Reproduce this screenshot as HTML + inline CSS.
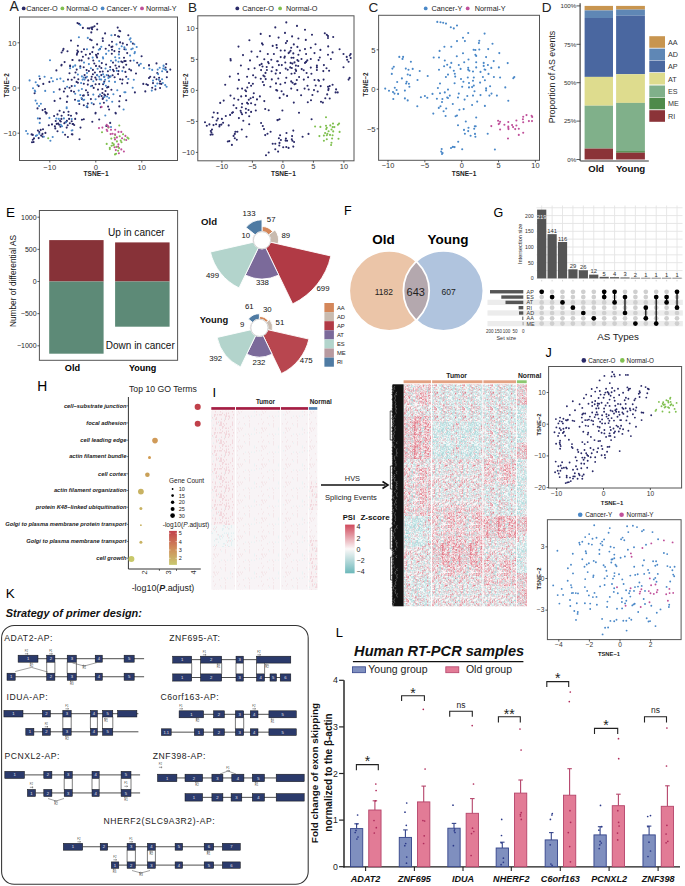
<!DOCTYPE html>
<html><head><meta charset="utf-8"><style>
html,body{margin:0;padding:0;background:#fff;}
svg{display:block;font-family:"Liberation Sans",sans-serif;}
</style></head><body>
<svg width="685" height="886" viewBox="0 0 685 886" font-family="Liberation Sans, sans-serif">
<rect width="685" height="886" fill="#fff"/>
<text x="9.5" y="11.4" font-size="14" fill="#222">A</text>
<circle cx="23.7" cy="8.4" r="1.9" fill="#2a2a68"/>
<text x="26.3" y="11.0" font-size="7.25" fill="#222">Cancer-O</text>
<circle cx="62.4" cy="8.4" r="1.9" fill="#80c050"/>
<text x="66.3" y="11.0" font-size="7.25" fill="#222">Normal-O</text>
<circle cx="102.6" cy="8.4" r="1.9" fill="#4a88c8"/>
<text x="106.6" y="11.0" font-size="7.25" fill="#222">Cancer-Y</text>
<circle cx="142.0" cy="8.4" r="1.9" fill="#c0509a"/>
<text x="146.0" y="11.0" font-size="7.25" fill="#222">Normal-Y</text>
<rect x="19.5" y="17" width="158.00" height="143.50" fill="none" stroke="#555" stroke-width="1.0"/>
<line x1="49.80" y1="160.50" x2="49.80" y2="162.50" stroke="#333" stroke-width="0.8"/>
<text x="49.8" y="170.0" font-size="7.6" text-anchor="middle" fill="#333">−10</text>
<line x1="95.80" y1="160.50" x2="95.80" y2="162.50" stroke="#333" stroke-width="0.8"/>
<text x="95.8" y="170.0" font-size="7.6" text-anchor="middle" fill="#333">0</text>
<line x1="141.80" y1="160.50" x2="141.80" y2="162.50" stroke="#333" stroke-width="0.8"/>
<text x="141.8" y="170.0" font-size="7.6" text-anchor="middle" fill="#333">10</text>
<line x1="17.50" y1="42.80" x2="19.50" y2="42.80" stroke="#333" stroke-width="0.8"/>
<text x="16.5" y="45.5" font-size="7.6" text-anchor="end" fill="#333">10</text>
<line x1="17.50" y1="88.00" x2="19.50" y2="88.00" stroke="#333" stroke-width="0.8"/>
<text x="16.5" y="90.7" font-size="7.6" text-anchor="end" fill="#333">0</text>
<line x1="17.50" y1="133.20" x2="19.50" y2="133.20" stroke="#333" stroke-width="0.8"/>
<text x="16.5" y="135.9" font-size="7.6" text-anchor="end" fill="#333">−10</text>
<text x="96.1" y="175.5" font-size="6.6" text-anchor="middle" font-weight="bold" fill="#222">TSNE−1</text>
<text x="9.1" y="85.2" font-size="6.3" text-anchor="middle" font-weight="bold" fill="#222" transform="rotate(-90 9.1 85.2)">TSNE−2</text>
<path d="M71.0 40.6h0M63.5 48.9h0M62.8 50.5h0M61.6 52.5h0M67.5 51.3h0M72.4 60.0h0M64.6 62.1h0M61.6 64.7h0M70.1 65.5h0M77.5 23.1h0M79.1 23.9h0M82.9 27.9h0M87.8 28.3h0M89.3 28.4h0M91.3 27.6h0M92.7 27.2h0M94.5 26.3h0M92.1 29.2h0M91.3 32.4h0M97.2 23.7h0M97.2 29.5h0M105.1 33.4h0M115.0 35.0h0M117.7 27.6h0M119.3 30.8h0M120.2 31.3h0M118.1 36.3h0M119.1 36.7h0M90.1 39.5h0M91.6 40.3h0M102.7 38.4h0M102.9 41.0h0M112.0 41.8h0M120.1 42.4h0M122.8 43.4h0M97.1 44.4h0M77.9 45.8h0M109.2 45.2h0M111.4 47.0h0M112.4 46.6h0M84.0 49.2h0M93.3 47.4h0M100.0 48.9h0M105.7 48.7h0M77.4 50.5h0M78.1 51.7h0M81.6 51.7h0M77.1 53.3h0M76.9 54.8h0M112.0 49.7h0M114.4 51.1h0M119.1 51.8h0M124.4 49.3h0M85.8 54.7h0M90.0 53.9h0M92.3 52.1h0M98.0 53.7h0M96.0 54.8h0M96.4 55.8h0M111.8 53.7h0M82.9 56.8h0M97.1 57.4h0M88.6 58.4h0M124.0 57.8h0M72.6 60.0h0M79.3 60.4h0M81.6 60.4h0M93.3 60.5h0M101.8 63.1h0M113.0 62.6h0M121.3 61.5h0M122.5 62.3h0M124.4 61.1h0M94.3 63.5h0M106.1 64.5h0M115.5 65.5h0M128.3 35.3h0M127.0 44.7h0M132.9 43.6h0M127.2 53.1h0M141.6 56.3h0M125.6 61.0h0M130.4 60.8h0M126.2 64.7h0M137.2 62.7h0M149.0 65.1h0M156.5 63.4h0M166.2 64.1h0M61.4 65.4h0M70.1 66.2h0M56.4 70.4h0M69.5 73.3h0M39.9 78.8h0M49.4 81.9h0M43.3 83.9h0M38.7 86.1h0M68.0 79.6h0M71.7 79.8h0M59.6 89.4h0M65.1 88.5h0M69.5 87.7h0M71.7 86.1h0M63.9 91.6h0M71.2 90.9h0M34.6 93.2h0M67.5 96.4h0M60.2 98.5h0M54.6 100.9h0M66.9 101.9h0M37.5 108.4h0M42.6 110.1h0M45.0 109.1h0M45.4 111.9h0M46.7 113.1h0M59.6 110.7h0M63.8 112.3h0M68.5 111.7h0M80.3 66.4h0M83.7 67.2h0M86.6 70.1h0M88.9 71.1h0M76.7 69.6h0M75.5 72.5h0M92.9 69.9h0M94.9 72.5h0M96.0 65.9h0M99.4 66.4h0M101.3 68.0h0M100.0 71.7h0M102.7 71.5h0M107.9 71.3h0M110.2 67.0h0M113.0 69.7h0M113.8 71.1h0M116.5 68.2h0M119.1 66.6h0M123.6 67.4h0M118.5 71.1h0M118.1 74.1h0M112.6 75.2h0M114.6 77.2h0M120.1 79.2h0M122.5 79.6h0M122.1 83.5h0M84.6 75.1h0M85.8 77.6h0M92.9 74.3h0M91.7 76.8h0M95.3 77.6h0M97.2 75.2h0M101.3 75.1h0M104.3 76.7h0M108.3 75.6h0M109.8 76.8h0M74.4 77.5h0M78.3 79.2h0M76.6 81.9h0M77.9 82.7h0M83.8 83.8h0M87.8 84.6h0M88.2 80.4h0M91.3 79.2h0M96.4 79.6h0M95.6 84.3h0M99.2 84.1h0M103.1 84.3h0M92.1 85.7h0M93.7 87.9h0M104.3 81.6h0M107.1 87.5h0M108.3 86.9h0M98.0 89.6h0M102.4 89.0h0M111.4 89.8h0M105.5 91.0h0M86.0 90.2h0M87.8 92.6h0M88.2 95.0h0M74.0 91.8h0M83.0 95.6h0M83.8 95.4h0M102.4 93.0h0M104.3 94.6h0M105.1 95.4h0M107.9 94.2h0M98.8 96.4h0M101.6 96.1h0M102.7 98.9h0M103.1 98.1h0M120.1 96.1h0M75.0 99.7h0M90.9 99.1h0M81.9 98.9h0M103.9 102.8h0M119.3 101.3h0M79.3 104.0h0M83.8 105.2h0M87.8 103.6h0M93.7 104.3h0M87.4 107.2h0M108.1 106.6h0M109.1 109.5h0M119.3 106.4h0M100.8 107.2h0M76.3 113.1h0M95.6 112.7h0M115.5 112.9h0M139.0 65.4h0M149.0 65.4h0M129.3 69.3h0M131.1 70.4h0M125.4 71.9h0M136.0 73.5h0M126.2 76.8h0M127.4 83.1h0M143.3 83.9h0M146.4 84.3h0M147.9 85.1h0M149.0 78.0h0M150.2 76.7h0M154.3 77.2h0M157.3 73.0h0M159.1 77.8h0M156.5 79.3h0M160.1 81.2h0M153.0 83.1h0M159.7 83.5h0M161.3 83.9h0M152.2 87.7h0M155.4 89.4h0M160.1 88.0h0M167.2 71.9h0M170.3 69.6h0M165.6 67.5h0M166.8 77.2h0M134.9 92.4h0M145.3 91.4h0M126.2 100.3h0M46.2 113.6h0M57.5 114.4h0M54.1 116.0h0M61.6 115.8h0M68.5 115.0h0M71.0 115.8h0M39.9 118.5h0M61.4 118.9h0M55.7 121.0h0M60.0 120.7h0M60.8 121.5h0M69.1 118.9h0M71.7 121.3h0M66.9 120.9h0M65.5 122.3h0M64.3 123.2h0M69.8 123.2h0M72.6 124.0h0M48.8 125.2h0M52.0 124.4h0M56.7 123.9h0M58.3 123.6h0M59.2 124.7h0M54.9 126.2h0M60.4 126.8h0M67.7 125.2h0M66.7 127.6h0M55.3 128.4h0M57.5 131.3h0M37.9 130.5h0M40.7 129.9h0M43.0 129.2h0M39.3 132.1h0M45.4 132.9h0M42.5 133.9h0M41.1 135.5h0M42.6 136.6h0M38.7 138.1h0M31.6 134.4h0M32.8 134.9h0M34.0 138.4h0M32.8 139.8h0M32.0 142.2h0M33.6 142.0h0M65.1 134.7h0M67.9 137.0h0M71.8 134.3h0M76.6 113.6h0M95.5 113.4h0M115.8 113.4h0M75.2 118.9h0M81.9 119.7h0M83.8 119.3h0M92.3 121.8h0M99.2 119.5h0M110.2 122.9h0M73.2 124.0h0M74.2 125.0h0M80.5 127.6h0M72.4 134.4h0M79.5 139.2h0M106.3 126.0h0" stroke="#2a2a68" stroke-width="2.10" stroke-linecap="round" fill="none"/>
<path d="M50.0 60.2h0M80.3 24.9h0M78.9 37.3h0M87.8 37.9h0M111.4 35.3h0M116.5 44.4h0M101.3 46.8h0M98.8 49.7h0M100.0 49.2h0M87.0 49.3h0M108.7 50.7h0M121.7 46.2h0M124.4 47.4h0M119.3 48.7h0M106.1 53.9h0M118.9 54.4h0M102.9 57.2h0M103.1 58.4h0M92.7 57.6h0M115.2 57.2h0M119.3 58.0h0M115.8 60.4h0M111.0 60.8h0M99.2 61.1h0M84.0 62.6h0M88.9 64.1h0M75.2 65.2h0M118.5 61.8h0M130.5 38.3h0M129.7 39.5h0M130.9 41.8h0M134.3 44.2h0M136.7 47.0h0M131.3 49.3h0M132.7 48.5h0M125.9 49.5h0M134.9 52.1h0M134.5 53.3h0M130.1 55.6h0M133.8 60.5h0M140.8 63.7h0M139.0 64.7h0M163.6 65.5h0M70.1 68.3h0M73.0 67.0h0M39.3 76.2h0M44.6 76.7h0M29.6 80.4h0M35.7 82.2h0M51.3 78.0h0M52.9 81.2h0M57.0 79.2h0M60.4 78.6h0M63.5 81.2h0M37.5 85.1h0M33.0 88.3h0M34.8 90.6h0M35.2 91.4h0M45.2 90.9h0M53.8 92.0h0M67.1 86.7h0M35.6 100.6h0M37.0 103.6h0M40.9 103.8h0M39.1 106.0h0M66.7 107.2h0M66.7 108.2h0M73.2 66.6h0M75.2 65.6h0M80.3 68.0h0M90.9 68.3h0M97.6 68.8h0M105.5 68.5h0M110.2 69.7h0M116.9 70.7h0M122.3 71.1h0M77.9 74.5h0M87.0 73.0h0M81.9 76.4h0M83.8 77.5h0M87.0 76.8h0M82.6 79.6h0M84.6 79.6h0M97.1 75.1h0M99.2 76.8h0M103.1 74.3h0M103.9 76.7h0M106.7 75.1h0M110.6 76.4h0M108.4 78.0h0M109.1 81.2h0M99.6 79.3h0M101.2 79.6h0M105.1 79.8h0M115.0 81.9h0M93.3 81.2h0M81.1 83.0h0M74.8 85.9h0M90.9 86.3h0M103.9 83.1h0M105.9 85.7h0M78.7 90.6h0M81.9 89.0h0M75.2 93.8h0M80.3 95.0h0M93.3 94.6h0M100.0 94.6h0M117.3 90.2h0M124.4 92.2h0M113.4 94.3h0M104.3 96.9h0M107.1 96.5h0M109.1 98.0h0M95.6 99.3h0M81.5 98.0h0M78.1 100.9h0M79.1 100.9h0M83.4 100.1h0M84.2 99.7h0M106.7 100.5h0M112.2 101.7h0M91.7 103.1h0M100.0 103.5h0M87.0 106.0h0M86.6 106.8h0M123.6 109.5h0M143.9 68.0h0M149.4 68.8h0M152.2 69.9h0M157.7 69.6h0M159.7 67.8h0M163.6 65.9h0M163.2 68.5h0M164.8 69.3h0M166.0 69.9h0M162.1 71.3h0M158.1 74.1h0M128.3 79.0h0M133.8 79.8h0M153.0 80.6h0M158.9 79.8h0M162.1 79.2h0M157.3 83.5h0M162.8 83.0h0M165.2 85.1h0M166.6 86.7h0M155.4 86.1h0M132.7 87.7h0M151.8 90.6h0M125.4 92.2h0M37.9 118.4h0M49.4 117.9h0M56.4 118.5h0M58.8 118.9h0M63.9 118.4h0M71.7 119.1h0M39.7 122.9h0M66.1 122.3h0M60.8 124.8h0M62.0 126.2h0M26.1 131.0h0M27.7 133.7h0M39.3 133.7h0M35.9 135.9h0M37.0 135.2h0M43.8 136.8h0M52.7 137.0h0M50.4 140.7h0M62.8 132.3h0M71.7 130.5h0M105.3 115.5h0M111.0 127.0h0M72.4 130.3h0" stroke="#4a88c8" stroke-width="2.10" stroke-linecap="round" fill="none"/>
<path d="M48.2 138.2h0M108.3 127.6h0M119.3 125.5h0M102.0 132.3h0M115.2 135.1h0M123.1 134.3h0M111.3 138.6h0M114.6 137.8h0M119.7 136.3h0M124.4 139.6h0M116.9 141.4h0M120.7 140.6h0M121.5 142.3h0M106.7 143.9h0M112.4 143.1h0M113.8 144.4h0M111.6 145.7h0M113.6 145.2h0M109.8 147.7h0M109.8 149.1h0M116.5 146.9h0M119.1 148.1h0M118.1 150.7h0M115.0 154.4h0M116.1 153.8h0M127.4 137.6h0M128.5 138.6h0" stroke="#80c050" stroke-width="2.10" stroke-linecap="round" fill="none"/>
<path d="M101.6 106.9h0M106.7 124.8h0M107.9 126.0h0M108.7 127.0h0M99.0 128.1h0M102.4 127.6h0M106.7 129.7h0M107.3 131.0h0M111.0 129.7h0M115.2 129.7h0M118.5 131.9h0M121.3 131.9h0M110.6 134.1h0M112.6 133.7h0M115.0 134.3h0M116.9 137.4h0M115.0 139.4h0M122.1 138.2h0M125.4 135.9h0M118.4 144.4h0M114.6 147.3h0M118.1 146.7h0M115.8 150.1h0M121.3 149.4h0M123.9 151.5h0M118.9 153.2h0M126.2 140.0h0" stroke="#c0509a" stroke-width="2.10" stroke-linecap="round" fill="none"/>
<text x="187.9" y="11.8" font-size="13.5" fill="#222">B</text>
<circle cx="237.3" cy="8.4" r="1.9" fill="#2a2a68"/>
<text x="242.3" y="11.0" font-size="7.3" fill="#222">Cancer-O</text>
<circle cx="280.1" cy="8.4" r="1.9" fill="#80c050"/>
<text x="285.9" y="11.0" font-size="7.3" fill="#222">Normal-O</text>
<rect x="197.8" y="15.8" width="156.20" height="145.00" fill="none" stroke="#555" stroke-width="1.0"/>
<line x1="221.90" y1="160.80" x2="221.90" y2="162.80" stroke="#333" stroke-width="0.8"/>
<text x="221.9" y="169.2" font-size="7.4" text-anchor="middle" fill="#333">−10</text>
<line x1="252.40" y1="160.80" x2="252.40" y2="162.80" stroke="#333" stroke-width="0.8"/>
<text x="252.4" y="169.2" font-size="7.4" text-anchor="middle" fill="#333">−5</text>
<line x1="282.90" y1="160.80" x2="282.90" y2="162.80" stroke="#333" stroke-width="0.8"/>
<text x="282.9" y="169.2" font-size="7.4" text-anchor="middle" fill="#333">0</text>
<line x1="313.40" y1="160.80" x2="313.40" y2="162.80" stroke="#333" stroke-width="0.8"/>
<text x="313.4" y="169.2" font-size="7.4" text-anchor="middle" fill="#333">5</text>
<line x1="343.90" y1="160.80" x2="343.90" y2="162.80" stroke="#333" stroke-width="0.8"/>
<text x="343.9" y="169.2" font-size="7.4" text-anchor="middle" fill="#333">10</text>
<line x1="195.80" y1="28.40" x2="197.80" y2="28.40" stroke="#333" stroke-width="0.8"/>
<text x="194.8" y="31.1" font-size="7.6" text-anchor="end" fill="#333">10</text>
<line x1="195.80" y1="59.40" x2="197.80" y2="59.40" stroke="#333" stroke-width="0.8"/>
<text x="194.8" y="62.1" font-size="7.6" text-anchor="end" fill="#333">5</text>
<line x1="195.80" y1="90.40" x2="197.80" y2="90.40" stroke="#333" stroke-width="0.8"/>
<text x="194.8" y="93.1" font-size="7.6" text-anchor="end" fill="#333">0</text>
<line x1="195.80" y1="121.40" x2="197.80" y2="121.40" stroke="#333" stroke-width="0.8"/>
<text x="194.8" y="124.1" font-size="7.6" text-anchor="end" fill="#333">−5</text>
<line x1="195.80" y1="152.40" x2="197.80" y2="152.40" stroke="#333" stroke-width="0.8"/>
<text x="194.8" y="155.1" font-size="7.6" text-anchor="end" fill="#333">−10</text>
<text x="188.1" y="85.4" font-size="6.3" text-anchor="middle" font-weight="bold" fill="#222" transform="rotate(-90 188.1 85.4)">TSNE−2</text>
<text x="283.4" y="175.8" font-size="6.5" text-anchor="middle" font-weight="bold" fill="#222">TSNE−1</text>
<path d="M237.7 88.6h0M242.1 88.6h0M245.3 90.3h0M246.1 91.3h0M276.2 90.1h0M253.8 93.3h0M230.5 95.6h0M241.2 96.4h0M245.9 95.9h0M259.9 96.4h0M234.2 98.5h0M238.3 99.7h0M248.8 99.7h0M250.6 98.3h0M253.1 97.3h0M257.0 99.4h0M264.3 101.1h0M223.7 100.6h0M220.2 102.9h0M242.1 103.8h0M247.1 102.9h0M248.0 103.8h0M251.1 103.2h0M255.2 104.7h0M233.6 105.2h0M241.8 107.3h0M236.3 108.1h0M245.9 108.8h0M248.5 110.0h0M251.1 111.9h0M255.8 110.5h0M265.2 109.0h0M268.7 110.2h0M240.6 110.8h0M241.2 112.5h0M242.1 114.3h0M245.9 112.8h0M233.0 112.3h0M232.1 112.9h0M230.1 114.9h0M225.8 116.0h0M249.2 116.3h0M213.8 112.5h0M217.6 113.1h0M212.6 117.2h0M217.9 118.6h0M221.9 118.9h0M216.7 120.5h0M238.9 118.1h0M243.3 120.7h0M205.0 122.2h0M209.4 124.4h0M206.8 125.7h0M213.5 125.1h0M216.1 124.2h0M219.6 125.1h0M221.4 124.6h0M223.1 122.8h0M219.4 126.5h0M228.7 125.4h0M249.2 124.2h0M261.1 123.0h0M262.8 126.0h0M264.0 129.1h0M212.0 129.5h0M210.8 131.0h0M211.4 132.6h0M210.6 134.7h0M212.6 134.5h0M235.4 131.8h0M237.4 131.8h0M234.8 133.9h0M233.6 135.9h0M241.8 129.5h0M270.6 131.8h0M267.5 133.8h0M265.2 135.1h0M234.8 138.2h0M236.8 139.7h0M246.5 136.8h0M227.8 141.5h0M229.3 141.1h0M231.9 144.9h0M277.4 120.1h0M272.7 143.8h0M275.3 143.8h0M275.3 149.3h0M268.7 152.5h0M266.0 155.2h0M277.2 90.6h0M281.6 91.3h0M291.2 88.6h0M297.3 90.1h0M304.6 88.6h0M308.7 89.5h0M314.0 90.1h0M317.7 91.5h0M328.6 88.9h0M328.3 90.1h0M336.1 89.4h0M335.6 92.4h0M337.7 92.4h0M283.6 94.4h0M287.1 95.9h0M301.1 95.2h0M312.4 95.0h0M327.2 94.4h0M279.7 97.9h0M325.3 98.3h0M329.7 98.5h0M293.8 102.6h0M307.8 102.2h0M311.0 100.3h0M321.0 101.8h0M322.9 102.6h0M282.4 110.5h0M299.0 112.8h0M277.8 120.1h0M279.5 119.3h0M311.6 119.3h0M293.3 130.6h0M286.5 133.0h0M308.5 133.9h0M280.1 135.3h0M278.9 138.2h0M280.9 140.0h0M285.9 138.5h0M285.6 140.6h0M287.1 140.8h0M292.1 136.1h0M291.8 139.2h0M292.4 140.8h0M294.1 142.0h0M302.6 136.8h0M279.5 142.9h0M279.3 145.5h0M283.2 147.3h0M286.3 147.0h0M288.6 147.9h0M293.3 146.6h0M278.1 151.6h0M275.3 27.4h0M260.7 33.9h0M269.8 36.1h0M249.4 40.2h0M262.0 43.4h0M262.8 44.6h0M272.7 45.9h0M276.5 45.0h0M276.8 47.8h0M238.5 46.6h0M251.5 51.6h0M260.2 51.3h0M267.8 54.0h0M273.9 54.0h0M243.0 55.1h0M257.3 56.8h0M230.5 59.0h0M230.7 60.4h0M250.0 60.4h0M264.3 59.2h0M271.3 59.8h0M268.1 62.1h0M268.7 63.3h0M261.6 63.9h0M259.7 65.1h0M277.2 61.3h0M240.9 65.5h0M262.5 66.5h0M266.7 67.0h0M272.5 67.2h0M254.6 68.2h0M248.5 69.1h0M261.1 70.1h0M266.9 70.0h0M271.6 71.2h0M276.5 70.0h0M275.7 73.6h0M238.1 73.7h0M265.5 72.9h0M229.8 76.6h0M247.1 76.8h0M253.1 75.3h0M255.6 77.5h0M263.4 75.6h0M264.6 76.5h0M260.8 78.8h0M265.7 79.1h0M271.8 79.4h0M238.9 79.9h0M262.8 82.0h0M276.0 83.4h0M249.0 83.0h0M252.9 83.7h0M251.1 85.8h0M225.2 84.7h0M247.3 87.5h0M270.4 86.8h0M264.0 85.1h0M286.3 22.4h0M297.0 25.9h0M305.0 29.7h0M285.0 32.9h0M312.0 34.7h0M278.6 37.6h0M292.1 36.4h0M298.4 38.5h0M305.8 39.9h0M324.8 33.3h0M326.8 34.7h0M328.0 36.1h0M328.0 38.0h0M333.2 37.0h0M287.1 41.1h0M285.9 43.1h0M293.8 44.4h0M315.5 44.3h0M276.6 45.0h0M276.9 47.8h0M291.2 47.8h0M297.4 46.9h0M305.0 49.1h0M310.8 47.8h0M328.2 46.4h0M280.7 50.5h0M284.8 50.5h0M290.6 50.8h0M289.4 52.2h0M288.6 53.1h0M299.9 50.5h0M293.3 53.4h0M320.4 49.9h0M339.6 49.3h0M298.4 54.8h0M306.1 54.0h0M314.5 53.1h0M332.6 52.4h0M328.0 54.8h0M343.5 54.0h0M350.7 54.0h0M349.8 55.5h0M280.7 57.1h0M284.8 56.6h0M284.4 57.8h0M291.5 57.8h0M293.5 57.8h0M301.5 59.0h0M297.4 60.1h0M298.4 61.0h0M307.3 60.4h0M306.1 61.9h0M305.0 62.9h0M310.8 59.0h0M319.8 57.5h0M318.6 60.1h0M330.9 59.0h0M346.7 56.9h0M350.7 58.0h0M347.2 59.8h0M348.6 61.8h0M277.8 61.3h0M285.3 62.5h0M290.6 62.9h0M292.4 63.6h0M294.5 62.4h0M278.9 65.1h0M281.8 65.1h0M295.9 65.6h0M298.2 66.0h0M316.9 65.6h0M316.9 67.4h0M323.9 65.1h0M285.7 68.6h0M287.7 69.7h0M290.2 67.4h0M291.8 68.0h0M295.6 69.5h0M296.1 70.9h0M301.7 69.1h0M303.7 70.3h0M310.8 67.6h0M316.9 70.0h0M326.5 68.3h0M329.1 70.7h0M323.3 71.1h0M343.5 67.2h0M276.6 70.3h0M280.1 73.0h0M291.5 73.8h0M294.7 73.2h0M306.6 73.0h0M311.4 73.8h0M286.3 77.7h0M278.3 78.5h0M299.1 77.0h0M308.1 77.3h0M303.8 79.6h0M314.5 80.0h0M318.3 80.0h0M319.0 80.8h0M323.6 79.6h0M349.6 77.9h0M348.6 79.6h0M285.1 82.8h0M291.2 81.4h0M292.6 82.8h0M294.5 84.3h0M296.8 80.0h0M295.6 83.7h0M280.4 84.3h0M307.5 85.8h0M315.7 85.5h0M320.7 86.1h0M332.6 84.7h0M328.0 86.7h0M329.7 86.1h0" stroke="#2a2a68" stroke-width="2.10" stroke-linecap="round" fill="none"/>
<path d="M326.0 117.2h0M315.1 126.5h0M320.4 126.9h0M326.0 125.7h0M326.8 127.7h0M326.2 129.1h0M330.3 125.4h0M333.0 123.6h0M332.6 127.1h0M334.4 127.1h0M337.9 124.8h0M339.1 123.6h0M331.5 129.5h0M333.2 131.4h0M339.6 131.9h0M328.6 131.2h0M325.1 133.0h0M327.4 133.8h0M326.8 135.3h0M323.9 135.6h0M319.4 136.1h0M330.0 134.9h0M332.6 135.3h0M332.1 138.5h0M326.8 139.2h0M323.9 140.8h0M338.5 138.8h0M331.5 142.7h0M331.1 145.0h0" stroke="#80c050" stroke-width="2.10" stroke-linecap="round" fill="none"/>
<text x="368.6" y="11.8" font-size="13.5" fill="#222">C</text>
<circle cx="425.7" cy="8.4" r="1.9" fill="#4a88c8"/>
<text x="431.5" y="11.0" font-size="7.3" fill="#222">Cancer-Y</text>
<circle cx="467.7" cy="8.4" r="1.9" fill="#c0509a"/>
<text x="474.8" y="11.0" font-size="7.3" fill="#222">Normal-Y</text>
<rect x="378.6" y="15.3" width="160.90" height="145.00" fill="none" stroke="#555" stroke-width="1.0"/>
<line x1="388.00" y1="160.30" x2="388.00" y2="162.30" stroke="#333" stroke-width="0.8"/>
<text x="388.0" y="168.2" font-size="7.4" text-anchor="middle" fill="#333">−10</text>
<line x1="424.85" y1="160.30" x2="424.85" y2="162.30" stroke="#333" stroke-width="0.8"/>
<text x="424.8" y="168.2" font-size="7.4" text-anchor="middle" fill="#333">−5</text>
<line x1="461.70" y1="160.30" x2="461.70" y2="162.30" stroke="#333" stroke-width="0.8"/>
<text x="461.7" y="168.2" font-size="7.4" text-anchor="middle" fill="#333">0</text>
<line x1="498.55" y1="160.30" x2="498.55" y2="162.30" stroke="#333" stroke-width="0.8"/>
<text x="498.6" y="168.2" font-size="7.4" text-anchor="middle" fill="#333">5</text>
<line x1="535.40" y1="160.30" x2="535.40" y2="162.30" stroke="#333" stroke-width="0.8"/>
<text x="535.4" y="168.2" font-size="7.4" text-anchor="middle" fill="#333">10</text>
<line x1="376.60" y1="49.80" x2="378.60" y2="49.80" stroke="#333" stroke-width="0.8"/>
<text x="375.6" y="52.5" font-size="7.6" text-anchor="end" fill="#333">5</text>
<line x1="376.60" y1="89.30" x2="378.60" y2="89.30" stroke="#333" stroke-width="0.8"/>
<text x="375.6" y="92.0" font-size="7.6" text-anchor="end" fill="#333">0</text>
<line x1="376.60" y1="128.80" x2="378.60" y2="128.80" stroke="#333" stroke-width="0.8"/>
<text x="375.6" y="131.5" font-size="7.6" text-anchor="end" fill="#333">−5</text>
<text x="368.0" y="84.4" font-size="6.3" text-anchor="middle" font-weight="bold" fill="#222" transform="rotate(-90 368 84.4)">TSNE−2</text>
<text x="464.1" y="175.8" font-size="6.5" text-anchor="middle" font-weight="bold" fill="#222">TSNE−1</text>
<path d="M437.3 21.9h0M440.5 22.2h0M443.2 22.8h0M446.0 23.6h0M450.8 27.2h0M453.8 28.4h0M457.0 25.5h0M457.0 41.1h0M444.4 46.7h0M451.3 46.7h0M439.6 50.9h0M433.7 57.5h0M439.0 57.5h0M456.8 56.3h0M444.8 60.5h0M451.3 62.9h0M447.2 64.7h0M444.1 66.2h0M450.2 67.4h0M458.8 65.0h0M453.8 70.7h0M454.8 73.7h0M455.2 76.6h0M448.0 74.6h0M445.9 77.0h0M439.0 69.8h0M454.6 83.2h0M440.0 83.5h0M437.9 88.0h0M399.3 56.9h0M403.1 56.9h0M402.5 58.9h0M410.9 61.7h0M393.8 66.7h0M392.4 68.6h0M405.8 68.6h0M408.5 69.7h0M412.7 68.9h0M419.7 71.0h0M391.8 73.9h0M407.7 74.5h0M410.1 75.2h0M427.7 76.0h0M401.9 78.4h0M417.5 80.0h0M397.2 82.0h0M406.7 81.8h0M406.1 83.5h0M408.9 83.8h0M409.4 86.8h0M394.8 87.8h0M385.2 88.6h0M468.2 33.0h0M484.6 33.6h0M463.0 37.7h0M464.9 41.1h0M479.3 40.7h0M478.9 43.1h0M492.5 43.7h0M473.6 49.7h0M475.4 50.0h0M479.3 49.5h0M488.2 49.1h0M463.0 53.3h0M475.4 54.7h0M476.2 55.9h0M486.1 57.1h0M499.3 53.1h0M468.5 59.5h0M464.2 62.3h0M476.2 62.3h0M493.7 61.1h0M507.7 63.1h0M483.7 62.9h0M483.7 65.9h0M487.9 65.0h0M460.6 68.9h0M468.2 67.7h0M468.2 69.8h0M469.4 70.7h0M476.2 67.4h0M484.6 69.5h0M485.3 69.8h0M491.3 67.9h0M498.9 67.4h0M473.0 71.5h0M480.5 71.9h0M488.5 73.9h0M461.0 79.0h0M467.8 77.5h0M473.8 77.5h0M482.9 77.0h0M493.9 77.0h0M500.1 77.5h0M513.3 78.2h0M514.3 77.0h0M463.4 81.8h0M469.0 83.0h0M473.0 80.8h0M484.9 80.2h0M480.1 82.6h0M462.2 86.8h0M469.0 87.4h0M472.1 87.1h0M473.8 85.6h0M486.1 88.3h0M490.1 86.2h0M505.3 87.4h0M389.0 90.8h0M393.0 92.0h0M394.5 93.6h0M396.6 90.0h0M398.1 93.9h0M404.9 90.6h0M393.3 99.0h0M404.9 98.4h0M407.7 100.4h0M417.3 106.2h0M420.9 97.2h0M424.9 96.0h0M427.3 97.8h0M432.5 93.9h0M440.0 93.2h0M444.8 92.4h0M448.0 89.6h0M449.8 95.6h0M447.2 97.5h0M448.0 98.0h0M436.9 98.7h0M442.4 99.0h0M442.0 102.0h0M440.5 106.2h0M438.8 107.9h0M446.2 108.5h0M443.6 111.2h0M433.3 113.6h0M445.6 116.0h0M452.8 104.0h0M458.0 97.5h0M458.8 93.6h0M459.4 109.7h0M455.6 116.3h0M457.0 115.5h0M458.0 125.3h0M458.2 141.8h0M451.0 148.0h0M452.8 146.9h0M454.6 147.1h0M441.7 149.0h0M441.2 151.6h0M442.6 153.1h0M442.0 154.0h0M474.5 91.2h0M486.1 90.4h0M467.3 96.0h0M473.0 95.6h0M480.5 95.1h0M489.4 95.6h0M491.5 93.6h0M496.9 95.6h0M464.6 99.6h0M477.2 101.6h0M508.3 100.8h0M472.1 105.0h0M484.9 105.9h0M463.7 109.1h0M476.2 117.5h0M465.8 121.5h0M474.8 126.3h0M475.7 126.3h0M468.5 127.7h0M474.2 128.7h0M464.0 129.9h0M468.2 131.1h0M464.9 133.7h0M475.0 133.9h0M470.6 135.8h0M475.4 136.7h0M487.7 133.7h0M462.2 149.2h0M494.9 149.5h0" stroke="#4a88c8" stroke-width="2.10" stroke-linecap="round" fill="none"/>
<path d="M491.3 126.1h0M498.1 120.8h0M500.1 121.7h0M499.3 123.5h0M498.7 124.1h0M504.4 124.7h0M500.1 129.5h0M508.3 122.0h0M508.3 126.5h0M508.3 127.9h0M508.5 129.1h0M512.1 125.1h0M513.1 127.1h0M515.2 129.1h0M516.4 120.5h0M516.4 125.5h0M518.8 128.7h0M523.2 116.7h0M522.9 119.3h0M523.2 122.3h0M526.5 115.1h0M531.6 115.7h0M532.2 116.9h0M528.9 121.1h0M532.0 121.1h0M518.8 134.9h0M523.2 132.8h0M508.0 138.5h0" stroke="#c0509a" stroke-width="2.10" stroke-linecap="round" fill="none"/>
<text x="541.8" y="11.6" font-size="13.5" fill="#222">D</text>
<line x1="580.10" y1="3.20" x2="580.10" y2="161.00" stroke="#444" stroke-width="1.2"/>
<line x1="580.30" y1="161.00" x2="648.80" y2="161.00" stroke="#333" stroke-width="1.2"/>
<line x1="576.40" y1="159.50" x2="580.30" y2="159.50" stroke="#333" stroke-width="0.8"/>
<text x="576.3" y="161.7" font-size="6.2" text-anchor="end" fill="#333">0%</text>
<line x1="576.40" y1="121.10" x2="580.30" y2="121.10" stroke="#333" stroke-width="0.8"/>
<text x="576.3" y="123.3" font-size="6.2" text-anchor="end" fill="#333">25%</text>
<line x1="576.40" y1="82.70" x2="580.30" y2="82.70" stroke="#333" stroke-width="0.8"/>
<text x="576.3" y="84.9" font-size="6.2" text-anchor="end" fill="#333">50%</text>
<line x1="576.40" y1="44.30" x2="580.30" y2="44.30" stroke="#333" stroke-width="0.8"/>
<text x="576.3" y="46.5" font-size="6.2" text-anchor="end" fill="#333">75%</text>
<line x1="576.40" y1="5.90" x2="580.30" y2="5.90" stroke="#333" stroke-width="0.8"/>
<text x="576.3" y="8.1" font-size="6.2" text-anchor="end" fill="#333">100%</text>
<rect x="584.60" y="5.90" width="28.40" height="4.50" fill="#c8954f"/>
<rect x="584.60" y="10.40" width="28.40" height="7.60" fill="#5f87b5"/>
<rect x="584.60" y="18.00" width="28.40" height="58.90" fill="#4a67a0"/>
<rect x="584.60" y="76.90" width="28.40" height="28.80" fill="#dedc8e"/>
<rect x="584.60" y="105.70" width="28.40" height="42.90" fill="#80b08a"/>
<rect x="584.60" y="148.60" width="28.40" height="10.90" fill="#8b3338"/>
<rect x="616.10" y="5.90" width="28.80" height="3.70" fill="#c8954f"/>
<rect x="616.10" y="9.60" width="28.80" height="6.10" fill="#5f87b5"/>
<rect x="616.10" y="15.70" width="28.80" height="58.50" fill="#4a67a0"/>
<rect x="616.10" y="74.20" width="28.80" height="28.70" fill="#dedc8e"/>
<rect x="616.10" y="102.90" width="28.80" height="48.20" fill="#80b08a"/>
<rect x="616.10" y="151.10" width="28.80" height="1.60" fill="#4e8a4a"/>
<rect x="616.10" y="152.70" width="28.80" height="6.80" fill="#8b3338"/>
<rect x="649.30" y="36.20" width="15.70" height="11.60" fill="#c8954f"/>
<text x="668.0" y="44.8" font-size="7.2" fill="#333">AA</text>
<rect x="649.30" y="48.60" width="15.70" height="11.60" fill="#5f87b5"/>
<text x="668.0" y="57.2" font-size="7.2" fill="#333">AD</text>
<rect x="649.30" y="60.60" width="15.70" height="11.60" fill="#4a67a0"/>
<text x="668.0" y="69.2" font-size="7.2" fill="#333">AP</text>
<rect x="649.30" y="72.90" width="15.70" height="11.60" fill="#dedc8e"/>
<text x="668.0" y="81.5" font-size="7.2" fill="#333">AT</text>
<rect x="649.30" y="85.50" width="15.70" height="11.60" fill="#80b08a"/>
<text x="668.0" y="94.1" font-size="7.2" fill="#333">ES</text>
<rect x="649.30" y="97.70" width="15.70" height="11.60" fill="#4e8a4a"/>
<text x="668.0" y="106.3" font-size="7.2" fill="#333">ME</text>
<rect x="649.30" y="110.20" width="15.70" height="11.60" fill="#8b3338"/>
<text x="668.0" y="118.8" font-size="7.2" fill="#333">RI</text>
<text x="555.2" y="77.0" font-size="8.8" text-anchor="middle" fill="#222" transform="rotate(-90 555.2 77)">Proportion of AS events</text>
<text x="596.2" y="172.0" font-size="9.5" text-anchor="middle" font-weight="bold" fill="#111">Old</text>
<text x="630.6" y="172.0" font-size="9.7" text-anchor="middle" font-weight="bold" fill="#111">Young</text>
<text x="5.8" y="598.2" font-size="13.5">K</text>
<text x="5.8" y="617.4" font-size="10.95" font-weight="bold" font-style="italic" fill="#111">Strategy of primer design:</text>
<rect x="1.6" y="625.4" width="306.6" height="258.8" rx="12.5" ry="12.5" fill="none" stroke="#333" stroke-width="1.05"/>
<text x="4.2" y="641.2" font-size="8.6" letter-spacing="0.55" fill="#222">ADAT2-AP:</text>
<line x1="38.00" y1="658.70" x2="144.10" y2="658.70" stroke="#444" stroke-width="0.95"/>
<line x1="15.20" y1="676.75" x2="144.10" y2="676.75" stroke="#444" stroke-width="0.95"/>
<line x1="46.70" y1="662.20" x2="46.70" y2="673.20" stroke="#222" stroke-width="0.6"/>
<line x1="54.90" y1="662.20" x2="54.90" y2="673.20" stroke="#222" stroke-width="0.6"/>
<line x1="67.20" y1="662.20" x2="67.20" y2="673.20" stroke="#222" stroke-width="0.6"/>
<line x1="76.40" y1="662.20" x2="76.40" y2="673.20" stroke="#222" stroke-width="0.6"/>
<rect x="18.1" y="655.2" width="19.9" height="7.0" fill="#2b3a6b" stroke="#111" stroke-width="0.5"/>
<text x="28.1" y="660.2" font-size="4.2" text-anchor="middle" fill="#e8e8f0">1</text>
<rect x="46.7" y="655.2" width="8.2" height="7.0" fill="#2b3a6b" stroke="#111" stroke-width="0.5"/>
<text x="50.8" y="660.2" font-size="4.2" text-anchor="middle" fill="#e8e8f0">2</text>
<rect x="67.2" y="655.2" width="9.2" height="7.0" fill="#2b3a6b" stroke="#111" stroke-width="0.5"/>
<text x="71.8" y="660.2" font-size="4.2" text-anchor="middle" fill="#e8e8f0">3</text>
<rect x="95.2" y="655.2" width="7.1" height="7.0" fill="#2b3a6b" stroke="#111" stroke-width="0.5"/>
<text x="98.8" y="660.2" font-size="4.2" text-anchor="middle" fill="#e8e8f0">4</text>
<rect x="124.1" y="655.2" width="10.1" height="7.0" fill="#2b3a6b" stroke="#111" stroke-width="0.5"/>
<text x="129.1" y="660.2" font-size="4.2" text-anchor="middle" fill="#e8e8f0">5</text>
<rect x="7.0" y="673.2" width="8.2" height="7.1" fill="#2b3a6b" stroke="#111" stroke-width="0.5"/>
<text x="11.1" y="678.2" font-size="4.2" text-anchor="middle" fill="#e8e8f0">1</text>
<rect x="46.7" y="673.2" width="8.2" height="7.1" fill="#2b3a6b" stroke="#111" stroke-width="0.5"/>
<text x="50.8" y="678.2" font-size="4.2" text-anchor="middle" fill="#e8e8f0">2</text>
<rect x="67.2" y="673.2" width="9.2" height="7.1" fill="#2b3a6b" stroke="#111" stroke-width="0.5"/>
<text x="71.8" y="678.2" font-size="4.2" text-anchor="middle" fill="#e8e8f0">3</text>
<rect x="95.2" y="673.2" width="7.1" height="7.1" fill="#2b3a6b" stroke="#111" stroke-width="0.5"/>
<text x="98.8" y="678.2" font-size="4.2" text-anchor="middle" fill="#e8e8f0">4</text>
<rect x="124.1" y="673.2" width="10.1" height="7.1" fill="#2b3a6b" stroke="#111" stroke-width="0.5"/>
<text x="129.1" y="678.2" font-size="4.2" text-anchor="middle" fill="#e8e8f0">5</text>
<path d="M15.2 671.5L31.5 667.4L47.9 672.1M72.5 663L84.3 666L96.8 662.6" fill="none" stroke="#444" stroke-width="0.5"/>
<text x="26.5" y="651.7" font-size="2.8" text-anchor="middle" fill="#444">F2</text>
<path d="M24.9 653.8H28.1M27.2 653.1L28.1 653.8L27.2 654.5" fill="none" stroke="#333" stroke-width="0.45"/>
<text x="50.8" y="651.7" font-size="2.8" text-anchor="middle" fill="#444">F1</text>
<path d="M49.2 653.8H52.4M51.5 653.1L52.4 653.8L51.5 654.5" fill="none" stroke="#333" stroke-width="0.45"/>
<text x="31.5" y="666.5" font-size="2.8" text-anchor="middle" fill="#444">R2</text>
<path d="M29.9 663.2H33.1M30.8 662.5L29.9 663.2L30.8 663.9" fill="none" stroke="#333" stroke-width="0.45"/>
<text x="84.3" y="668.8" font-size="2.8" text-anchor="middle" fill="#444">R1</text>
<path d="M82.7 665.5H85.9M83.6 664.8L82.7 665.5L83.6 666.2" fill="none" stroke="#333" stroke-width="0.45"/>
<text x="71.8" y="684.5" font-size="2.8" text-anchor="middle" fill="#444">R3</text>
<path d="M70.2 681.2H73.4M71.1 680.5L70.2 681.2L71.1 681.9" fill="none" stroke="#333" stroke-width="0.45"/>
<text x="169.2" y="640.6" font-size="8.6" letter-spacing="0.55" fill="#222">ZNF695-AT:</text>
<line x1="191.70" y1="659.65" x2="256.50" y2="659.65" stroke="#444" stroke-width="0.95"/>
<line x1="191.70" y1="677.50" x2="280.20" y2="677.50" stroke="#444" stroke-width="0.95"/>
<line x1="191.70" y1="663.10" x2="191.70" y2="673.90" stroke="#222" stroke-width="0.6"/>
<line x1="200.50" y1="663.10" x2="200.50" y2="673.90" stroke="#222" stroke-width="0.6"/>
<line x1="221.70" y1="663.10" x2="221.70" y2="673.90" stroke="#222" stroke-width="0.6"/>
<line x1="236.00" y1="663.10" x2="236.00" y2="673.90" stroke="#222" stroke-width="0.6"/>
<line x1="243.40" y1="663.10" x2="243.40" y2="673.90" stroke="#222" stroke-width="0.6"/>
<line x1="256.50" y1="663.10" x2="256.50" y2="673.90" stroke="#222" stroke-width="0.6"/>
<line x1="264.60" y1="663.10" x2="264.60" y2="673.90" stroke="#222" stroke-width="0.6"/>
<rect x="172.7" y="656.2" width="19.0" height="6.9" fill="#2b3a6b" stroke="#111" stroke-width="0.5"/>
<text x="182.2" y="661.2" font-size="4.2" text-anchor="middle" fill="#e8e8f0">1</text>
<rect x="200.5" y="656.2" width="21.2" height="6.9" fill="#2b3a6b" stroke="#111" stroke-width="0.5"/>
<text x="211.1" y="661.2" font-size="4.2" text-anchor="middle" fill="#e8e8f0">2</text>
<rect x="236.0" y="656.2" width="7.4" height="6.9" fill="#2b3a6b" stroke="#111" stroke-width="0.5"/>
<text x="239.7" y="661.2" font-size="4.2" text-anchor="middle" fill="#e8e8f0">3</text>
<rect x="256.5" y="656.2" width="34.3" height="6.9" fill="#2b3a6b" stroke="#111" stroke-width="0.5"/>
<rect x="172.7" y="673.9" width="19.0" height="7.2" fill="#2b3a6b" stroke="#111" stroke-width="0.5"/>
<text x="182.2" y="679.0" font-size="4.2" text-anchor="middle" fill="#e8e8f0">1</text>
<rect x="200.5" y="673.9" width="21.2" height="7.2" fill="#2b3a6b" stroke="#111" stroke-width="0.5"/>
<text x="211.1" y="679.0" font-size="4.2" text-anchor="middle" fill="#e8e8f0">2</text>
<rect x="236.0" y="673.9" width="7.4" height="7.2" fill="#2b3a6b" stroke="#111" stroke-width="0.5"/>
<text x="239.7" y="679.0" font-size="4.2" text-anchor="middle" fill="#e8e8f0">3</text>
<rect x="256.5" y="673.9" width="8.1" height="7.2" fill="#2b3a6b" stroke="#111" stroke-width="0.5"/>
<text x="260.6" y="679.0" font-size="4.2" text-anchor="middle" fill="#e8e8f0">4</text>
<rect x="270.0" y="673.9" width="6.5" height="7.2" fill="#2b3a6b" stroke="#111" stroke-width="0.5"/>
<text x="273.2" y="679.0" font-size="4.2" text-anchor="middle" fill="#e8e8f0">5</text>
<rect x="280.2" y="673.9" width="10.6" height="7.2" fill="#2b3a6b" stroke="#111" stroke-width="0.5"/>
<text x="285.5" y="679.0" font-size="4.2" text-anchor="middle" fill="#e8e8f0">6</text>
<text x="204.5" y="652.7" font-size="2.8" text-anchor="middle" fill="#444">F1</text>
<path d="M202.9 654.8H206.1M205.2 654.1L206.1 654.8L205.2 655.5" fill="none" stroke="#333" stroke-width="0.45"/>
<text x="259.0" y="652.7" font-size="2.8" text-anchor="middle" fill="#444">F2</text>
<path d="M257.4 654.8H260.6M259.7 654.1L260.6 654.8L259.7 655.5" fill="none" stroke="#333" stroke-width="0.45"/>
<text x="218.5" y="667.5" font-size="2.8" text-anchor="middle" fill="#444">R1</text>
<path d="M216.9 664.2H220.1M217.8 663.5L216.9 664.2L217.8 664.9" fill="none" stroke="#333" stroke-width="0.45"/>
<text x="267.0" y="668.0" font-size="2.8" text-anchor="middle" fill="#444">R2</text>
<path d="M265.4 664.7H268.6M266.3 664.0L265.4 664.7L266.3 665.4" fill="none" stroke="#333" stroke-width="0.45"/>
<text x="6.6" y="700.3" font-size="8.6" letter-spacing="0.55" fill="#222">IDUA-AP:</text>
<line x1="23.00" y1="713.70" x2="138.40" y2="713.70" stroke="#444" stroke-width="0.95"/>
<line x1="33.90" y1="731.80" x2="138.40" y2="731.80" stroke="#444" stroke-width="0.95"/>
<line x1="62.80" y1="717.00" x2="62.80" y2="728.30" stroke="#222" stroke-width="0.6"/>
<line x1="71.20" y1="717.00" x2="71.20" y2="728.30" stroke="#222" stroke-width="0.6"/>
<line x1="90.40" y1="717.00" x2="90.40" y2="728.30" stroke="#222" stroke-width="0.6"/>
<line x1="97.40" y1="717.00" x2="97.40" y2="728.30" stroke="#222" stroke-width="0.6"/>
<line x1="102.50" y1="717.00" x2="102.50" y2="728.30" stroke="#222" stroke-width="0.6"/>
<line x1="112.80" y1="717.00" x2="112.80" y2="728.30" stroke="#222" stroke-width="0.6"/>
<rect x="3.9" y="710.4" width="19.1" height="6.6" fill="#2b3a6b" stroke="#111" stroke-width="0.5"/>
<text x="13.4" y="715.2" font-size="4.2" text-anchor="middle" fill="#e8e8f0">1</text>
<rect x="42.3" y="710.4" width="8.1" height="6.6" fill="#2b3a6b" stroke="#111" stroke-width="0.5"/>
<text x="46.3" y="715.2" font-size="4.2" text-anchor="middle" fill="#e8e8f0">2</text>
<rect x="62.8" y="710.4" width="8.4" height="6.6" fill="#2b3a6b" stroke="#111" stroke-width="0.5"/>
<text x="67.0" y="715.2" font-size="4.2" text-anchor="middle" fill="#e8e8f0">3</text>
<rect x="90.4" y="710.4" width="7.0" height="6.6" fill="#2b3a6b" stroke="#111" stroke-width="0.5"/>
<text x="93.9" y="715.2" font-size="4.2" text-anchor="middle" fill="#e8e8f0">4</text>
<rect x="102.5" y="710.4" width="10.3" height="6.6" fill="#2b3a6b" stroke="#111" stroke-width="0.5"/>
<text x="107.7" y="715.2" font-size="4.2" text-anchor="middle" fill="#e8e8f0">5</text>
<rect x="117.6" y="710.4" width="19.3" height="6.6" fill="#2b3a6b" stroke="#111" stroke-width="0.5"/>
<rect x="25.8" y="728.3" width="8.1" height="7.0" fill="#2b3a6b" stroke="#111" stroke-width="0.5"/>
<text x="29.9" y="733.3" font-size="4.2" text-anchor="middle" fill="#e8e8f0">1</text>
<rect x="42.3" y="728.3" width="8.1" height="7.0" fill="#2b3a6b" stroke="#111" stroke-width="0.5"/>
<text x="46.3" y="733.3" font-size="4.2" text-anchor="middle" fill="#e8e8f0">2</text>
<rect x="62.8" y="728.3" width="8.4" height="7.0" fill="#2b3a6b" stroke="#111" stroke-width="0.5"/>
<text x="67.0" y="733.3" font-size="4.2" text-anchor="middle" fill="#e8e8f0">3</text>
<rect x="90.4" y="728.3" width="7.0" height="7.0" fill="#2b3a6b" stroke="#111" stroke-width="0.5"/>
<text x="93.9" y="733.3" font-size="4.2" text-anchor="middle" fill="#e8e8f0">4</text>
<rect x="102.5" y="728.3" width="10.3" height="7.0" fill="#2b3a6b" stroke="#111" stroke-width="0.5"/>
<text x="107.7" y="733.3" font-size="4.2" text-anchor="middle" fill="#e8e8f0">5</text>
<text x="67.0" y="706.7" font-size="2.8" text-anchor="middle" fill="#444">F1</text>
<path d="M65.4 708.8H68.6M67.7 708.1L68.6 708.8L67.7 709.5" fill="none" stroke="#333" stroke-width="0.45"/>
<text x="46.3" y="724.7" font-size="2.8" text-anchor="middle" fill="#444">F2</text>
<path d="M44.7 726.8H47.9M47.0 726.1L47.9 726.8L47.0 727.5" fill="none" stroke="#333" stroke-width="0.45"/>
<text x="106.0" y="722.0" font-size="2.8" text-anchor="middle" fill="#444">R1</text>
<path d="M104.4 718.7H107.6M105.3 718.0L104.4 718.7L105.3 719.4" fill="none" stroke="#333" stroke-width="0.45"/>
<text x="67.0" y="739.5" font-size="2.8" text-anchor="middle" fill="#444">R2</text>
<path d="M65.4 736.2H68.6M66.3 735.5L65.4 736.2L66.3 736.9" fill="none" stroke="#333" stroke-width="0.45"/>
<text x="160.5" y="700.3" font-size="8.6" letter-spacing="0.55" fill="#222">C6orf163-AP:</text>
<line x1="203.60" y1="714.30" x2="268.90" y2="714.30" stroke="#444" stroke-width="0.95"/>
<line x1="171.20" y1="732.15" x2="268.90" y2="732.15" stroke="#444" stroke-width="0.95"/>
<line x1="235.40" y1="717.80" x2="235.40" y2="728.80" stroke="#222" stroke-width="0.6"/>
<line x1="243.70" y1="717.80" x2="243.70" y2="728.80" stroke="#222" stroke-width="0.6"/>
<rect x="179.1" y="710.8" width="24.5" height="7.0" fill="#2b3a6b" stroke="#111" stroke-width="0.5"/>
<text x="191.3" y="715.8" font-size="4.2" text-anchor="middle" fill="#e8e8f0">1</text>
<rect x="213.5" y="710.8" width="10.9" height="7.0" fill="#2b3a6b" stroke="#111" stroke-width="0.5"/>
<text x="218.9" y="715.8" font-size="4.2" text-anchor="middle" fill="#e8e8f0">2</text>
<rect x="235.4" y="710.8" width="8.3" height="7.0" fill="#2b3a6b" stroke="#111" stroke-width="0.5"/>
<text x="239.6" y="715.8" font-size="4.2" text-anchor="middle" fill="#e8e8f0">3</text>
<rect x="250.3" y="710.8" width="7.7" height="7.0" fill="#2b3a6b" stroke="#111" stroke-width="0.5"/>
<text x="254.2" y="715.8" font-size="4.2" text-anchor="middle" fill="#e8e8f0">4</text>
<rect x="268.9" y="710.8" width="27.4" height="7.0" fill="#2b3a6b" stroke="#111" stroke-width="0.5"/>
<text x="282.6" y="715.8" font-size="4.2" text-anchor="middle" fill="#e8e8f0">5</text>
<rect x="161.4" y="728.8" width="9.8" height="6.7" fill="#2b3a6b" stroke="#111" stroke-width="0.5"/>
<text x="166.3" y="733.6" font-size="4.2" text-anchor="middle" fill="#e8e8f0">1.1</text>
<rect x="194.4" y="728.8" width="9.2" height="6.7" fill="#2b3a6b" stroke="#111" stroke-width="0.5"/>
<text x="199.0" y="733.6" font-size="4.2" text-anchor="middle" fill="#e8e8f0">1</text>
<rect x="213.5" y="728.8" width="10.9" height="6.7" fill="#2b3a6b" stroke="#111" stroke-width="0.5"/>
<text x="218.9" y="733.6" font-size="4.2" text-anchor="middle" fill="#e8e8f0">2</text>
<rect x="235.4" y="728.8" width="8.3" height="6.7" fill="#2b3a6b" stroke="#111" stroke-width="0.5"/>
<text x="239.6" y="733.6" font-size="4.2" text-anchor="middle" fill="#e8e8f0">3</text>
<rect x="250.3" y="728.8" width="7.7" height="6.7" fill="#2b3a6b" stroke="#111" stroke-width="0.5"/>
<text x="254.2" y="733.6" font-size="4.2" text-anchor="middle" fill="#e8e8f0">4</text>
<rect x="268.9" y="728.8" width="27.4" height="6.7" fill="#2b3a6b" stroke="#111" stroke-width="0.5"/>
<text x="282.6" y="733.6" font-size="4.2" text-anchor="middle" fill="#e8e8f0">5</text>
<text x="181.0" y="706.7" font-size="2.8" text-anchor="middle" fill="#444">F1</text>
<path d="M179.4 708.8H182.6M181.7 708.1L182.6 708.8L181.7 709.5" fill="none" stroke="#333" stroke-width="0.45"/>
<text x="254.0" y="706.7" font-size="2.8" text-anchor="middle" fill="#444">F2</text>
<path d="M252.4 708.8H255.6M254.7 708.1L255.6 708.8L254.7 709.5" fill="none" stroke="#333" stroke-width="0.45"/>
<text x="197.5" y="722.0" font-size="2.8" text-anchor="middle" fill="#444">R2</text>
<path d="M195.9 718.7H199.1M196.8 718.0L195.9 718.7L196.8 719.4" fill="none" stroke="#333" stroke-width="0.45"/>
<text x="272.5" y="722.5" font-size="2.8" text-anchor="middle" fill="#444">R1</text>
<path d="M270.9 719.2H274.1M271.8 718.5L270.9 719.2L271.8 719.9" fill="none" stroke="#333" stroke-width="0.45"/>
<text x="4.4" y="758.6" font-size="8.6" letter-spacing="0.55" fill="#222">PCNXL2-AP:</text>
<line x1="24.50" y1="774.90" x2="140.10" y2="774.90" stroke="#444" stroke-width="0.95"/>
<line x1="35.50" y1="792.95" x2="140.10" y2="792.95" stroke="#444" stroke-width="0.95"/>
<line x1="64.20" y1="778.50" x2="64.20" y2="789.40" stroke="#222" stroke-width="0.6"/>
<line x1="72.30" y1="778.50" x2="72.30" y2="789.40" stroke="#222" stroke-width="0.6"/>
<line x1="92.00" y1="778.50" x2="92.00" y2="789.40" stroke="#222" stroke-width="0.6"/>
<line x1="99.20" y1="778.50" x2="99.20" y2="789.40" stroke="#222" stroke-width="0.6"/>
<line x1="121.10" y1="778.50" x2="121.10" y2="789.40" stroke="#222" stroke-width="0.6"/>
<line x1="131.00" y1="778.50" x2="131.00" y2="789.40" stroke="#222" stroke-width="0.6"/>
<rect x="4.8" y="771.3" width="19.7" height="7.2" fill="#2b3a6b" stroke="#111" stroke-width="0.5"/>
<text x="14.7" y="776.4" font-size="4.2" text-anchor="middle" fill="#e8e8f0">1</text>
<rect x="43.8" y="771.3" width="8.1" height="7.2" fill="#2b3a6b" stroke="#111" stroke-width="0.5"/>
<text x="47.8" y="776.4" font-size="4.2" text-anchor="middle" fill="#e8e8f0">2</text>
<rect x="64.2" y="771.3" width="8.1" height="7.2" fill="#2b3a6b" stroke="#111" stroke-width="0.5"/>
<text x="68.2" y="776.4" font-size="4.2" text-anchor="middle" fill="#e8e8f0">3</text>
<rect x="92.0" y="771.3" width="7.2" height="7.2" fill="#2b3a6b" stroke="#111" stroke-width="0.5"/>
<text x="95.6" y="776.4" font-size="4.2" text-anchor="middle" fill="#e8e8f0">4</text>
<rect x="121.1" y="771.3" width="9.9" height="7.2" fill="#2b3a6b" stroke="#111" stroke-width="0.5"/>
<text x="126.0" y="776.4" font-size="4.2" text-anchor="middle" fill="#e8e8f0">5</text>
<rect x="27.4" y="789.4" width="8.1" height="7.1" fill="#2b3a6b" stroke="#111" stroke-width="0.5"/>
<text x="31.4" y="794.5" font-size="4.2" text-anchor="middle" fill="#e8e8f0">1</text>
<rect x="43.8" y="789.4" width="8.1" height="7.1" fill="#2b3a6b" stroke="#111" stroke-width="0.5"/>
<text x="47.8" y="794.5" font-size="4.2" text-anchor="middle" fill="#e8e8f0">2</text>
<rect x="64.2" y="789.4" width="8.1" height="7.1" fill="#2b3a6b" stroke="#111" stroke-width="0.5"/>
<text x="68.2" y="794.5" font-size="4.2" text-anchor="middle" fill="#e8e8f0">3</text>
<rect x="92.0" y="789.4" width="7.2" height="7.1" fill="#2b3a6b" stroke="#111" stroke-width="0.5"/>
<text x="95.6" y="794.5" font-size="4.2" text-anchor="middle" fill="#e8e8f0">4</text>
<rect x="121.1" y="789.4" width="9.9" height="7.1" fill="#2b3a6b" stroke="#111" stroke-width="0.5"/>
<text x="126.0" y="794.5" font-size="4.2" text-anchor="middle" fill="#e8e8f0">5</text>
<path d="M48 798.5L56 801L64 798.5" fill="none" stroke="#444" stroke-width="0.5"/>
<text x="31.5" y="785.2" font-size="2.8" text-anchor="middle" fill="#444">F2</text>
<path d="M29.9 787.3H33.1M32.2 786.6L33.1 787.3L32.2 788.0" fill="none" stroke="#333" stroke-width="0.45"/>
<text x="126.0" y="784.2" font-size="2.8" text-anchor="middle" fill="#444">F1</text>
<path d="M124.4 786.3H127.6M126.7 785.6L127.6 786.3L126.7 787.0" fill="none" stroke="#333" stroke-width="0.45"/>
<text x="56.0" y="804.5" font-size="2.8" text-anchor="middle" fill="#444">R2</text>
<path d="M54.4 801.2H57.6M55.3 800.5L54.4 801.2L55.3 801.9" fill="none" stroke="#333" stroke-width="0.45"/>
<text x="126.0" y="800.5" font-size="2.8" text-anchor="middle" fill="#444">R1</text>
<path d="M124.4 797.2H127.6M125.3 796.5L124.4 797.2L125.3 797.9" fill="none" stroke="#333" stroke-width="0.45"/>
<text x="152.8" y="758.6" font-size="8.6" letter-spacing="0.55" fill="#222">ZNF398-AP:</text>
<line x1="176.90" y1="777.95" x2="276.20" y2="777.95" stroke="#444" stroke-width="0.95"/>
<line x1="202.60" y1="797.35" x2="276.20" y2="797.35" stroke="#444" stroke-width="0.95"/>
<rect x="157.5" y="774.2" width="19.4" height="7.5" fill="#2b3a6b" stroke="#111" stroke-width="0.5"/>
<text x="167.2" y="779.5" font-size="4.2" text-anchor="middle" fill="#e8e8f0">1</text>
<rect x="185.0" y="774.2" width="17.6" height="7.5" fill="#2b3a6b" stroke="#111" stroke-width="0.5"/>
<text x="193.8" y="779.5" font-size="4.2" text-anchor="middle" fill="#e8e8f0">2</text>
<rect x="211.9" y="774.2" width="11.0" height="7.5" fill="#2b3a6b" stroke="#111" stroke-width="0.5"/>
<text x="217.4" y="779.5" font-size="4.2" text-anchor="middle" fill="#e8e8f0">3</text>
<rect x="231.8" y="774.2" width="12.1" height="7.5" fill="#2b3a6b" stroke="#111" stroke-width="0.5"/>
<text x="237.9" y="779.5" font-size="4.2" text-anchor="middle" fill="#e8e8f0">4</text>
<rect x="252.3" y="774.2" width="12.2" height="7.5" fill="#2b3a6b" stroke="#111" stroke-width="0.5"/>
<text x="258.4" y="779.5" font-size="4.2" text-anchor="middle" fill="#e8e8f0">5</text>
<rect x="276.2" y="774.2" width="28.0" height="7.5" fill="#2b3a6b" stroke="#111" stroke-width="0.5"/>
<rect x="185.0" y="793.6" width="17.6" height="7.5" fill="#2b3a6b" stroke="#111" stroke-width="0.5"/>
<text x="193.8" y="798.9" font-size="4.2" text-anchor="middle" fill="#e8e8f0">1</text>
<rect x="211.9" y="793.6" width="11.0" height="7.5" fill="#2b3a6b" stroke="#111" stroke-width="0.5"/>
<text x="217.4" y="798.9" font-size="4.2" text-anchor="middle" fill="#e8e8f0">2</text>
<rect x="231.1" y="793.6" width="10.7" height="7.5" fill="#2b3a6b" stroke="#111" stroke-width="0.5"/>
<text x="236.4" y="798.9" font-size="4.2" text-anchor="middle" fill="#e8e8f0">3</text>
<rect x="252.3" y="793.6" width="12.2" height="7.5" fill="#2b3a6b" stroke="#111" stroke-width="0.5"/>
<text x="258.4" y="798.9" font-size="4.2" text-anchor="middle" fill="#e8e8f0">4</text>
<rect x="276.2" y="793.6" width="28.0" height="7.5" fill="#2b3a6b" stroke="#111" stroke-width="0.5"/>
<path d="M220 774L228 771L236 774" fill="none" stroke="#444" stroke-width="0.5"/>
<text x="160.5" y="765.2" font-size="2.8" text-anchor="middle" fill="#444">F2</text>
<path d="M158.9 767.3H162.1M161.2 766.6L162.1 767.3L161.2 768.0" fill="none" stroke="#333" stroke-width="0.45"/>
<text x="228.0" y="768.7" font-size="2.8" text-anchor="middle" fill="#444">F1</text>
<path d="M226.4 770.8H229.6M228.7 770.1L229.6 770.8L228.7 771.5" fill="none" stroke="#333" stroke-width="0.45"/>
<text x="197.0" y="785.5" font-size="2.8" text-anchor="middle" fill="#444">R2</text>
<path d="M195.4 782.2H198.6M196.3 781.5L195.4 782.2L196.3 782.9" fill="none" stroke="#333" stroke-width="0.45"/>
<text x="256.5" y="785.5" font-size="2.8" text-anchor="middle" fill="#444">R1</text>
<path d="M254.9 782.2H258.1M255.8 781.5L254.9 782.2L255.8 782.9" fill="none" stroke="#333" stroke-width="0.45"/>
<text x="103.5" y="823.9" font-size="8.6" letter-spacing="0.6" fill="#222">NHERF2(SLC9A3R2)-AP:</text>
<line x1="82.70" y1="846.75" x2="222.30" y2="846.75" stroke="#444" stroke-width="0.95"/>
<line x1="118.80" y1="865.10" x2="222.30" y2="865.10" stroke="#444" stroke-width="0.95"/>
<line x1="127.10" y1="850.20" x2="127.10" y2="861.90" stroke="#222" stroke-width="0.6"/>
<line x1="135.40" y1="850.20" x2="135.40" y2="861.90" stroke="#222" stroke-width="0.6"/>
<line x1="147.40" y1="850.20" x2="147.40" y2="861.90" stroke="#222" stroke-width="0.6"/>
<line x1="155.40" y1="850.20" x2="155.40" y2="861.90" stroke="#222" stroke-width="0.6"/>
<rect x="63.3" y="843.3" width="19.4" height="6.9" fill="#2b3a6b" stroke="#111" stroke-width="0.5"/>
<text x="73.0" y="848.2" font-size="4.2" text-anchor="middle" fill="#e8e8f0">1</text>
<rect x="100.2" y="843.3" width="7.5" height="6.9" fill="#2b3a6b" stroke="#111" stroke-width="0.5"/>
<text x="104.0" y="848.2" font-size="4.2" text-anchor="middle" fill="#e8e8f0">2</text>
<rect x="127.1" y="843.3" width="8.3" height="6.9" fill="#2b3a6b" stroke="#111" stroke-width="0.5"/>
<text x="131.2" y="848.2" font-size="4.2" text-anchor="middle" fill="#e8e8f0">3</text>
<rect x="147.4" y="843.3" width="8.0" height="6.9" fill="#2b3a6b" stroke="#111" stroke-width="0.5"/>
<text x="151.4" y="848.2" font-size="4.2" text-anchor="middle" fill="#e8e8f0">4</text>
<rect x="175.1" y="843.3" width="7.5" height="6.9" fill="#2b3a6b" stroke="#111" stroke-width="0.5"/>
<text x="178.8" y="848.2" font-size="4.2" text-anchor="middle" fill="#e8e8f0">5</text>
<rect x="204.2" y="843.3" width="9.5" height="6.9" fill="#2b3a6b" stroke="#111" stroke-width="0.5"/>
<text x="208.9" y="848.2" font-size="4.2" text-anchor="middle" fill="#e8e8f0">6</text>
<rect x="222.3" y="843.3" width="18.0" height="6.9" fill="#2b3a6b" stroke="#111" stroke-width="0.5"/>
<text x="231.3" y="848.2" font-size="4.2" text-anchor="middle" fill="#e8e8f0">7</text>
<rect x="111.3" y="861.9" width="7.5" height="6.4" fill="#2b3a6b" stroke="#111" stroke-width="0.5"/>
<text x="115.0" y="866.6" font-size="4.2" text-anchor="middle" fill="#e8e8f0">1</text>
<rect x="127.1" y="861.9" width="8.3" height="6.4" fill="#2b3a6b" stroke="#111" stroke-width="0.5"/>
<text x="131.2" y="866.6" font-size="4.2" text-anchor="middle" fill="#e8e8f0">2</text>
<rect x="147.4" y="861.9" width="8.0" height="6.4" fill="#2b3a6b" stroke="#111" stroke-width="0.5"/>
<text x="151.4" y="866.6" font-size="4.2" text-anchor="middle" fill="#e8e8f0">3</text>
<rect x="175.1" y="861.9" width="7.5" height="6.4" fill="#2b3a6b" stroke="#111" stroke-width="0.5"/>
<text x="178.8" y="866.6" font-size="4.2" text-anchor="middle" fill="#e8e8f0">4</text>
<rect x="204.2" y="861.9" width="9.5" height="6.4" fill="#2b3a6b" stroke="#111" stroke-width="0.5"/>
<text x="208.9" y="866.6" font-size="4.2" text-anchor="middle" fill="#e8e8f0">5</text>
<rect x="222.3" y="861.9" width="18.0" height="6.4" fill="#2b3a6b" stroke="#111" stroke-width="0.5"/>
<text x="231.3" y="866.6" font-size="4.2" text-anchor="middle" fill="#e8e8f0">6</text>
<path d="M132 870.5L141 873L150 870.5" fill="none" stroke="#444" stroke-width="0.5"/>
<text x="79.0" y="839.7" font-size="2.8" text-anchor="middle" fill="#444">F2</text>
<path d="M77.4 841.8H80.6M79.7 841.1L80.6 841.8L79.7 842.5" fill="none" stroke="#333" stroke-width="0.45"/>
<text x="131.0" y="839.7" font-size="2.8" text-anchor="middle" fill="#444">F1</text>
<path d="M129.4 841.8H132.6M131.7 841.1L132.6 841.8L131.7 842.5" fill="none" stroke="#333" stroke-width="0.45"/>
<text x="115.0" y="857.7" font-size="2.8" text-anchor="middle" fill="#444">F2</text>
<path d="M113.4 859.8H116.6M115.7 859.1L116.6 859.8L115.7 860.5" fill="none" stroke="#333" stroke-width="0.45"/>
<text x="151.3" y="855.0" font-size="2.8" text-anchor="middle" fill="#444">R2</text>
<path d="M149.7 851.7H152.9M150.6 851.0L149.7 851.7L150.6 852.4" fill="none" stroke="#333" stroke-width="0.45"/>
<text x="208.5" y="855.0" font-size="2.8" text-anchor="middle" fill="#444">R1</text>
<path d="M206.9 851.7H210.1M207.8 851.0L206.9 851.7L207.8 852.4" fill="none" stroke="#333" stroke-width="0.45"/>
<text x="114.5" y="872.5" font-size="2.8" text-anchor="middle" fill="#444">R3</text>
<path d="M112.9 869.2H116.1M113.8 868.5L112.9 869.2L113.8 869.9" fill="none" stroke="#333" stroke-width="0.45"/>
<text x="141.0" y="876.0" font-size="2.8" text-anchor="middle" fill="#444">R3</text>
<path d="M139.4 872.7H142.6M140.3 872.0L139.4 872.7L140.3 873.4" fill="none" stroke="#333" stroke-width="0.45"/>
<text x="335.8" y="636.6" font-size="13">L</text>
<text x="354.1" y="655.6" font-size="14.6" font-weight="bold" font-style="italic" fill="#111">Human RT-PCR samples</text>
<line x1="352.90" y1="661.60" x2="523.40" y2="661.60" stroke="#111" stroke-width="1.4"/>
<rect x="352.5" y="666.8" width="13" height="5.9" fill="#7f8fbf" stroke="#34448a" stroke-width="0.8"/>
<text x="368.3" y="673.1" font-size="10.5" fill="#222">Young group</text>
<rect x="445.8" y="666.8" width="13" height="5.9" fill="#e27b96" stroke="#b5446a" stroke-width="0.8"/>
<text x="465.9" y="673.1" font-size="10.5" fill="#222">Old group</text>
<line x1="344.00" y1="680.30" x2="344.00" y2="867.50" stroke="#1a1a1a" stroke-width="1.4"/>
<line x1="343.30" y1="866.90" x2="680.00" y2="866.90" stroke="#1a1a1a" stroke-width="1.4"/>
<line x1="339.10" y1="866.70" x2="343.80" y2="866.70" stroke="#222" stroke-width="1.2"/>
<text x="337.8" y="869.8" font-size="8.8" text-anchor="end" fill="#222">0</text>
<line x1="339.10" y1="820.10" x2="343.80" y2="820.10" stroke="#222" stroke-width="1.2"/>
<text x="337.8" y="823.2" font-size="8.8" text-anchor="end" fill="#222">1</text>
<line x1="339.10" y1="773.50" x2="343.80" y2="773.50" stroke="#222" stroke-width="1.2"/>
<text x="337.8" y="776.6" font-size="8.8" text-anchor="end" fill="#222">2</text>
<line x1="339.10" y1="726.90" x2="343.80" y2="726.90" stroke="#222" stroke-width="1.2"/>
<text x="337.8" y="730.0" font-size="8.8" text-anchor="end" fill="#222">3</text>
<line x1="339.10" y1="680.30" x2="343.80" y2="680.30" stroke="#222" stroke-width="1.2"/>
<text x="337.8" y="683.4" font-size="8.8" text-anchor="end" fill="#222">4</text>
<text x="318.2" y="773.0" font-size="9.95" text-anchor="middle" font-weight="bold" fill="#111" transform="rotate(-90 318.2 773)">Fold change of exon skipping</text>
<text x="332.0" y="772.5" font-size="10.0" text-anchor="middle" font-weight="bold" fill="#111" transform="rotate(-90 332 772.5)">normalized to the β-actin</text>
<line x1="356.60" y1="828.60" x2="356.60" y2="823.80" stroke="#34448a" stroke-width="1.1"/>
<line x1="354.35" y1="823.80" x2="358.85" y2="823.80" stroke="#34448a" stroke-width="1.1"/>
<line x1="374.90" y1="810.00" x2="374.90" y2="800.80" stroke="#b5446a" stroke-width="1.1"/>
<line x1="372.65" y1="800.80" x2="377.15" y2="800.80" stroke="#b5446a" stroke-width="1.1"/>
<rect x="350.45" y="828.60" width="12.3" height="38.10" fill="#7f8fbf" stroke="#34448a" stroke-width="0.9"/>
<rect x="368.75" y="810.00" width="12.3" height="56.70" fill="#e27b96" stroke="#b5446a" stroke-width="0.9"/>
<circle cx="357.6" cy="815.0" r="0.85" fill="#2c3a8a"/>
<circle cx="356.9" cy="824.0" r="0.85" fill="#2c3a8a"/>
<circle cx="356.0" cy="830.4" r="0.85" fill="#2c3a8a"/>
<circle cx="355.2" cy="832.5" r="0.85" fill="#2c3a8a"/>
<circle cx="358.0" cy="837.0" r="0.85" fill="#2c3a8a"/>
<circle cx="356.9" cy="839.0" r="0.85" fill="#2c3a8a"/>
<circle cx="375.8" cy="784.0" r="0.85" fill="#b02c5c"/>
<circle cx="376.1" cy="790.5" r="0.85" fill="#b02c5c"/>
<circle cx="375.5" cy="800.8" r="0.85" fill="#b02c5c"/>
<circle cx="374.0" cy="820.5" r="0.85" fill="#b02c5c"/>
<circle cx="376.3" cy="827.7" r="0.85" fill="#b02c5c"/>
<circle cx="374.3" cy="833.0" r="0.85" fill="#b02c5c"/>
<line x1="365.60" y1="866.90" x2="365.60" y2="871.00" stroke="#222" stroke-width="1.1"/>
<text x="365.6" y="882.2" font-size="9.1" text-anchor="middle" font-weight="bold" font-style="italic" fill="#111">ADAT2</text>
<line x1="405.40" y1="837.40" x2="405.40" y2="829.90" stroke="#34448a" stroke-width="1.1"/>
<line x1="403.15" y1="829.90" x2="407.65" y2="829.90" stroke="#34448a" stroke-width="1.1"/>
<line x1="423.70" y1="801.90" x2="423.70" y2="786.10" stroke="#b5446a" stroke-width="1.1"/>
<line x1="421.45" y1="786.10" x2="425.95" y2="786.10" stroke="#b5446a" stroke-width="1.1"/>
<rect x="399.25" y="837.40" width="12.3" height="29.30" fill="#7f8fbf" stroke="#34448a" stroke-width="0.9"/>
<rect x="417.55" y="801.90" width="12.3" height="64.80" fill="#e27b96" stroke="#b5446a" stroke-width="0.9"/>
<circle cx="406.7" cy="803.0" r="0.85" fill="#2c3a8a"/>
<circle cx="405.0" cy="812.2" r="0.85" fill="#2c3a8a"/>
<circle cx="406.3" cy="825.3" r="0.85" fill="#2c3a8a"/>
<circle cx="405.7" cy="843.5" r="0.85" fill="#2c3a8a"/>
<circle cx="404.8" cy="845.7" r="0.85" fill="#2c3a8a"/>
<circle cx="406.7" cy="857.0" r="0.85" fill="#2c3a8a"/>
<circle cx="406.5" cy="863.2" r="0.85" fill="#2c3a8a"/>
<circle cx="423.3" cy="709.3" r="0.85" fill="#b02c5c"/>
<circle cx="425.1" cy="769.0" r="0.85" fill="#b02c5c"/>
<circle cx="422.9" cy="820.5" r="0.85" fill="#b02c5c"/>
<circle cx="424.6" cy="821.0" r="0.85" fill="#b02c5c"/>
<circle cx="424.2" cy="835.8" r="0.85" fill="#b02c5c"/>
<circle cx="423.6" cy="843.5" r="0.85" fill="#b02c5c"/>
<line x1="414.40" y1="866.90" x2="414.40" y2="871.00" stroke="#222" stroke-width="1.1"/>
<text x="414.4" y="882.2" font-size="9.1" text-anchor="middle" font-weight="bold" font-style="italic" fill="#111">ZNF695</text>
<line x1="454.00" y1="828.20" x2="454.00" y2="823.40" stroke="#34448a" stroke-width="1.1"/>
<line x1="451.75" y1="823.40" x2="456.25" y2="823.40" stroke="#34448a" stroke-width="1.1"/>
<line x1="472.30" y1="813.30" x2="472.30" y2="798.60" stroke="#b5446a" stroke-width="1.1"/>
<line x1="470.05" y1="798.60" x2="474.55" y2="798.60" stroke="#b5446a" stroke-width="1.1"/>
<rect x="447.85" y="828.20" width="12.3" height="38.50" fill="#7f8fbf" stroke="#34448a" stroke-width="0.9"/>
<rect x="466.15" y="813.30" width="12.3" height="53.40" fill="#e27b96" stroke="#b5446a" stroke-width="0.9"/>
<circle cx="453.0" cy="805.2" r="0.85" fill="#2c3a8a"/>
<circle cx="454.3" cy="830.8" r="0.85" fill="#2c3a8a"/>
<circle cx="455.0" cy="832.5" r="0.85" fill="#2c3a8a"/>
<circle cx="453.4" cy="845.7" r="0.85" fill="#2c3a8a"/>
<circle cx="454.6" cy="829.0" r="0.85" fill="#2c3a8a"/>
<circle cx="472.2" cy="725.6" r="0.85" fill="#b02c5c"/>
<circle cx="473.5" cy="784.0" r="0.85" fill="#b02c5c"/>
<circle cx="472.5" cy="828.2" r="0.85" fill="#b02c5c"/>
<circle cx="473.8" cy="831.5" r="0.85" fill="#b02c5c"/>
<circle cx="471.5" cy="833.6" r="0.85" fill="#b02c5c"/>
<circle cx="471.1" cy="855.5" r="0.85" fill="#b02c5c"/>
<line x1="463.00" y1="866.90" x2="463.00" y2="871.00" stroke="#222" stroke-width="1.1"/>
<text x="463.0" y="882.2" font-size="9.1" text-anchor="middle" font-weight="bold" font-style="italic" fill="#111">IDUA</text>
<line x1="502.30" y1="848.00" x2="502.30" y2="842.20" stroke="#34448a" stroke-width="1.1"/>
<line x1="500.05" y1="842.20" x2="504.55" y2="842.20" stroke="#34448a" stroke-width="1.1"/>
<line x1="520.60" y1="793.10" x2="520.60" y2="780.00" stroke="#b5446a" stroke-width="1.1"/>
<line x1="518.35" y1="780.00" x2="522.85" y2="780.00" stroke="#b5446a" stroke-width="1.1"/>
<rect x="496.15" y="848.00" width="12.3" height="18.70" fill="#7f8fbf" stroke="#34448a" stroke-width="0.9"/>
<rect x="514.45" y="793.10" width="12.3" height="73.60" fill="#e27b96" stroke="#b5446a" stroke-width="0.9"/>
<circle cx="501.7" cy="819.4" r="0.85" fill="#2c3a8a"/>
<circle cx="501.5" cy="835.5" r="0.85" fill="#2c3a8a"/>
<circle cx="501.3" cy="842.8" r="0.85" fill="#2c3a8a"/>
<circle cx="503.4" cy="858.2" r="0.85" fill="#2c3a8a"/>
<circle cx="503.4" cy="862.3" r="0.85" fill="#2c3a8a"/>
<circle cx="501.1" cy="864.7" r="0.85" fill="#2c3a8a"/>
<circle cx="520.0" cy="729.0" r="0.85" fill="#b02c5c"/>
<circle cx="521.1" cy="750.0" r="0.85" fill="#b02c5c"/>
<circle cx="521.2" cy="812.7" r="0.85" fill="#b02c5c"/>
<circle cx="520.4" cy="814.5" r="0.85" fill="#b02c5c"/>
<circle cx="520.5" cy="816.0" r="0.85" fill="#b02c5c"/>
<circle cx="521.3" cy="819.4" r="0.85" fill="#b02c5c"/>
<line x1="511.30" y1="866.90" x2="511.30" y2="871.00" stroke="#222" stroke-width="1.1"/>
<text x="511.3" y="882.2" font-size="9.1" text-anchor="middle" font-weight="bold" font-style="italic" fill="#111">NHERF2</text>
<line x1="551.30" y1="839.90" x2="551.30" y2="832.60" stroke="#34448a" stroke-width="1.1"/>
<line x1="549.05" y1="832.60" x2="553.55" y2="832.60" stroke="#34448a" stroke-width="1.1"/>
<line x1="569.60" y1="795.20" x2="569.60" y2="768.70" stroke="#b5446a" stroke-width="1.1"/>
<line x1="567.35" y1="768.70" x2="571.85" y2="768.70" stroke="#b5446a" stroke-width="1.1"/>
<rect x="545.15" y="839.90" width="12.3" height="26.80" fill="#7f8fbf" stroke="#34448a" stroke-width="0.9"/>
<rect x="563.45" y="795.20" width="12.3" height="71.50" fill="#e27b96" stroke="#b5446a" stroke-width="0.9"/>
<circle cx="552.3" cy="813.6" r="0.85" fill="#2c3a8a"/>
<circle cx="551.9" cy="815.0" r="0.85" fill="#2c3a8a"/>
<circle cx="550.4" cy="819.4" r="0.85" fill="#2c3a8a"/>
<circle cx="550.2" cy="844.8" r="0.85" fill="#2c3a8a"/>
<circle cx="550.9" cy="864.0" r="0.85" fill="#2c3a8a"/>
<circle cx="552.1" cy="865.3" r="0.85" fill="#2c3a8a"/>
<circle cx="570.3" cy="692.0" r="0.85" fill="#b02c5c"/>
<circle cx="569.3" cy="701.6" r="0.85" fill="#b02c5c"/>
<circle cx="570.0" cy="810.7" r="0.85" fill="#b02c5c"/>
<circle cx="570.6" cy="822.3" r="0.85" fill="#b02c5c"/>
<circle cx="568.3" cy="832.6" r="0.85" fill="#b02c5c"/>
<circle cx="569.7" cy="846.6" r="0.85" fill="#b02c5c"/>
<circle cx="570.4" cy="861.8" r="0.85" fill="#b02c5c"/>
<line x1="560.30" y1="866.90" x2="560.30" y2="871.00" stroke="#222" stroke-width="1.1"/>
<text x="560.3" y="882.2" font-size="9.1" text-anchor="middle" font-weight="bold" font-style="italic" fill="#111">C6orf163</text>
<line x1="600.10" y1="834.90" x2="600.10" y2="826.70" stroke="#34448a" stroke-width="1.1"/>
<line x1="597.85" y1="826.70" x2="602.35" y2="826.70" stroke="#34448a" stroke-width="1.1"/>
<line x1="618.40" y1="805.70" x2="618.40" y2="794.20" stroke="#b5446a" stroke-width="1.1"/>
<line x1="616.15" y1="794.20" x2="620.65" y2="794.20" stroke="#b5446a" stroke-width="1.1"/>
<rect x="593.95" y="834.90" width="12.3" height="31.80" fill="#7f8fbf" stroke="#34448a" stroke-width="0.9"/>
<rect x="612.25" y="805.70" width="12.3" height="61.00" fill="#e27b96" stroke="#b5446a" stroke-width="0.9"/>
<circle cx="600.5" cy="805.4" r="0.85" fill="#2c3a8a"/>
<circle cx="601.6" cy="826.7" r="0.85" fill="#2c3a8a"/>
<circle cx="598.9" cy="830.2" r="0.85" fill="#2c3a8a"/>
<circle cx="600.1" cy="841.3" r="0.85" fill="#2c3a8a"/>
<circle cx="599.8" cy="844.8" r="0.85" fill="#2c3a8a"/>
<circle cx="599.2" cy="848.6" r="0.85" fill="#2c3a8a"/>
<circle cx="601.3" cy="843.0" r="0.85" fill="#2c3a8a"/>
<circle cx="618.5" cy="738.7" r="0.85" fill="#b02c5c"/>
<circle cx="618.7" cy="758.7" r="0.85" fill="#b02c5c"/>
<circle cx="617.8" cy="810.7" r="0.85" fill="#b02c5c"/>
<circle cx="618.6" cy="822.3" r="0.85" fill="#b02c5c"/>
<circle cx="619.1" cy="826.0" r="0.85" fill="#b02c5c"/>
<circle cx="617.5" cy="833.1" r="0.85" fill="#b02c5c"/>
<circle cx="617.7" cy="839.9" r="0.85" fill="#b02c5c"/>
<line x1="609.10" y1="866.90" x2="609.10" y2="871.00" stroke="#222" stroke-width="1.1"/>
<text x="609.1" y="882.2" font-size="9.1" text-anchor="middle" font-weight="bold" font-style="italic" fill="#111">PCNXL2</text>
<line x1="649.10" y1="834.90" x2="649.10" y2="826.10" stroke="#34448a" stroke-width="1.1"/>
<line x1="646.85" y1="826.10" x2="651.35" y2="826.10" stroke="#34448a" stroke-width="1.1"/>
<line x1="667.40" y1="806.30" x2="667.40" y2="785.80" stroke="#b5446a" stroke-width="1.1"/>
<line x1="665.15" y1="785.80" x2="669.65" y2="785.80" stroke="#b5446a" stroke-width="1.1"/>
<rect x="642.95" y="834.90" width="12.3" height="31.80" fill="#7f8fbf" stroke="#34448a" stroke-width="0.9"/>
<rect x="661.25" y="806.30" width="12.3" height="60.40" fill="#e27b96" stroke="#b5446a" stroke-width="0.9"/>
<circle cx="650.5" cy="815.6" r="0.85" fill="#2c3a8a"/>
<circle cx="647.7" cy="816.5" r="0.85" fill="#2c3a8a"/>
<circle cx="648.0" cy="826.7" r="0.85" fill="#2c3a8a"/>
<circle cx="649.0" cy="842.2" r="0.85" fill="#2c3a8a"/>
<circle cx="650.5" cy="851.0" r="0.85" fill="#2c3a8a"/>
<circle cx="648.0" cy="856.5" r="0.85" fill="#2c3a8a"/>
<circle cx="666.9" cy="728.0" r="0.85" fill="#b02c5c"/>
<circle cx="666.5" cy="766.0" r="0.85" fill="#b02c5c"/>
<circle cx="666.9" cy="825.3" r="0.85" fill="#b02c5c"/>
<circle cx="666.1" cy="834.0" r="0.85" fill="#b02c5c"/>
<circle cx="667.8" cy="841.3" r="0.85" fill="#b02c5c"/>
<circle cx="666.1" cy="842.8" r="0.85" fill="#b02c5c"/>
<line x1="658.10" y1="866.90" x2="658.10" y2="871.00" stroke="#222" stroke-width="1.1"/>
<text x="658.1" y="882.2" font-size="9.1" text-anchor="middle" font-weight="bold" font-style="italic" fill="#111">ZNF398</text>
<path d="M356.4 770.2V764.6H378.3V770.2" fill="none" stroke="#222" stroke-width="1.1"/>
<text x="367.4" y="766.4" font-size="14" text-anchor="middle" fill="#222">*</text>
<path d="M401.6 701V695.8H424.4V701" fill="none" stroke="#222" stroke-width="1.1"/>
<text x="413.0" y="697.6" font-size="14" text-anchor="middle" fill="#222">*</text>
<path d="M449.7 716.8V711.3H472.3V716.8" fill="none" stroke="#222" stroke-width="1.1"/>
<text x="461.0" y="707.8" font-size="8.5" text-anchor="middle" fill="#222">ns</text>
<path d="M498.4 722.6V716.8H520.3V722.6" fill="none" stroke="#222" stroke-width="1.1"/>
<text x="509.3" y="718.6" font-size="14" text-anchor="middle" fill="#222">**</text>
<path d="M546.8 687.1V681.6H568.7V687.1" fill="none" stroke="#222" stroke-width="1.1"/>
<text x="557.8" y="683.4" font-size="14" text-anchor="middle" fill="#222">*</text>
<path d="M594.5 733.9V728.4H617.7V733.9" fill="none" stroke="#222" stroke-width="1.1"/>
<text x="606.1" y="730.2" font-size="14" text-anchor="middle" fill="#222">*</text>
<path d="M644.5 722.6V716.8H666.5V722.6" fill="none" stroke="#222" stroke-width="1.1"/>
<text x="655.5" y="713.3" font-size="8.5" text-anchor="middle" fill="#222">ns</text>
<text x="37.2" y="390.6" font-size="13.8">H</text>
<text x="129.0" y="391.6" font-size="8.7" fill="#222">Top 10 GO Terms</text>
<line x1="128.40" y1="397.00" x2="128.40" y2="569.00" stroke="#333" stroke-width="1.0"/>
<line x1="128.40" y1="569.00" x2="200.80" y2="569.00" stroke="#333" stroke-width="1.0"/>
<text x="126.4" y="407.6" font-size="5.72" text-anchor="end" font-weight="bold" font-style="italic" fill="#222">cell−substrate junction</text>
<line x1="126.60" y1="405.80" x2="128.40" y2="405.80" stroke="#333" stroke-width="0.6"/>
<text x="126.4" y="424.7" font-size="5.72" text-anchor="end" font-weight="bold" font-style="italic" fill="#222">focal adhesion</text>
<line x1="126.60" y1="422.90" x2="128.40" y2="422.90" stroke="#333" stroke-width="0.6"/>
<text x="126.4" y="442.0" font-size="5.72" text-anchor="end" font-weight="bold" font-style="italic" fill="#222">cell leading edge</text>
<line x1="126.60" y1="440.20" x2="128.40" y2="440.20" stroke="#333" stroke-width="0.6"/>
<text x="126.4" y="458.4" font-size="5.72" text-anchor="end" font-weight="bold" font-style="italic" fill="#222">actin filament bundle</text>
<line x1="126.60" y1="456.60" x2="128.40" y2="456.60" stroke="#333" stroke-width="0.6"/>
<text x="126.4" y="475.6" font-size="5.72" text-anchor="end" font-weight="bold" font-style="italic" fill="#222">cell cortex</text>
<line x1="126.60" y1="473.80" x2="128.40" y2="473.80" stroke="#333" stroke-width="0.6"/>
<text x="126.4" y="492.3" font-size="5.72" text-anchor="end" font-weight="bold" font-style="italic" fill="#222">actin filament organization</text>
<line x1="126.60" y1="490.50" x2="128.40" y2="490.50" stroke="#333" stroke-width="0.6"/>
<text x="126.4" y="509.0" font-size="5.72" text-anchor="end" font-weight="bold" font-style="italic" fill="#222">protein K48−linked ubiquitination</text>
<line x1="126.60" y1="507.20" x2="128.40" y2="507.20" stroke="#333" stroke-width="0.6"/>
<text x="126.4" y="526.2" font-size="5.72" text-anchor="end" font-weight="bold" font-style="italic" fill="#222">Golgi to plasma membrane protein transport</text>
<line x1="126.60" y1="524.40" x2="128.40" y2="524.40" stroke="#333" stroke-width="0.6"/>
<text x="126.4" y="543.3" font-size="5.72" text-anchor="end" font-weight="bold" font-style="italic" fill="#222">Golgi to plasma membrane transport</text>
<line x1="126.60" y1="541.50" x2="128.40" y2="541.50" stroke="#333" stroke-width="0.6"/>
<text x="126.4" y="560.0" font-size="5.72" text-anchor="end" font-weight="bold" font-style="italic" fill="#222">cell growth</text>
<line x1="126.60" y1="558.20" x2="128.40" y2="558.20" stroke="#333" stroke-width="0.6"/>
<circle cx="197.7" cy="406.9" r="3.05" fill="#c0404a"/>
<circle cx="197.7" cy="423.8" r="3.0" fill="#c0404a"/>
<circle cx="155.0" cy="440.6" r="2.8" fill="#d09a58"/>
<circle cx="149.5" cy="457.5" r="1.5" fill="#d09a50"/>
<circle cx="147.4" cy="474.8" r="2.3" fill="#c9a058"/>
<circle cx="140.9" cy="491.6" r="2.9" fill="#c8b262"/>
<circle cx="140.9" cy="508.5" r="1.5" fill="#c8b262"/>
<circle cx="140.9" cy="525.2" r="0.9" fill="#c8b262"/>
<circle cx="140.9" cy="542.3" r="1.5" fill="#c8b262"/>
<circle cx="131.4" cy="559.1" r="3.0" fill="#c8c86a"/>
<text x="147.5" y="574.6" font-size="7.4" fill="#333" transform="rotate(-90 147.5 574.6)">2</text>
<text x="171.5" y="574.6" font-size="7.4" fill="#333" transform="rotate(-90 171.5 574.6)">3</text>
<text x="196.1" y="574.6" font-size="7.4" fill="#333" transform="rotate(-90 196.1 574.6)">4</text>
<line x1="159.40" y1="569.00" x2="159.40" y2="570.80" stroke="#333" stroke-width="0.8"/>
<line x1="176.50" y1="569.00" x2="176.50" y2="570.80" stroke="#333" stroke-width="0.8"/>
<text x="163" y="591" font-size="8.9" text-anchor="middle" fill="#222">-log10(<tspan font-weight="bold" font-style="italic">P</tspan>.adjust)</text>
<text x="169.0" y="482.6" font-size="6.5" fill="#222">Gene Count</text>
<circle cx="172.6" cy="489.0" r="0.9" fill="#000"/>
<text x="178.7" y="490.9" font-size="5.5" fill="#222">10</text>
<circle cx="172.6" cy="495.6" r="1.35" fill="#000"/>
<text x="178.7" y="497.5" font-size="5.5" fill="#222">15</text>
<circle cx="172.6" cy="502.3" r="1.7" fill="#000"/>
<text x="178.7" y="504.2" font-size="5.5" fill="#222">20</text>
<circle cx="172.6" cy="508.9" r="2.0" fill="#000"/>
<text x="178.7" y="510.8" font-size="5.5" fill="#222">25</text>
<circle cx="172.6" cy="515.6" r="2.35" fill="#000"/>
<text x="178.7" y="517.5" font-size="5.5" fill="#222">30</text>
<text x="162.7" y="527" font-size="6.6" fill="#222">-log10(<tspan font-style="italic">P</tspan>.adjust)</text>
<linearGradient id="gcb" x1="0" y1="0" x2="0" y2="1"><stop offset="0" stop-color="#c2404c"/><stop offset="0.5" stop-color="#d08a58"/><stop offset="1" stop-color="#c8c870"/></linearGradient>
<rect x="169.10" y="530.90" width="7.80" height="34.00" fill="url(#gcb)"/>
<line x1="169.10" y1="533.20" x2="170.50" y2="533.20" stroke="#fff" stroke-width="0.5"/>
<line x1="175.50" y1="533.20" x2="176.90" y2="533.20" stroke="#fff" stroke-width="0.5"/>
<text x="178.7" y="535.2" font-size="5.5" fill="#222">5</text>
<line x1="169.10" y1="541.60" x2="170.50" y2="541.60" stroke="#fff" stroke-width="0.5"/>
<line x1="175.50" y1="541.60" x2="176.90" y2="541.60" stroke="#fff" stroke-width="0.5"/>
<text x="178.7" y="543.6" font-size="5.5" fill="#222">4</text>
<line x1="169.10" y1="550.00" x2="170.50" y2="550.00" stroke="#fff" stroke-width="0.5"/>
<line x1="175.50" y1="550.00" x2="176.90" y2="550.00" stroke="#fff" stroke-width="0.5"/>
<text x="178.7" y="552.0" font-size="5.5" fill="#222">3</text>
<line x1="169.10" y1="558.30" x2="170.50" y2="558.30" stroke="#fff" stroke-width="0.5"/>
<line x1="175.50" y1="558.30" x2="176.90" y2="558.30" stroke="#fff" stroke-width="0.5"/>
<text x="178.7" y="560.3" font-size="5.5" fill="#222">2</text>
<text x="212.5" y="396.7" font-size="13">I</text>
<defs>
<pattern id="ps1" width="24" height="18" patternUnits="userSpaceOnUse"><rect width="24" height="18" fill="#f8f1f3"/><path d="M0 3h1v1.5h-1zM0 4.5h1v1.5h-1zM0 7.5h1v1.5h-1zM0 9h1v1.5h-1zM1 0h1v1.5h-1zM2 7.5h1v1.5h-1zM3 0h1v1.5h-1zM3 10.5h1v1.5h-1zM4 0h1v1.5h-1zM4 7.5h1v1.5h-1zM4 9h1v1.5h-1zM4 10.5h1v1.5h-1zM4 15h1v1.5h-1zM5 0h1v1.5h-1zM5 4.5h1v1.5h-1zM5 7.5h1v1.5h-1zM5 9h1v1.5h-1zM5 10.5h1v1.5h-1zM6 12h1v1.5h-1zM6 13.5h1v1.5h-1zM6 16.5h1v1.5h-1zM7 9h1v1.5h-1zM7 12h1v1.5h-1zM8 0h1v1.5h-1zM8 6h1v1.5h-1zM8 10.5h1v1.5h-1zM9 1.5h1v1.5h-1zM9 3h1v1.5h-1zM9 4.5h1v1.5h-1zM9 13.5h1v1.5h-1zM10 0h1v1.5h-1zM10 1.5h1v1.5h-1zM10 9h1v1.5h-1zM10 13.5h1v1.5h-1zM10 16.5h1v1.5h-1zM12 1.5h1v1.5h-1zM12 4.5h1v1.5h-1zM12 13.5h1v1.5h-1zM12 16.5h1v1.5h-1zM13 1.5h1v1.5h-1zM13 3h1v1.5h-1zM14 12h1v1.5h-1zM16 3h1v1.5h-1zM16 7.5h1v1.5h-1zM16 9h1v1.5h-1zM16 10.5h1v1.5h-1zM16 15h1v1.5h-1zM17 0h1v1.5h-1zM20 3h1v1.5h-1zM20 13.5h1v1.5h-1zM22 0h1v1.5h-1zM22 1.5h1v1.5h-1zM23 0h1v1.5h-1zM23 4.5h1v1.5h-1zM23 13.5h1v1.5h-1zM23 15h1v1.5h-1z" fill="#f2d8dd"/><path d="M1 9h1v1.5h-1zM3 6h1v1.5h-1zM3 13.5h1v1.5h-1zM8 4.5h1v1.5h-1zM19 1.5h1v1.5h-1zM19 6h1v1.5h-1zM21 4.5h1v1.5h-1zM21 10.5h1v1.5h-1z" fill="#e6f1f2"/></pattern>
<pattern id="ps2" width="24" height="18" patternUnits="userSpaceOnUse"><rect width="24" height="18" fill="#f8f4f6"/><path d="M0 13.5h1v1.5h-1zM1 15h1v1.5h-1zM2 13.5h1v1.5h-1zM3 3h1v1.5h-1zM4 9h1v1.5h-1zM8 1.5h1v1.5h-1zM9 3h1v1.5h-1zM9 6h1v1.5h-1zM9 9h1v1.5h-1zM9 10.5h1v1.5h-1zM9 12h1v1.5h-1zM16 0h1v1.5h-1zM16 15h1v1.5h-1zM18 9h1v1.5h-1zM21 0h1v1.5h-1zM21 4.5h1v1.5h-1zM21 13.5h1v1.5h-1zM22 9h1v1.5h-1zM22 13.5h1v1.5h-1zM22 15h1v1.5h-1zM23 7.5h1v1.5h-1zM23 16.5h1v1.5h-1z" fill="#f4e6e9"/><path d="M5 1.5h1v1.5h-1zM5 10.5h1v1.5h-1zM11 1.5h1v1.5h-1zM14 1.5h1v1.5h-1zM14 13.5h1v1.5h-1zM14 15h1v1.5h-1zM19 0h1v1.5h-1z" fill="#eaf3f4"/></pattern>
<pattern id="ps3" width="24" height="18" patternUnits="userSpaceOnUse"><rect width="24" height="18" fill="#f5f6f7"/><path d="M0 4.5h1v1.5h-1zM0 9h1v1.5h-1zM0 16.5h1v1.5h-1zM2 12h1v1.5h-1zM5 13.5h1v1.5h-1zM9 4.5h1v1.5h-1zM11 1.5h1v1.5h-1zM11 12h1v1.5h-1zM11 13.5h1v1.5h-1zM12 0h1v1.5h-1zM12 6h1v1.5h-1zM12 15h1v1.5h-1zM14 0h1v1.5h-1zM18 16.5h1v1.5h-1zM19 9h1v1.5h-1zM21 6h1v1.5h-1zM23 6h1v1.5h-1z" fill="#f2e0e4"/><path d="M1 12h1v1.5h-1zM1 16.5h1v1.5h-1zM2 1.5h1v1.5h-1zM3 13.5h1v1.5h-1zM3 15h1v1.5h-1zM4 13.5h1v1.5h-1zM4 16.5h1v1.5h-1zM6 6h1v1.5h-1zM6 7.5h1v1.5h-1zM6 12h1v1.5h-1zM6 15h1v1.5h-1zM7 3h1v1.5h-1zM7 6h1v1.5h-1zM7 13.5h1v1.5h-1zM8 3h1v1.5h-1zM8 10.5h1v1.5h-1zM10 0h1v1.5h-1zM10 10.5h1v1.5h-1zM11 4.5h1v1.5h-1zM12 10.5h1v1.5h-1zM12 12h1v1.5h-1zM13 0h1v1.5h-1zM13 6h1v1.5h-1zM13 15h1v1.5h-1zM15 1.5h1v1.5h-1zM15 3h1v1.5h-1zM15 4.5h1v1.5h-1zM15 10.5h1v1.5h-1zM15 13.5h1v1.5h-1zM15 16.5h1v1.5h-1zM16 0h1v1.5h-1zM17 10.5h1v1.5h-1zM19 10.5h1v1.5h-1zM20 10.5h1v1.5h-1zM22 0h1v1.5h-1zM22 4.5h1v1.5h-1zM22 7.5h1v1.5h-1zM23 16.5h1v1.5h-1z" fill="#e2f0f2"/></pattern>
</defs>
<rect x="211.30" y="410.70" width="23.70" height="179.00" fill="url(#ps2)"/>
<rect x="236.00" y="410.70" width="44.00" height="179.00" fill="url(#ps2)"/>
<rect x="280.90" y="410.70" width="27.10" height="179.00" fill="url(#ps2)"/>
<rect x="308.80" y="410.70" width="8.50" height="179.00" fill="url(#ps2)"/>
<rect x="211.30" y="410.70" width="23.70" height="115.00" fill="url(#ps1)"/>
<rect x="211.30" y="525.00" width="23.70" height="22.00" fill="url(#ps3)"/>
<rect x="308.80" y="480.00" width="8.50" height="30.00" fill="url(#ps1)"/>
<rect x="308.80" y="540.00" width="8.50" height="50.00" fill="url(#ps1)"/>
<rect x="211.30" y="407.10" width="23.70" height="2.70" fill="#a51e44"/>
<rect x="236.00" y="407.10" width="44.00" height="2.70" fill="#a51e44"/>
<rect x="280.90" y="407.10" width="27.10" height="2.70" fill="#a51e44"/>
<rect x="308.80" y="407.10" width="8.50" height="2.70" fill="#5080b0"/>
<text x="255.9" y="404.3" font-size="6.3" font-weight="bold" fill="#222">Tumor</text>
<text x="309.7" y="404.3" font-size="6.4" font-weight="bold" fill="#222">Normal</text>
<line x1="321.00" y1="485.00" x2="385.50" y2="485.00" stroke="#111" stroke-width="1.6"/>
<path d="M382.5 481.5L388 485L382.5 488.5" fill="none" stroke="#111" stroke-width="1.6"/>
<text x="344.8" y="480.6" font-size="7.4" fill="#222">HVS</text>
<text x="325.0" y="499.5" font-size="7.6" fill="#222">Splicing Events</text>
<text x="342.8" y="519.6" font-size="7.6" font-weight="bold" fill="#111">PSI</text>
<text x="360.4" y="519.6" font-size="8.1" font-weight="bold" fill="#111">Z-score</text>
<linearGradient id="gpsi" x1="0" y1="0" x2="0" y2="1"><stop offset="0" stop-color="#d04a5c"/><stop offset="0.5" stop-color="#fbf8f8"/><stop offset="1" stop-color="#6cb8ba"/></linearGradient>
<rect x="345.10" y="524.60" width="9.50" height="48.70" fill="url(#gpsi)"/>
<text x="356.6" y="529.3" font-size="7.0" fill="#222">4</text>
<text x="356.6" y="540.8" font-size="7.0" fill="#222">2</text>
<text x="356.6" y="551.7" font-size="7.0" fill="#222">0</text>
<text x="356.6" y="563.2" font-size="7.0" fill="#222">−2</text>
<text x="356.6" y="574.4" font-size="7.0" fill="#222">−4</text>
<defs>
<pattern id="pR" width="28" height="24" patternUnits="userSpaceOnUse"><rect width="28" height="24" fill="#fbf3f4"/><path d="M0 0h0.7v0.6h-0.7zM0 0.6h0.7v0.6h-0.7zM0 1.2h0.7v0.6h-0.7zM0 1.8h0.7v0.6h-0.7zM0 2.4h0.7v0.6h-0.7zM0 3.6h0.7v0.6h-0.7zM0 6h0.7v0.6h-0.7zM0 7.2h0.7v0.6h-0.7zM0 9h0.7v0.6h-0.7zM0 9.6h0.7v0.6h-0.7zM0 10.2h0.7v0.6h-0.7zM0 10.8h0.7v0.6h-0.7zM0 12h0.7v0.6h-0.7zM0 13.2h0.7v0.6h-0.7zM0 13.8h0.7v0.6h-0.7zM0 15.6h0.7v0.6h-0.7zM0 16.2h0.7v0.6h-0.7zM0 16.8h0.7v0.6h-0.7zM0 18.6h0.7v0.6h-0.7zM0 19.8h0.7v0.6h-0.7zM0 21h0.7v0.6h-0.7zM0 21.6h0.7v0.6h-0.7zM0 22.2h0.7v0.6h-0.7zM0 23.4h0.7v0.6h-0.7zM0.7 0h0.7v0.6h-0.7zM0.7 1.8h0.7v0.6h-0.7zM0.7 3.6h0.7v0.6h-0.7zM0.7 4.2h0.7v0.6h-0.7zM0.7 4.8h0.7v0.6h-0.7zM0.7 5.4h0.7v0.6h-0.7zM0.7 7.8h0.7v0.6h-0.7zM0.7 9h0.7v0.6h-0.7zM0.7 9.6h0.7v0.6h-0.7zM0.7 10.8h0.7v0.6h-0.7zM0.7 12h0.7v0.6h-0.7zM0.7 15.6h0.7v0.6h-0.7zM0.7 16.2h0.7v0.6h-0.7zM0.7 17.4h0.7v0.6h-0.7zM0.7 19.2h0.7v0.6h-0.7zM0.7 19.8h0.7v0.6h-0.7zM0.7 21h0.7v0.6h-0.7zM1.4 0h0.7v0.6h-0.7zM1.4 0.6h0.7v0.6h-0.7zM1.4 3.6h0.7v0.6h-0.7zM1.4 9.6h0.7v0.6h-0.7zM1.4 17.4h0.7v0.6h-0.7zM1.4 22.8h0.7v0.6h-0.7zM2.1 3h0.7v0.6h-0.7zM2.1 7.8h0.7v0.6h-0.7zM2.1 13.2h0.7v0.6h-0.7zM2.8 3h0.7v0.6h-0.7zM2.8 4.8h0.7v0.6h-0.7zM2.8 5.4h0.7v0.6h-0.7zM2.8 6.6h0.7v0.6h-0.7zM2.8 8.4h0.7v0.6h-0.7zM2.8 9.6h0.7v0.6h-0.7zM2.8 10.2h0.7v0.6h-0.7zM2.8 10.8h0.7v0.6h-0.7zM2.8 11.4h0.7v0.6h-0.7zM2.8 12h0.7v0.6h-0.7zM2.8 12.6h0.7v0.6h-0.7zM2.8 13.8h0.7v0.6h-0.7zM2.8 14.4h0.7v0.6h-0.7zM2.8 15h0.7v0.6h-0.7zM2.8 16.2h0.7v0.6h-0.7zM2.8 16.8h0.7v0.6h-0.7zM2.8 18.6h0.7v0.6h-0.7zM2.8 19.8h0.7v0.6h-0.7zM2.8 22.2h0.7v0.6h-0.7zM3.5 0h0.7v0.6h-0.7zM3.5 2.4h0.7v0.6h-0.7zM3.5 4.8h0.7v0.6h-0.7zM3.5 7.2h0.7v0.6h-0.7zM3.5 11.4h0.7v0.6h-0.7zM3.5 12h0.7v0.6h-0.7zM3.5 14.4h0.7v0.6h-0.7zM3.5 18h0.7v0.6h-0.7zM4.2 0h0.7v0.6h-0.7zM4.2 1.8h0.7v0.6h-0.7zM4.2 5.4h0.7v0.6h-0.7zM4.2 6.6h0.7v0.6h-0.7zM4.2 7.8h0.7v0.6h-0.7zM4.2 8.4h0.7v0.6h-0.7zM4.2 10.8h0.7v0.6h-0.7zM4.2 14.4h0.7v0.6h-0.7zM4.2 15.6h0.7v0.6h-0.7zM4.2 18h0.7v0.6h-0.7zM4.2 19.8h0.7v0.6h-0.7zM4.2 21h0.7v0.6h-0.7zM4.2 21.6h0.7v0.6h-0.7zM4.2 23.4h0.7v0.6h-0.7zM4.9 0h0.7v0.6h-0.7zM4.9 1.8h0.7v0.6h-0.7zM4.9 2.4h0.7v0.6h-0.7zM4.9 3h0.7v0.6h-0.7zM4.9 4.2h0.7v0.6h-0.7zM4.9 4.8h0.7v0.6h-0.7zM4.9 5.4h0.7v0.6h-0.7zM4.9 6h0.7v0.6h-0.7zM4.9 7.2h0.7v0.6h-0.7zM4.9 8.4h0.7v0.6h-0.7zM4.9 9h0.7v0.6h-0.7zM4.9 9.6h0.7v0.6h-0.7zM4.9 10.2h0.7v0.6h-0.7zM4.9 12h0.7v0.6h-0.7zM4.9 12.6h0.7v0.6h-0.7zM4.9 13.8h0.7v0.6h-0.7zM4.9 14.4h0.7v0.6h-0.7zM4.9 15h0.7v0.6h-0.7zM4.9 15.6h0.7v0.6h-0.7zM4.9 18h0.7v0.6h-0.7zM4.9 18.6h0.7v0.6h-0.7zM4.9 19.2h0.7v0.6h-0.7zM4.9 19.8h0.7v0.6h-0.7zM4.9 20.4h0.7v0.6h-0.7zM4.9 21.6h0.7v0.6h-0.7zM4.9 23.4h0.7v0.6h-0.7zM5.6 0h0.7v0.6h-0.7zM5.6 1.8h0.7v0.6h-0.7zM5.6 5.4h0.7v0.6h-0.7zM5.6 6h0.7v0.6h-0.7zM5.6 6.6h0.7v0.6h-0.7zM5.6 7.8h0.7v0.6h-0.7zM5.6 8.4h0.7v0.6h-0.7zM5.6 9.6h0.7v0.6h-0.7zM5.6 12h0.7v0.6h-0.7zM5.6 13.8h0.7v0.6h-0.7zM5.6 15.6h0.7v0.6h-0.7zM5.6 17.4h0.7v0.6h-0.7zM5.6 18h0.7v0.6h-0.7zM5.6 18.6h0.7v0.6h-0.7zM5.6 19.8h0.7v0.6h-0.7zM5.6 20.4h0.7v0.6h-0.7zM5.6 21h0.7v0.6h-0.7zM5.6 22.8h0.7v0.6h-0.7zM6.3 0h0.7v0.6h-0.7zM6.3 1.2h0.7v0.6h-0.7zM6.3 3h0.7v0.6h-0.7zM6.3 6h0.7v0.6h-0.7zM6.3 6.6h0.7v0.6h-0.7zM6.3 7.2h0.7v0.6h-0.7zM6.3 8.4h0.7v0.6h-0.7zM6.3 10.2h0.7v0.6h-0.7zM6.3 12h0.7v0.6h-0.7zM6.3 13.8h0.7v0.6h-0.7zM6.3 15h0.7v0.6h-0.7zM6.3 15.6h0.7v0.6h-0.7zM6.3 16.2h0.7v0.6h-0.7zM6.3 18.6h0.7v0.6h-0.7zM6.3 21h0.7v0.6h-0.7zM6.3 23.4h0.7v0.6h-0.7zM7 0h0.7v0.6h-0.7zM7 0.6h0.7v0.6h-0.7zM7 2.4h0.7v0.6h-0.7zM7 3h0.7v0.6h-0.7zM7 3.6h0.7v0.6h-0.7zM7 4.8h0.7v0.6h-0.7zM7 7.2h0.7v0.6h-0.7zM7 7.8h0.7v0.6h-0.7zM7 10.8h0.7v0.6h-0.7zM7 11.4h0.7v0.6h-0.7zM7 12.6h0.7v0.6h-0.7zM7 14.4h0.7v0.6h-0.7zM7 16.8h0.7v0.6h-0.7zM7 17.4h0.7v0.6h-0.7zM7 18h0.7v0.6h-0.7zM7 18.6h0.7v0.6h-0.7zM7 21h0.7v0.6h-0.7zM7 22.2h0.7v0.6h-0.7zM7.7 0h0.7v0.6h-0.7zM7.7 1.8h0.7v0.6h-0.7zM7.7 3.6h0.7v0.6h-0.7zM7.7 4.2h0.7v0.6h-0.7zM7.7 7.8h0.7v0.6h-0.7zM7.7 9.6h0.7v0.6h-0.7zM7.7 11.4h0.7v0.6h-0.7zM7.7 15h0.7v0.6h-0.7zM7.7 15.6h0.7v0.6h-0.7zM7.7 16.2h0.7v0.6h-0.7zM7.7 16.8h0.7v0.6h-0.7zM7.7 19.2h0.7v0.6h-0.7zM7.7 21h0.7v0.6h-0.7zM7.7 21.6h0.7v0.6h-0.7zM7.7 22.2h0.7v0.6h-0.7zM8.4 0h0.7v0.6h-0.7zM8.4 0.6h0.7v0.6h-0.7zM8.4 2.4h0.7v0.6h-0.7zM8.4 3h0.7v0.6h-0.7zM8.4 5.4h0.7v0.6h-0.7zM8.4 6h0.7v0.6h-0.7zM8.4 7.2h0.7v0.6h-0.7zM8.4 9h0.7v0.6h-0.7zM8.4 9.6h0.7v0.6h-0.7zM8.4 12.6h0.7v0.6h-0.7zM8.4 13.2h0.7v0.6h-0.7zM8.4 15.6h0.7v0.6h-0.7zM8.4 16.2h0.7v0.6h-0.7zM8.4 16.8h0.7v0.6h-0.7zM8.4 18h0.7v0.6h-0.7zM8.4 19.2h0.7v0.6h-0.7zM8.4 21h0.7v0.6h-0.7zM8.4 21.6h0.7v0.6h-0.7zM8.4 22.2h0.7v0.6h-0.7zM8.4 22.8h0.7v0.6h-0.7zM9.1 0.6h0.7v0.6h-0.7zM9.1 3.6h0.7v0.6h-0.7zM9.1 7.2h0.7v0.6h-0.7zM9.1 7.8h0.7v0.6h-0.7zM9.1 13.8h0.7v0.6h-0.7zM9.1 14.4h0.7v0.6h-0.7zM9.1 19.2h0.7v0.6h-0.7zM9.1 19.8h0.7v0.6h-0.7zM9.8 1.2h0.7v0.6h-0.7zM9.8 4.8h0.7v0.6h-0.7zM9.8 6h0.7v0.6h-0.7zM9.8 6.6h0.7v0.6h-0.7zM9.8 8.4h0.7v0.6h-0.7zM9.8 12h0.7v0.6h-0.7zM9.8 15.6h0.7v0.6h-0.7zM9.8 18.6h0.7v0.6h-0.7zM9.8 19.2h0.7v0.6h-0.7zM9.8 21.6h0.7v0.6h-0.7zM9.8 22.8h0.7v0.6h-0.7zM10.5 0.6h0.7v0.6h-0.7zM10.5 3.6h0.7v0.6h-0.7zM10.5 4.2h0.7v0.6h-0.7zM10.5 4.8h0.7v0.6h-0.7zM10.5 5.4h0.7v0.6h-0.7zM10.5 6h0.7v0.6h-0.7zM10.5 6.6h0.7v0.6h-0.7zM10.5 7.8h0.7v0.6h-0.7zM10.5 9h0.7v0.6h-0.7zM10.5 9.6h0.7v0.6h-0.7zM10.5 11.4h0.7v0.6h-0.7zM10.5 12h0.7v0.6h-0.7zM10.5 16.2h0.7v0.6h-0.7zM10.5 16.8h0.7v0.6h-0.7zM10.5 18h0.7v0.6h-0.7zM10.5 18.6h0.7v0.6h-0.7zM10.5 19.2h0.7v0.6h-0.7zM10.5 20.4h0.7v0.6h-0.7zM10.5 22.2h0.7v0.6h-0.7zM10.5 23.4h0.7v0.6h-0.7zM11.2 0.6h0.7v0.6h-0.7zM11.2 1.8h0.7v0.6h-0.7zM11.2 2.4h0.7v0.6h-0.7zM11.2 3h0.7v0.6h-0.7zM11.2 3.6h0.7v0.6h-0.7zM11.2 4.2h0.7v0.6h-0.7zM11.2 4.8h0.7v0.6h-0.7zM11.2 5.4h0.7v0.6h-0.7zM11.2 6.6h0.7v0.6h-0.7zM11.2 7.2h0.7v0.6h-0.7zM11.2 7.8h0.7v0.6h-0.7zM11.2 8.4h0.7v0.6h-0.7zM11.2 9h0.7v0.6h-0.7zM11.2 9.6h0.7v0.6h-0.7zM11.2 10.2h0.7v0.6h-0.7zM11.2 10.8h0.7v0.6h-0.7zM11.2 11.4h0.7v0.6h-0.7zM11.2 12h0.7v0.6h-0.7zM11.2 12.6h0.7v0.6h-0.7zM11.2 13.2h0.7v0.6h-0.7zM11.2 13.8h0.7v0.6h-0.7zM11.2 16.8h0.7v0.6h-0.7zM11.2 17.4h0.7v0.6h-0.7zM11.2 18h0.7v0.6h-0.7zM11.2 18.6h0.7v0.6h-0.7zM11.2 19.2h0.7v0.6h-0.7zM11.2 20.4h0.7v0.6h-0.7zM11.2 21h0.7v0.6h-0.7zM11.2 22.2h0.7v0.6h-0.7zM11.2 22.8h0.7v0.6h-0.7zM11.2 23.4h0.7v0.6h-0.7zM11.9 0.6h0.7v0.6h-0.7zM11.9 2.4h0.7v0.6h-0.7zM11.9 3.6h0.7v0.6h-0.7zM11.9 4.8h0.7v0.6h-0.7zM11.9 6h0.7v0.6h-0.7zM11.9 7.2h0.7v0.6h-0.7zM11.9 9.6h0.7v0.6h-0.7zM11.9 12.6h0.7v0.6h-0.7zM11.9 15.6h0.7v0.6h-0.7zM11.9 16.2h0.7v0.6h-0.7zM11.9 18.6h0.7v0.6h-0.7zM11.9 22.8h0.7v0.6h-0.7zM12.6 2.4h0.7v0.6h-0.7zM12.6 5.4h0.7v0.6h-0.7zM12.6 6.6h0.7v0.6h-0.7zM12.6 7.2h0.7v0.6h-0.7zM12.6 7.8h0.7v0.6h-0.7zM12.6 8.4h0.7v0.6h-0.7zM12.6 9h0.7v0.6h-0.7zM12.6 9.6h0.7v0.6h-0.7zM12.6 10.8h0.7v0.6h-0.7zM12.6 11.4h0.7v0.6h-0.7zM12.6 12.6h0.7v0.6h-0.7zM12.6 13.8h0.7v0.6h-0.7zM12.6 15h0.7v0.6h-0.7zM12.6 15.6h0.7v0.6h-0.7zM12.6 16.2h0.7v0.6h-0.7zM12.6 18.6h0.7v0.6h-0.7zM12.6 19.2h0.7v0.6h-0.7zM12.6 19.8h0.7v0.6h-0.7zM12.6 20.4h0.7v0.6h-0.7zM12.6 21h0.7v0.6h-0.7zM12.6 22.2h0.7v0.6h-0.7zM13.3 0h0.7v0.6h-0.7zM13.3 0.6h0.7v0.6h-0.7zM13.3 1.8h0.7v0.6h-0.7zM13.3 5.4h0.7v0.6h-0.7zM13.3 6h0.7v0.6h-0.7zM13.3 10.2h0.7v0.6h-0.7zM13.3 10.8h0.7v0.6h-0.7zM13.3 15.6h0.7v0.6h-0.7zM13.3 17.4h0.7v0.6h-0.7zM13.3 19.8h0.7v0.6h-0.7zM13.3 21h0.7v0.6h-0.7zM13.3 21.6h0.7v0.6h-0.7zM13.3 22.8h0.7v0.6h-0.7zM14 0.6h0.7v0.6h-0.7zM14 3h0.7v0.6h-0.7zM14 6.6h0.7v0.6h-0.7zM14 9h0.7v0.6h-0.7zM14 11.4h0.7v0.6h-0.7zM14 12h0.7v0.6h-0.7zM14 15h0.7v0.6h-0.7zM14 16.2h0.7v0.6h-0.7zM14 17.4h0.7v0.6h-0.7zM14 19.8h0.7v0.6h-0.7zM14 20.4h0.7v0.6h-0.7zM14 21h0.7v0.6h-0.7zM14 23.4h0.7v0.6h-0.7zM14.7 0.6h0.7v0.6h-0.7zM14.7 1.2h0.7v0.6h-0.7zM14.7 1.8h0.7v0.6h-0.7zM14.7 4.8h0.7v0.6h-0.7zM14.7 6h0.7v0.6h-0.7zM14.7 9h0.7v0.6h-0.7zM14.7 14.4h0.7v0.6h-0.7zM14.7 15.6h0.7v0.6h-0.7zM14.7 16.2h0.7v0.6h-0.7zM14.7 19.2h0.7v0.6h-0.7zM14.7 20.4h0.7v0.6h-0.7zM14.7 21.6h0.7v0.6h-0.7zM14.7 22.2h0.7v0.6h-0.7zM14.7 23.4h0.7v0.6h-0.7zM15.4 3.6h0.7v0.6h-0.7zM15.4 7.2h0.7v0.6h-0.7zM15.4 7.8h0.7v0.6h-0.7zM15.4 10.2h0.7v0.6h-0.7zM15.4 11.4h0.7v0.6h-0.7zM15.4 12.6h0.7v0.6h-0.7zM15.4 13.2h0.7v0.6h-0.7zM15.4 15h0.7v0.6h-0.7zM15.4 16.2h0.7v0.6h-0.7zM15.4 17.4h0.7v0.6h-0.7zM15.4 18h0.7v0.6h-0.7zM15.4 19.8h0.7v0.6h-0.7zM15.4 21h0.7v0.6h-0.7zM15.4 23.4h0.7v0.6h-0.7zM16.1 0h0.7v0.6h-0.7zM16.1 1.8h0.7v0.6h-0.7zM16.1 3h0.7v0.6h-0.7zM16.1 3.6h0.7v0.6h-0.7zM16.1 5.4h0.7v0.6h-0.7zM16.1 6.6h0.7v0.6h-0.7zM16.1 9.6h0.7v0.6h-0.7zM16.1 11.4h0.7v0.6h-0.7zM16.1 13.8h0.7v0.6h-0.7zM16.1 16.2h0.7v0.6h-0.7zM16.1 17.4h0.7v0.6h-0.7zM16.1 18h0.7v0.6h-0.7zM16.1 21.6h0.7v0.6h-0.7zM16.1 22.2h0.7v0.6h-0.7zM16.8 0.6h0.7v0.6h-0.7zM16.8 2.4h0.7v0.6h-0.7zM16.8 3h0.7v0.6h-0.7zM16.8 4.8h0.7v0.6h-0.7zM16.8 7.2h0.7v0.6h-0.7zM16.8 9h0.7v0.6h-0.7zM16.8 9.6h0.7v0.6h-0.7zM16.8 15.6h0.7v0.6h-0.7zM16.8 16.8h0.7v0.6h-0.7zM16.8 17.4h0.7v0.6h-0.7zM16.8 18h0.7v0.6h-0.7zM16.8 22.2h0.7v0.6h-0.7zM17.5 1.2h0.7v0.6h-0.7zM17.5 5.4h0.7v0.6h-0.7zM17.5 6.6h0.7v0.6h-0.7zM17.5 10.2h0.7v0.6h-0.7zM17.5 11.4h0.7v0.6h-0.7zM17.5 13.8h0.7v0.6h-0.7zM17.5 18h0.7v0.6h-0.7zM17.5 19.8h0.7v0.6h-0.7zM18.2 0h0.7v0.6h-0.7zM18.2 1.8h0.7v0.6h-0.7zM18.2 3h0.7v0.6h-0.7zM18.2 5.4h0.7v0.6h-0.7zM18.2 6h0.7v0.6h-0.7zM18.2 7.2h0.7v0.6h-0.7zM18.2 7.8h0.7v0.6h-0.7zM18.2 9h0.7v0.6h-0.7zM18.2 10.8h0.7v0.6h-0.7zM18.2 11.4h0.7v0.6h-0.7zM18.2 13.2h0.7v0.6h-0.7zM18.2 13.8h0.7v0.6h-0.7zM18.2 14.4h0.7v0.6h-0.7zM18.2 16.2h0.7v0.6h-0.7zM18.2 18.6h0.7v0.6h-0.7zM18.2 19.2h0.7v0.6h-0.7zM18.2 20.4h0.7v0.6h-0.7zM18.2 21h0.7v0.6h-0.7zM18.2 22.8h0.7v0.6h-0.7zM18.2 23.4h0.7v0.6h-0.7zM18.9 0h0.7v0.6h-0.7zM18.9 0.6h0.7v0.6h-0.7zM18.9 1.8h0.7v0.6h-0.7zM18.9 2.4h0.7v0.6h-0.7zM18.9 3h0.7v0.6h-0.7zM18.9 5.4h0.7v0.6h-0.7zM18.9 6h0.7v0.6h-0.7zM18.9 7.2h0.7v0.6h-0.7zM18.9 9h0.7v0.6h-0.7zM18.9 11.4h0.7v0.6h-0.7zM18.9 13.2h0.7v0.6h-0.7zM18.9 13.8h0.7v0.6h-0.7zM18.9 15h0.7v0.6h-0.7zM18.9 19.2h0.7v0.6h-0.7zM18.9 19.8h0.7v0.6h-0.7zM19.6 2.4h0.7v0.6h-0.7zM19.6 12.6h0.7v0.6h-0.7zM19.6 14.4h0.7v0.6h-0.7zM19.6 17.4h0.7v0.6h-0.7zM19.6 19.2h0.7v0.6h-0.7zM20.3 1.2h0.7v0.6h-0.7zM20.3 2.4h0.7v0.6h-0.7zM20.3 3h0.7v0.6h-0.7zM20.3 4.2h0.7v0.6h-0.7zM20.3 6h0.7v0.6h-0.7zM20.3 6.6h0.7v0.6h-0.7zM20.3 7.8h0.7v0.6h-0.7zM20.3 9.6h0.7v0.6h-0.7zM20.3 12h0.7v0.6h-0.7zM20.3 13.8h0.7v0.6h-0.7zM20.3 14.4h0.7v0.6h-0.7zM20.3 15h0.7v0.6h-0.7zM20.3 16.2h0.7v0.6h-0.7zM20.3 17.4h0.7v0.6h-0.7zM20.3 18h0.7v0.6h-0.7zM20.3 18.6h0.7v0.6h-0.7zM20.3 19.8h0.7v0.6h-0.7zM20.3 20.4h0.7v0.6h-0.7zM20.3 21h0.7v0.6h-0.7zM20.3 21.6h0.7v0.6h-0.7zM20.3 22.2h0.7v0.6h-0.7zM20.3 23.4h0.7v0.6h-0.7zM21 1.8h0.7v0.6h-0.7zM21 3.6h0.7v0.6h-0.7zM21 4.2h0.7v0.6h-0.7zM21 10.2h0.7v0.6h-0.7zM21 13.8h0.7v0.6h-0.7zM21 15h0.7v0.6h-0.7zM21 16.8h0.7v0.6h-0.7zM21 17.4h0.7v0.6h-0.7zM21 19.2h0.7v0.6h-0.7zM21 23.4h0.7v0.6h-0.7zM21.7 0.6h0.7v0.6h-0.7zM21.7 1.2h0.7v0.6h-0.7zM21.7 1.8h0.7v0.6h-0.7zM21.7 2.4h0.7v0.6h-0.7zM21.7 4.2h0.7v0.6h-0.7zM21.7 4.8h0.7v0.6h-0.7zM21.7 5.4h0.7v0.6h-0.7zM21.7 6.6h0.7v0.6h-0.7zM21.7 8.4h0.7v0.6h-0.7zM21.7 9h0.7v0.6h-0.7zM21.7 9.6h0.7v0.6h-0.7zM21.7 12.6h0.7v0.6h-0.7zM21.7 13.2h0.7v0.6h-0.7zM21.7 14.4h0.7v0.6h-0.7zM21.7 15.6h0.7v0.6h-0.7zM21.7 16.8h0.7v0.6h-0.7zM21.7 17.4h0.7v0.6h-0.7zM21.7 18.6h0.7v0.6h-0.7zM21.7 19.2h0.7v0.6h-0.7zM21.7 19.8h0.7v0.6h-0.7zM21.7 21h0.7v0.6h-0.7zM21.7 21.6h0.7v0.6h-0.7zM21.7 22.2h0.7v0.6h-0.7zM21.7 22.8h0.7v0.6h-0.7zM22.4 0h0.7v0.6h-0.7zM22.4 0.6h0.7v0.6h-0.7zM22.4 1.2h0.7v0.6h-0.7zM22.4 1.8h0.7v0.6h-0.7zM22.4 2.4h0.7v0.6h-0.7zM22.4 3h0.7v0.6h-0.7zM22.4 4.2h0.7v0.6h-0.7zM22.4 4.8h0.7v0.6h-0.7zM22.4 5.4h0.7v0.6h-0.7zM22.4 6h0.7v0.6h-0.7zM22.4 6.6h0.7v0.6h-0.7zM22.4 7.2h0.7v0.6h-0.7zM22.4 8.4h0.7v0.6h-0.7zM22.4 10.2h0.7v0.6h-0.7zM22.4 10.8h0.7v0.6h-0.7zM22.4 11.4h0.7v0.6h-0.7zM22.4 13.2h0.7v0.6h-0.7zM22.4 13.8h0.7v0.6h-0.7zM22.4 14.4h0.7v0.6h-0.7zM22.4 15h0.7v0.6h-0.7zM22.4 15.6h0.7v0.6h-0.7zM22.4 16.2h0.7v0.6h-0.7zM22.4 16.8h0.7v0.6h-0.7zM22.4 17.4h0.7v0.6h-0.7zM22.4 18h0.7v0.6h-0.7zM22.4 18.6h0.7v0.6h-0.7zM22.4 19.2h0.7v0.6h-0.7zM22.4 19.8h0.7v0.6h-0.7zM22.4 20.4h0.7v0.6h-0.7zM22.4 21h0.7v0.6h-0.7zM22.4 21.6h0.7v0.6h-0.7zM22.4 22.2h0.7v0.6h-0.7zM22.4 22.8h0.7v0.6h-0.7zM23.1 0h0.7v0.6h-0.7zM23.1 0.6h0.7v0.6h-0.7zM23.1 1.8h0.7v0.6h-0.7zM23.1 2.4h0.7v0.6h-0.7zM23.1 3h0.7v0.6h-0.7zM23.1 5.4h0.7v0.6h-0.7zM23.1 7.8h0.7v0.6h-0.7zM23.1 8.4h0.7v0.6h-0.7zM23.1 9h0.7v0.6h-0.7zM23.1 10.2h0.7v0.6h-0.7zM23.1 10.8h0.7v0.6h-0.7zM23.1 11.4h0.7v0.6h-0.7zM23.1 12h0.7v0.6h-0.7zM23.1 12.6h0.7v0.6h-0.7zM23.1 13.8h0.7v0.6h-0.7zM23.1 14.4h0.7v0.6h-0.7zM23.1 15h0.7v0.6h-0.7zM23.1 15.6h0.7v0.6h-0.7zM23.1 16.8h0.7v0.6h-0.7zM23.1 18h0.7v0.6h-0.7zM23.1 18.6h0.7v0.6h-0.7zM23.1 19.2h0.7v0.6h-0.7zM23.1 20.4h0.7v0.6h-0.7zM23.1 21h0.7v0.6h-0.7zM23.1 22.2h0.7v0.6h-0.7zM23.8 1.8h0.7v0.6h-0.7zM23.8 2.4h0.7v0.6h-0.7zM23.8 4.8h0.7v0.6h-0.7zM23.8 6h0.7v0.6h-0.7zM23.8 7.2h0.7v0.6h-0.7zM23.8 9h0.7v0.6h-0.7zM23.8 9.6h0.7v0.6h-0.7zM23.8 10.8h0.7v0.6h-0.7zM23.8 12h0.7v0.6h-0.7zM23.8 13.8h0.7v0.6h-0.7zM23.8 14.4h0.7v0.6h-0.7zM23.8 15h0.7v0.6h-0.7zM23.8 16.2h0.7v0.6h-0.7zM23.8 17.4h0.7v0.6h-0.7zM23.8 18.6h0.7v0.6h-0.7zM23.8 19.8h0.7v0.6h-0.7zM23.8 20.4h0.7v0.6h-0.7zM23.8 21h0.7v0.6h-0.7zM23.8 21.6h0.7v0.6h-0.7zM23.8 22.2h0.7v0.6h-0.7zM23.8 22.8h0.7v0.6h-0.7zM24.5 1.2h0.7v0.6h-0.7zM24.5 2.4h0.7v0.6h-0.7zM24.5 4.2h0.7v0.6h-0.7zM24.5 5.4h0.7v0.6h-0.7zM24.5 6.6h0.7v0.6h-0.7zM24.5 9.6h0.7v0.6h-0.7zM24.5 12.6h0.7v0.6h-0.7zM24.5 13.2h0.7v0.6h-0.7zM24.5 14.4h0.7v0.6h-0.7zM24.5 15h0.7v0.6h-0.7zM24.5 21h0.7v0.6h-0.7zM24.5 22.2h0.7v0.6h-0.7zM24.5 23.4h0.7v0.6h-0.7zM25.2 1.8h0.7v0.6h-0.7zM25.2 3h0.7v0.6h-0.7zM25.2 3.6h0.7v0.6h-0.7zM25.2 7.2h0.7v0.6h-0.7zM25.2 7.8h0.7v0.6h-0.7zM25.2 8.4h0.7v0.6h-0.7zM25.2 9h0.7v0.6h-0.7zM25.2 10.2h0.7v0.6h-0.7zM25.2 12.6h0.7v0.6h-0.7zM25.2 13.2h0.7v0.6h-0.7zM25.2 13.8h0.7v0.6h-0.7zM25.2 14.4h0.7v0.6h-0.7zM25.2 15h0.7v0.6h-0.7zM25.2 15.6h0.7v0.6h-0.7zM25.2 16.2h0.7v0.6h-0.7zM25.2 17.4h0.7v0.6h-0.7zM25.2 18.6h0.7v0.6h-0.7zM25.2 19.8h0.7v0.6h-0.7zM25.2 20.4h0.7v0.6h-0.7zM25.2 21h0.7v0.6h-0.7zM25.9 1.8h0.7v0.6h-0.7zM25.9 2.4h0.7v0.6h-0.7zM25.9 4.8h0.7v0.6h-0.7zM25.9 9h0.7v0.6h-0.7zM25.9 9.6h0.7v0.6h-0.7zM25.9 12h0.7v0.6h-0.7zM25.9 13.2h0.7v0.6h-0.7zM25.9 14.4h0.7v0.6h-0.7zM25.9 15h0.7v0.6h-0.7zM25.9 17.4h0.7v0.6h-0.7zM25.9 18h0.7v0.6h-0.7zM25.9 19.2h0.7v0.6h-0.7zM25.9 21h0.7v0.6h-0.7zM26.6 0h0.7v0.6h-0.7zM26.6 1.8h0.7v0.6h-0.7zM26.6 3h0.7v0.6h-0.7zM26.6 5.4h0.7v0.6h-0.7zM26.6 7.8h0.7v0.6h-0.7zM26.6 8.4h0.7v0.6h-0.7zM26.6 9h0.7v0.6h-0.7zM26.6 9.6h0.7v0.6h-0.7zM26.6 10.8h0.7v0.6h-0.7zM26.6 12h0.7v0.6h-0.7zM26.6 13.8h0.7v0.6h-0.7zM26.6 17.4h0.7v0.6h-0.7zM26.6 22.2h0.7v0.6h-0.7zM27.3 0h0.7v0.6h-0.7zM27.3 0.6h0.7v0.6h-0.7zM27.3 1.2h0.7v0.6h-0.7zM27.3 2.4h0.7v0.6h-0.7zM27.3 3h0.7v0.6h-0.7zM27.3 3.6h0.7v0.6h-0.7zM27.3 4.2h0.7v0.6h-0.7zM27.3 5.4h0.7v0.6h-0.7zM27.3 6.6h0.7v0.6h-0.7zM27.3 7.8h0.7v0.6h-0.7zM27.3 10.2h0.7v0.6h-0.7zM27.3 10.8h0.7v0.6h-0.7zM27.3 12.6h0.7v0.6h-0.7zM27.3 13.2h0.7v0.6h-0.7zM27.3 13.8h0.7v0.6h-0.7zM27.3 15h0.7v0.6h-0.7zM27.3 15.6h0.7v0.6h-0.7zM27.3 16.8h0.7v0.6h-0.7zM27.3 17.4h0.7v0.6h-0.7zM27.3 18.6h0.7v0.6h-0.7zM27.3 19.2h0.7v0.6h-0.7zM27.3 22.2h0.7v0.6h-0.7zM27.3 22.8h0.7v0.6h-0.7z" fill="#e27e8c"/><path d="M0.7 2.4h0.7v0.6h-0.7zM0.7 22.8h0.7v0.6h-0.7zM0.7 23.4h0.7v0.6h-0.7zM1.4 1.2h0.7v0.6h-0.7zM1.4 1.8h0.7v0.6h-0.7zM1.4 4.2h0.7v0.6h-0.7zM1.4 10.2h0.7v0.6h-0.7zM1.4 10.8h0.7v0.6h-0.7zM1.4 12h0.7v0.6h-0.7zM1.4 12.6h0.7v0.6h-0.7zM1.4 19.8h0.7v0.6h-0.7zM1.4 20.4h0.7v0.6h-0.7zM2.1 0h0.7v0.6h-0.7zM2.1 6h0.7v0.6h-0.7zM2.1 6.6h0.7v0.6h-0.7zM2.1 7.2h0.7v0.6h-0.7zM2.1 9h0.7v0.6h-0.7zM2.1 10.2h0.7v0.6h-0.7zM2.1 11.4h0.7v0.6h-0.7zM2.1 14.4h0.7v0.6h-0.7zM2.1 16.8h0.7v0.6h-0.7zM2.1 17.4h0.7v0.6h-0.7zM2.1 19.8h0.7v0.6h-0.7zM2.1 20.4h0.7v0.6h-0.7zM2.1 21.6h0.7v0.6h-0.7zM2.1 22.2h0.7v0.6h-0.7zM2.1 22.8h0.7v0.6h-0.7zM2.1 23.4h0.7v0.6h-0.7zM2.8 9h0.7v0.6h-0.7zM3.5 0.6h0.7v0.6h-0.7zM3.5 4.2h0.7v0.6h-0.7zM3.5 6h0.7v0.6h-0.7zM3.5 6.6h0.7v0.6h-0.7zM3.5 7.8h0.7v0.6h-0.7zM3.5 9h0.7v0.6h-0.7zM3.5 9.6h0.7v0.6h-0.7zM3.5 10.2h0.7v0.6h-0.7zM3.5 18.6h0.7v0.6h-0.7zM3.5 19.2h0.7v0.6h-0.7zM3.5 19.8h0.7v0.6h-0.7zM3.5 20.4h0.7v0.6h-0.7zM3.5 22.2h0.7v0.6h-0.7zM3.5 22.8h0.7v0.6h-0.7zM4.2 19.2h0.7v0.6h-0.7zM6.3 10.8h0.7v0.6h-0.7zM7 4.2h0.7v0.6h-0.7zM7 12h0.7v0.6h-0.7zM7 13.8h0.7v0.6h-0.7zM7 15h0.7v0.6h-0.7zM7 22.8h0.7v0.6h-0.7zM7.7 2.4h0.7v0.6h-0.7zM7.7 3h0.7v0.6h-0.7zM7.7 6.6h0.7v0.6h-0.7zM7.7 10.8h0.7v0.6h-0.7zM9.1 1.8h0.7v0.6h-0.7zM9.1 2.4h0.7v0.6h-0.7zM9.1 9h0.7v0.6h-0.7zM9.1 9.6h0.7v0.6h-0.7zM9.1 10.8h0.7v0.6h-0.7zM9.1 11.4h0.7v0.6h-0.7zM9.1 17.4h0.7v0.6h-0.7zM9.1 21.6h0.7v0.6h-0.7zM9.1 22.8h0.7v0.6h-0.7zM9.8 3h0.7v0.6h-0.7zM9.8 9.6h0.7v0.6h-0.7zM9.8 10.2h0.7v0.6h-0.7zM9.8 11.4h0.7v0.6h-0.7zM9.8 14.4h0.7v0.6h-0.7zM9.8 16.2h0.7v0.6h-0.7zM9.8 21h0.7v0.6h-0.7zM11.9 1.2h0.7v0.6h-0.7zM11.9 4.2h0.7v0.6h-0.7zM11.9 8.4h0.7v0.6h-0.7zM11.9 11.4h0.7v0.6h-0.7zM11.9 18h0.7v0.6h-0.7zM11.9 20.4h0.7v0.6h-0.7zM13.3 4.2h0.7v0.6h-0.7zM13.3 4.8h0.7v0.6h-0.7zM13.3 9h0.7v0.6h-0.7zM13.3 11.4h0.7v0.6h-0.7zM13.3 18.6h0.7v0.6h-0.7zM13.3 22.2h0.7v0.6h-0.7zM14 0h0.7v0.6h-0.7zM14 2.4h0.7v0.6h-0.7zM14 3.6h0.7v0.6h-0.7zM14 7.2h0.7v0.6h-0.7zM14 8.4h0.7v0.6h-0.7zM14 9.6h0.7v0.6h-0.7zM14 14.4h0.7v0.6h-0.7zM14 15.6h0.7v0.6h-0.7zM14 16.8h0.7v0.6h-0.7zM14 18h0.7v0.6h-0.7zM14 19.2h0.7v0.6h-0.7zM14 22.2h0.7v0.6h-0.7zM14.7 3h0.7v0.6h-0.7zM14.7 3.6h0.7v0.6h-0.7zM14.7 4.2h0.7v0.6h-0.7zM14.7 5.4h0.7v0.6h-0.7zM14.7 6.6h0.7v0.6h-0.7zM14.7 10.2h0.7v0.6h-0.7zM14.7 12.6h0.7v0.6h-0.7zM14.7 16.8h0.7v0.6h-0.7zM14.7 17.4h0.7v0.6h-0.7zM14.7 18.6h0.7v0.6h-0.7zM14.7 19.8h0.7v0.6h-0.7zM14.7 21h0.7v0.6h-0.7zM15.4 1.2h0.7v0.6h-0.7zM15.4 2.4h0.7v0.6h-0.7zM15.4 8.4h0.7v0.6h-0.7zM15.4 9.6h0.7v0.6h-0.7zM15.4 13.8h0.7v0.6h-0.7zM15.4 14.4h0.7v0.6h-0.7zM15.4 16.8h0.7v0.6h-0.7zM15.4 18.6h0.7v0.6h-0.7zM15.4 22.2h0.7v0.6h-0.7zM16.1 2.4h0.7v0.6h-0.7zM16.1 4.8h0.7v0.6h-0.7zM16.1 7.2h0.7v0.6h-0.7zM16.1 12h0.7v0.6h-0.7zM16.1 14.4h0.7v0.6h-0.7zM16.1 21h0.7v0.6h-0.7zM16.8 3.6h0.7v0.6h-0.7zM16.8 4.2h0.7v0.6h-0.7zM16.8 5.4h0.7v0.6h-0.7zM16.8 12.6h0.7v0.6h-0.7zM16.8 21h0.7v0.6h-0.7zM17.5 0h0.7v0.6h-0.7zM17.5 1.8h0.7v0.6h-0.7zM17.5 3h0.7v0.6h-0.7zM17.5 4.2h0.7v0.6h-0.7zM17.5 6h0.7v0.6h-0.7zM17.5 8.4h0.7v0.6h-0.7zM17.5 9h0.7v0.6h-0.7zM17.5 15h0.7v0.6h-0.7zM17.5 17.4h0.7v0.6h-0.7zM17.5 18.6h0.7v0.6h-0.7zM17.5 20.4h0.7v0.6h-0.7zM17.5 21h0.7v0.6h-0.7zM18.9 3.6h0.7v0.6h-0.7zM18.9 6.6h0.7v0.6h-0.7zM18.9 7.8h0.7v0.6h-0.7zM18.9 12.6h0.7v0.6h-0.7zM18.9 22.2h0.7v0.6h-0.7zM18.9 23.4h0.7v0.6h-0.7zM19.6 0.6h0.7v0.6h-0.7zM19.6 1.2h0.7v0.6h-0.7zM19.6 1.8h0.7v0.6h-0.7zM19.6 3h0.7v0.6h-0.7zM19.6 5.4h0.7v0.6h-0.7zM19.6 6h0.7v0.6h-0.7zM19.6 6.6h0.7v0.6h-0.7zM19.6 7.8h0.7v0.6h-0.7zM19.6 9h0.7v0.6h-0.7zM19.6 9.6h0.7v0.6h-0.7zM19.6 10.2h0.7v0.6h-0.7zM19.6 10.8h0.7v0.6h-0.7zM19.6 12h0.7v0.6h-0.7zM19.6 13.8h0.7v0.6h-0.7zM19.6 15.6h0.7v0.6h-0.7zM19.6 16.2h0.7v0.6h-0.7zM19.6 16.8h0.7v0.6h-0.7zM19.6 19.8h0.7v0.6h-0.7zM19.6 20.4h0.7v0.6h-0.7zM19.6 21.6h0.7v0.6h-0.7zM19.6 22.2h0.7v0.6h-0.7zM20.3 8.4h0.7v0.6h-0.7zM20.3 10.2h0.7v0.6h-0.7zM21 0h0.7v0.6h-0.7zM21 2.4h0.7v0.6h-0.7zM21 5.4h0.7v0.6h-0.7zM21 8.4h0.7v0.6h-0.7zM21 9h0.7v0.6h-0.7zM21 19.8h0.7v0.6h-0.7zM21 21h0.7v0.6h-0.7zM21 22.8h0.7v0.6h-0.7zM23.8 19.2h0.7v0.6h-0.7zM24.5 8.4h0.7v0.6h-0.7zM24.5 15.6h0.7v0.6h-0.7zM25.9 0.6h0.7v0.6h-0.7zM25.9 3h0.7v0.6h-0.7zM25.9 4.2h0.7v0.6h-0.7zM25.9 8.4h0.7v0.6h-0.7zM25.9 10.2h0.7v0.6h-0.7zM25.9 10.8h0.7v0.6h-0.7zM25.9 15.6h0.7v0.6h-0.7zM25.9 16.2h0.7v0.6h-0.7zM25.9 19.8h0.7v0.6h-0.7zM25.9 20.4h0.7v0.6h-0.7zM26.6 4.2h0.7v0.6h-0.7zM26.6 4.8h0.7v0.6h-0.7zM26.6 6.6h0.7v0.6h-0.7zM26.6 15h0.7v0.6h-0.7zM26.6 16.2h0.7v0.6h-0.7zM26.6 18.6h0.7v0.6h-0.7zM26.6 21h0.7v0.6h-0.7zM26.6 23.4h0.7v0.6h-0.7z" fill="#a6d8da"/></pattern>
<pattern id="pr" width="28" height="24" patternUnits="userSpaceOnUse"><rect width="28" height="24" fill="#fcf6f7"/><path d="M0 1.2h0.7v0.6h-0.7zM0 3.6h0.7v0.6h-0.7zM0 5.4h0.7v0.6h-0.7zM0 7.2h0.7v0.6h-0.7zM0 9h0.7v0.6h-0.7zM0 9.6h0.7v0.6h-0.7zM0 13.2h0.7v0.6h-0.7zM0 13.8h0.7v0.6h-0.7zM0 16.8h0.7v0.6h-0.7zM0 18h0.7v0.6h-0.7zM0 21h0.7v0.6h-0.7zM0 21.6h0.7v0.6h-0.7zM0 22.8h0.7v0.6h-0.7zM0 23.4h0.7v0.6h-0.7zM0.7 1.8h0.7v0.6h-0.7zM0.7 3h0.7v0.6h-0.7zM0.7 4.2h0.7v0.6h-0.7zM0.7 6.6h0.7v0.6h-0.7zM0.7 7.8h0.7v0.6h-0.7zM0.7 9h0.7v0.6h-0.7zM0.7 9.6h0.7v0.6h-0.7zM0.7 10.2h0.7v0.6h-0.7zM0.7 10.8h0.7v0.6h-0.7zM0.7 13.2h0.7v0.6h-0.7zM0.7 13.8h0.7v0.6h-0.7zM0.7 14.4h0.7v0.6h-0.7zM0.7 16.8h0.7v0.6h-0.7zM0.7 17.4h0.7v0.6h-0.7zM0.7 18.6h0.7v0.6h-0.7zM0.7 21h0.7v0.6h-0.7zM0.7 22.2h0.7v0.6h-0.7zM0.7 22.8h0.7v0.6h-0.7zM1.4 3.6h0.7v0.6h-0.7zM1.4 4.8h0.7v0.6h-0.7zM1.4 5.4h0.7v0.6h-0.7zM1.4 8.4h0.7v0.6h-0.7zM1.4 9h0.7v0.6h-0.7zM1.4 10.8h0.7v0.6h-0.7zM1.4 12h0.7v0.6h-0.7zM1.4 13.2h0.7v0.6h-0.7zM1.4 13.8h0.7v0.6h-0.7zM1.4 14.4h0.7v0.6h-0.7zM1.4 16.8h0.7v0.6h-0.7zM1.4 18h0.7v0.6h-0.7zM1.4 19.2h0.7v0.6h-0.7zM1.4 21h0.7v0.6h-0.7zM1.4 23.4h0.7v0.6h-0.7zM2.1 5.4h0.7v0.6h-0.7zM2.1 7.8h0.7v0.6h-0.7zM2.1 9h0.7v0.6h-0.7zM2.1 12h0.7v0.6h-0.7zM2.1 12.6h0.7v0.6h-0.7zM2.1 15h0.7v0.6h-0.7zM2.1 15.6h0.7v0.6h-0.7zM2.1 17.4h0.7v0.6h-0.7zM2.1 18.6h0.7v0.6h-0.7zM2.1 20.4h0.7v0.6h-0.7zM2.1 21.6h0.7v0.6h-0.7zM2.1 22.8h0.7v0.6h-0.7zM2.1 23.4h0.7v0.6h-0.7zM2.8 0h0.7v0.6h-0.7zM2.8 1.2h0.7v0.6h-0.7zM2.8 1.8h0.7v0.6h-0.7zM2.8 2.4h0.7v0.6h-0.7zM2.8 6h0.7v0.6h-0.7zM2.8 7.2h0.7v0.6h-0.7zM2.8 8.4h0.7v0.6h-0.7zM2.8 9h0.7v0.6h-0.7zM2.8 10.2h0.7v0.6h-0.7zM2.8 10.8h0.7v0.6h-0.7zM2.8 11.4h0.7v0.6h-0.7zM2.8 13.2h0.7v0.6h-0.7zM2.8 15.6h0.7v0.6h-0.7zM2.8 18.6h0.7v0.6h-0.7zM2.8 21h0.7v0.6h-0.7zM2.8 21.6h0.7v0.6h-0.7zM2.8 22.2h0.7v0.6h-0.7zM2.8 23.4h0.7v0.6h-0.7zM3.5 0.6h0.7v0.6h-0.7zM3.5 1.2h0.7v0.6h-0.7zM3.5 1.8h0.7v0.6h-0.7zM3.5 3.6h0.7v0.6h-0.7zM3.5 6h0.7v0.6h-0.7zM3.5 8.4h0.7v0.6h-0.7zM3.5 9.6h0.7v0.6h-0.7zM3.5 10.8h0.7v0.6h-0.7zM3.5 12h0.7v0.6h-0.7zM3.5 12.6h0.7v0.6h-0.7zM3.5 14.4h0.7v0.6h-0.7zM3.5 15h0.7v0.6h-0.7zM3.5 15.6h0.7v0.6h-0.7zM3.5 17.4h0.7v0.6h-0.7zM3.5 18h0.7v0.6h-0.7zM3.5 18.6h0.7v0.6h-0.7zM3.5 19.2h0.7v0.6h-0.7zM3.5 19.8h0.7v0.6h-0.7zM3.5 21h0.7v0.6h-0.7zM3.5 22.2h0.7v0.6h-0.7zM4.2 7.2h0.7v0.6h-0.7zM4.2 12h0.7v0.6h-0.7zM4.2 13.8h0.7v0.6h-0.7zM4.2 16.8h0.7v0.6h-0.7zM4.2 21h0.7v0.6h-0.7zM4.2 23.4h0.7v0.6h-0.7zM4.9 8.4h0.7v0.6h-0.7zM4.9 9h0.7v0.6h-0.7zM4.9 9.6h0.7v0.6h-0.7zM4.9 10.2h0.7v0.6h-0.7zM4.9 11.4h0.7v0.6h-0.7zM4.9 12.6h0.7v0.6h-0.7zM4.9 13.8h0.7v0.6h-0.7zM4.9 15h0.7v0.6h-0.7zM4.9 15.6h0.7v0.6h-0.7zM4.9 16.2h0.7v0.6h-0.7zM4.9 18.6h0.7v0.6h-0.7zM4.9 19.2h0.7v0.6h-0.7zM4.9 20.4h0.7v0.6h-0.7zM4.9 22.8h0.7v0.6h-0.7zM5.6 0h0.7v0.6h-0.7zM5.6 1.2h0.7v0.6h-0.7zM5.6 2.4h0.7v0.6h-0.7zM5.6 3.6h0.7v0.6h-0.7zM5.6 4.8h0.7v0.6h-0.7zM5.6 5.4h0.7v0.6h-0.7zM5.6 6.6h0.7v0.6h-0.7zM5.6 7.2h0.7v0.6h-0.7zM5.6 7.8h0.7v0.6h-0.7zM5.6 9h0.7v0.6h-0.7zM5.6 12h0.7v0.6h-0.7zM5.6 12.6h0.7v0.6h-0.7zM5.6 14.4h0.7v0.6h-0.7zM5.6 15h0.7v0.6h-0.7zM5.6 16.2h0.7v0.6h-0.7zM5.6 16.8h0.7v0.6h-0.7zM5.6 17.4h0.7v0.6h-0.7zM5.6 18.6h0.7v0.6h-0.7zM5.6 19.8h0.7v0.6h-0.7zM5.6 20.4h0.7v0.6h-0.7zM5.6 21.6h0.7v0.6h-0.7zM5.6 22.8h0.7v0.6h-0.7zM6.3 1.2h0.7v0.6h-0.7zM6.3 3h0.7v0.6h-0.7zM6.3 7.2h0.7v0.6h-0.7zM6.3 10.2h0.7v0.6h-0.7zM6.3 12.6h0.7v0.6h-0.7zM6.3 15.6h0.7v0.6h-0.7zM6.3 16.8h0.7v0.6h-0.7zM6.3 17.4h0.7v0.6h-0.7zM6.3 19.8h0.7v0.6h-0.7zM6.3 21.6h0.7v0.6h-0.7zM7.7 1.2h0.7v0.6h-0.7zM7.7 3.6h0.7v0.6h-0.7zM7.7 4.8h0.7v0.6h-0.7zM7.7 5.4h0.7v0.6h-0.7zM7.7 6h0.7v0.6h-0.7zM7.7 9h0.7v0.6h-0.7zM7.7 11.4h0.7v0.6h-0.7zM7.7 16.8h0.7v0.6h-0.7zM7.7 18h0.7v0.6h-0.7zM7.7 23.4h0.7v0.6h-0.7zM8.4 0.6h0.7v0.6h-0.7zM8.4 1.8h0.7v0.6h-0.7zM8.4 3h0.7v0.6h-0.7zM8.4 3.6h0.7v0.6h-0.7zM8.4 4.8h0.7v0.6h-0.7zM8.4 6.6h0.7v0.6h-0.7zM8.4 7.2h0.7v0.6h-0.7zM8.4 7.8h0.7v0.6h-0.7zM8.4 8.4h0.7v0.6h-0.7zM8.4 9.6h0.7v0.6h-0.7zM8.4 10.8h0.7v0.6h-0.7zM8.4 11.4h0.7v0.6h-0.7zM8.4 12h0.7v0.6h-0.7zM8.4 12.6h0.7v0.6h-0.7zM8.4 13.8h0.7v0.6h-0.7zM8.4 15.6h0.7v0.6h-0.7zM8.4 17.4h0.7v0.6h-0.7zM8.4 19.2h0.7v0.6h-0.7zM8.4 19.8h0.7v0.6h-0.7zM8.4 22.2h0.7v0.6h-0.7zM9.1 0h0.7v0.6h-0.7zM9.1 0.6h0.7v0.6h-0.7zM9.1 2.4h0.7v0.6h-0.7zM9.1 4.2h0.7v0.6h-0.7zM9.1 4.8h0.7v0.6h-0.7zM9.1 5.4h0.7v0.6h-0.7zM9.1 8.4h0.7v0.6h-0.7zM9.1 9h0.7v0.6h-0.7zM9.1 10.8h0.7v0.6h-0.7zM9.1 11.4h0.7v0.6h-0.7zM9.1 13.2h0.7v0.6h-0.7zM9.1 13.8h0.7v0.6h-0.7zM9.1 14.4h0.7v0.6h-0.7zM9.1 16.2h0.7v0.6h-0.7zM9.1 18h0.7v0.6h-0.7zM9.1 19.2h0.7v0.6h-0.7zM9.1 21h0.7v0.6h-0.7zM9.1 22.8h0.7v0.6h-0.7zM9.8 0h0.7v0.6h-0.7zM9.8 1.2h0.7v0.6h-0.7zM9.8 3h0.7v0.6h-0.7zM9.8 3.6h0.7v0.6h-0.7zM9.8 6.6h0.7v0.6h-0.7zM9.8 7.2h0.7v0.6h-0.7zM9.8 8.4h0.7v0.6h-0.7zM9.8 10.8h0.7v0.6h-0.7zM9.8 18h0.7v0.6h-0.7zM9.8 18.6h0.7v0.6h-0.7zM9.8 19.2h0.7v0.6h-0.7zM9.8 20.4h0.7v0.6h-0.7zM9.8 22.2h0.7v0.6h-0.7zM10.5 1.2h0.7v0.6h-0.7zM10.5 1.8h0.7v0.6h-0.7zM10.5 4.2h0.7v0.6h-0.7zM10.5 4.8h0.7v0.6h-0.7zM10.5 7.8h0.7v0.6h-0.7zM10.5 8.4h0.7v0.6h-0.7zM10.5 12.6h0.7v0.6h-0.7zM10.5 13.8h0.7v0.6h-0.7zM10.5 16.8h0.7v0.6h-0.7zM10.5 19.2h0.7v0.6h-0.7zM10.5 21h0.7v0.6h-0.7zM11.2 4.2h0.7v0.6h-0.7zM11.2 7.8h0.7v0.6h-0.7zM11.2 8.4h0.7v0.6h-0.7zM11.2 9h0.7v0.6h-0.7zM11.2 12.6h0.7v0.6h-0.7zM11.2 13.2h0.7v0.6h-0.7zM11.2 16.2h0.7v0.6h-0.7zM11.2 17.4h0.7v0.6h-0.7zM11.2 19.8h0.7v0.6h-0.7zM11.2 22.2h0.7v0.6h-0.7zM11.9 0h0.7v0.6h-0.7zM11.9 1.2h0.7v0.6h-0.7zM11.9 5.4h0.7v0.6h-0.7zM11.9 6h0.7v0.6h-0.7zM11.9 6.6h0.7v0.6h-0.7zM11.9 7.8h0.7v0.6h-0.7zM11.9 8.4h0.7v0.6h-0.7zM11.9 10.2h0.7v0.6h-0.7zM11.9 12h0.7v0.6h-0.7zM11.9 12.6h0.7v0.6h-0.7zM11.9 13.2h0.7v0.6h-0.7zM11.9 15.6h0.7v0.6h-0.7zM11.9 16.8h0.7v0.6h-0.7zM11.9 18h0.7v0.6h-0.7zM11.9 18.6h0.7v0.6h-0.7zM11.9 19.2h0.7v0.6h-0.7zM11.9 19.8h0.7v0.6h-0.7zM11.9 22.2h0.7v0.6h-0.7zM12.6 2.4h0.7v0.6h-0.7zM12.6 3.6h0.7v0.6h-0.7zM12.6 4.2h0.7v0.6h-0.7zM12.6 7.2h0.7v0.6h-0.7zM12.6 7.8h0.7v0.6h-0.7zM12.6 12h0.7v0.6h-0.7zM12.6 13.2h0.7v0.6h-0.7zM12.6 14.4h0.7v0.6h-0.7zM12.6 15.6h0.7v0.6h-0.7zM12.6 16.2h0.7v0.6h-0.7zM12.6 17.4h0.7v0.6h-0.7zM13.3 0h0.7v0.6h-0.7zM13.3 2.4h0.7v0.6h-0.7zM13.3 3h0.7v0.6h-0.7zM13.3 4.8h0.7v0.6h-0.7zM13.3 5.4h0.7v0.6h-0.7zM13.3 8.4h0.7v0.6h-0.7zM13.3 9h0.7v0.6h-0.7zM13.3 10.8h0.7v0.6h-0.7zM13.3 11.4h0.7v0.6h-0.7zM13.3 14.4h0.7v0.6h-0.7zM13.3 16.8h0.7v0.6h-0.7zM13.3 18h0.7v0.6h-0.7zM13.3 18.6h0.7v0.6h-0.7zM13.3 21h0.7v0.6h-0.7zM14 0h0.7v0.6h-0.7zM14 4.2h0.7v0.6h-0.7zM14 9h0.7v0.6h-0.7zM14 10.8h0.7v0.6h-0.7zM14 13.2h0.7v0.6h-0.7zM14 15h0.7v0.6h-0.7zM14 16.2h0.7v0.6h-0.7zM14 16.8h0.7v0.6h-0.7zM14 22.2h0.7v0.6h-0.7zM14 23.4h0.7v0.6h-0.7zM14.7 1.2h0.7v0.6h-0.7zM14.7 1.8h0.7v0.6h-0.7zM14.7 5.4h0.7v0.6h-0.7zM14.7 9h0.7v0.6h-0.7zM14.7 10.2h0.7v0.6h-0.7zM14.7 15.6h0.7v0.6h-0.7zM14.7 17.4h0.7v0.6h-0.7zM14.7 21h0.7v0.6h-0.7zM15.4 0.6h0.7v0.6h-0.7zM15.4 1.2h0.7v0.6h-0.7zM15.4 2.4h0.7v0.6h-0.7zM15.4 4.2h0.7v0.6h-0.7zM15.4 4.8h0.7v0.6h-0.7zM15.4 6h0.7v0.6h-0.7zM15.4 8.4h0.7v0.6h-0.7zM15.4 10.8h0.7v0.6h-0.7zM15.4 14.4h0.7v0.6h-0.7zM15.4 17.4h0.7v0.6h-0.7zM15.4 18h0.7v0.6h-0.7zM15.4 19.2h0.7v0.6h-0.7zM15.4 19.8h0.7v0.6h-0.7zM15.4 20.4h0.7v0.6h-0.7zM15.4 21.6h0.7v0.6h-0.7zM15.4 23.4h0.7v0.6h-0.7zM16.1 0.6h0.7v0.6h-0.7zM16.1 3.6h0.7v0.6h-0.7zM16.1 4.8h0.7v0.6h-0.7zM16.1 6h0.7v0.6h-0.7zM16.1 9h0.7v0.6h-0.7zM16.1 12h0.7v0.6h-0.7zM16.1 12.6h0.7v0.6h-0.7zM16.1 19.8h0.7v0.6h-0.7zM16.1 20.4h0.7v0.6h-0.7zM16.8 0h0.7v0.6h-0.7zM16.8 1.2h0.7v0.6h-0.7zM16.8 4.8h0.7v0.6h-0.7zM16.8 6h0.7v0.6h-0.7zM16.8 6.6h0.7v0.6h-0.7zM16.8 7.8h0.7v0.6h-0.7zM16.8 9.6h0.7v0.6h-0.7zM16.8 10.8h0.7v0.6h-0.7zM16.8 11.4h0.7v0.6h-0.7zM16.8 12.6h0.7v0.6h-0.7zM16.8 13.2h0.7v0.6h-0.7zM16.8 13.8h0.7v0.6h-0.7zM16.8 14.4h0.7v0.6h-0.7zM16.8 16.8h0.7v0.6h-0.7zM16.8 18h0.7v0.6h-0.7zM16.8 19.2h0.7v0.6h-0.7zM16.8 19.8h0.7v0.6h-0.7zM16.8 21h0.7v0.6h-0.7zM16.8 21.6h0.7v0.6h-0.7zM16.8 22.8h0.7v0.6h-0.7zM16.8 23.4h0.7v0.6h-0.7zM17.5 1.2h0.7v0.6h-0.7zM17.5 3h0.7v0.6h-0.7zM17.5 5.4h0.7v0.6h-0.7zM17.5 6.6h0.7v0.6h-0.7zM17.5 12.6h0.7v0.6h-0.7zM17.5 13.2h0.7v0.6h-0.7zM17.5 13.8h0.7v0.6h-0.7zM17.5 18.6h0.7v0.6h-0.7zM18.2 3h0.7v0.6h-0.7zM18.2 7.2h0.7v0.6h-0.7zM18.2 9.6h0.7v0.6h-0.7zM18.2 11.4h0.7v0.6h-0.7zM18.2 12h0.7v0.6h-0.7zM18.2 15.6h0.7v0.6h-0.7zM18.2 19.8h0.7v0.6h-0.7zM18.2 22.8h0.7v0.6h-0.7zM18.2 23.4h0.7v0.6h-0.7zM18.9 0h0.7v0.6h-0.7zM18.9 0.6h0.7v0.6h-0.7zM18.9 5.4h0.7v0.6h-0.7zM18.9 6h0.7v0.6h-0.7zM18.9 6.6h0.7v0.6h-0.7zM18.9 7.2h0.7v0.6h-0.7zM18.9 8.4h0.7v0.6h-0.7zM18.9 10.8h0.7v0.6h-0.7zM18.9 11.4h0.7v0.6h-0.7zM18.9 15h0.7v0.6h-0.7zM18.9 15.6h0.7v0.6h-0.7zM18.9 17.4h0.7v0.6h-0.7zM18.9 18.6h0.7v0.6h-0.7zM18.9 22.8h0.7v0.6h-0.7zM19.6 7.2h0.7v0.6h-0.7zM20.3 6h0.7v0.6h-0.7zM20.3 8.4h0.7v0.6h-0.7zM20.3 12h0.7v0.6h-0.7zM20.3 18.6h0.7v0.6h-0.7zM21 3.6h0.7v0.6h-0.7zM21 4.2h0.7v0.6h-0.7zM21 4.8h0.7v0.6h-0.7zM21 5.4h0.7v0.6h-0.7zM21 6h0.7v0.6h-0.7zM21 6.6h0.7v0.6h-0.7zM21 7.2h0.7v0.6h-0.7zM21 9.6h0.7v0.6h-0.7zM21 12.6h0.7v0.6h-0.7zM21 15.6h0.7v0.6h-0.7zM21 16.2h0.7v0.6h-0.7zM21 16.8h0.7v0.6h-0.7zM21 19.2h0.7v0.6h-0.7zM21 21h0.7v0.6h-0.7zM21 22.2h0.7v0.6h-0.7zM21 22.8h0.7v0.6h-0.7zM21 23.4h0.7v0.6h-0.7zM22.4 0h0.7v0.6h-0.7zM22.4 9h0.7v0.6h-0.7zM22.4 15.6h0.7v0.6h-0.7zM22.4 16.2h0.7v0.6h-0.7zM22.4 16.8h0.7v0.6h-0.7zM22.4 17.4h0.7v0.6h-0.7zM22.4 22.2h0.7v0.6h-0.7zM23.1 0.6h0.7v0.6h-0.7zM23.1 3.6h0.7v0.6h-0.7zM23.1 5.4h0.7v0.6h-0.7zM23.1 6.6h0.7v0.6h-0.7zM23.1 7.8h0.7v0.6h-0.7zM23.1 9h0.7v0.6h-0.7zM23.1 13.2h0.7v0.6h-0.7zM23.1 21h0.7v0.6h-0.7zM23.8 1.8h0.7v0.6h-0.7zM23.8 4.2h0.7v0.6h-0.7zM23.8 5.4h0.7v0.6h-0.7zM23.8 6h0.7v0.6h-0.7zM23.8 6.6h0.7v0.6h-0.7zM23.8 8.4h0.7v0.6h-0.7zM23.8 10.8h0.7v0.6h-0.7zM23.8 12.6h0.7v0.6h-0.7zM23.8 13.8h0.7v0.6h-0.7zM23.8 16.8h0.7v0.6h-0.7zM23.8 18h0.7v0.6h-0.7zM23.8 22.2h0.7v0.6h-0.7zM23.8 23.4h0.7v0.6h-0.7zM24.5 0h0.7v0.6h-0.7zM24.5 5.4h0.7v0.6h-0.7zM24.5 7.2h0.7v0.6h-0.7zM24.5 9h0.7v0.6h-0.7zM24.5 9.6h0.7v0.6h-0.7zM24.5 11.4h0.7v0.6h-0.7zM24.5 12h0.7v0.6h-0.7zM24.5 13.2h0.7v0.6h-0.7zM24.5 14.4h0.7v0.6h-0.7zM24.5 22.2h0.7v0.6h-0.7zM24.5 23.4h0.7v0.6h-0.7zM25.2 1.8h0.7v0.6h-0.7zM25.2 3.6h0.7v0.6h-0.7zM25.2 4.8h0.7v0.6h-0.7zM25.2 6h0.7v0.6h-0.7zM25.2 10.8h0.7v0.6h-0.7zM25.2 12h0.7v0.6h-0.7zM25.2 12.6h0.7v0.6h-0.7zM25.2 13.8h0.7v0.6h-0.7zM25.2 15.6h0.7v0.6h-0.7zM25.2 21h0.7v0.6h-0.7zM25.2 22.2h0.7v0.6h-0.7zM25.9 0h0.7v0.6h-0.7zM25.9 0.6h0.7v0.6h-0.7zM25.9 3.6h0.7v0.6h-0.7zM25.9 5.4h0.7v0.6h-0.7zM25.9 6h0.7v0.6h-0.7zM25.9 8.4h0.7v0.6h-0.7zM25.9 9.6h0.7v0.6h-0.7zM25.9 10.8h0.7v0.6h-0.7zM25.9 15h0.7v0.6h-0.7zM25.9 18h0.7v0.6h-0.7zM25.9 19.2h0.7v0.6h-0.7zM25.9 21h0.7v0.6h-0.7zM25.9 21.6h0.7v0.6h-0.7zM25.9 23.4h0.7v0.6h-0.7zM26.6 3h0.7v0.6h-0.7zM26.6 3.6h0.7v0.6h-0.7zM26.6 6.6h0.7v0.6h-0.7zM26.6 10.8h0.7v0.6h-0.7zM26.6 12h0.7v0.6h-0.7zM26.6 13.2h0.7v0.6h-0.7zM26.6 14.4h0.7v0.6h-0.7zM26.6 15h0.7v0.6h-0.7zM26.6 16.8h0.7v0.6h-0.7zM26.6 17.4h0.7v0.6h-0.7zM26.6 18.6h0.7v0.6h-0.7zM26.6 19.2h0.7v0.6h-0.7zM26.6 22.2h0.7v0.6h-0.7zM27.3 1.8h0.7v0.6h-0.7zM27.3 2.4h0.7v0.6h-0.7zM27.3 7.8h0.7v0.6h-0.7zM27.3 12.6h0.7v0.6h-0.7zM27.3 13.8h0.7v0.6h-0.7zM27.3 14.4h0.7v0.6h-0.7zM27.3 16.8h0.7v0.6h-0.7zM27.3 21h0.7v0.6h-0.7zM27.3 23.4h0.7v0.6h-0.7z" fill="#e27e8c"/><path d="M0 2.4h0.7v0.6h-0.7zM0 4.2h0.7v0.6h-0.7zM0 6.6h0.7v0.6h-0.7zM0 10.2h0.7v0.6h-0.7zM0.7 5.4h0.7v0.6h-0.7zM2.1 0.6h0.7v0.6h-0.7zM2.1 4.8h0.7v0.6h-0.7zM2.1 6.6h0.7v0.6h-0.7zM2.1 16.8h0.7v0.6h-0.7zM2.1 19.2h0.7v0.6h-0.7zM2.1 21h0.7v0.6h-0.7zM2.8 12.6h0.7v0.6h-0.7zM3.5 4.8h0.7v0.6h-0.7zM4.2 0.6h0.7v0.6h-0.7zM4.2 1.2h0.7v0.6h-0.7zM4.2 4.2h0.7v0.6h-0.7zM4.2 6h0.7v0.6h-0.7zM4.2 8.4h0.7v0.6h-0.7zM4.2 17.4h0.7v0.6h-0.7zM4.2 18.6h0.7v0.6h-0.7zM4.2 22.8h0.7v0.6h-0.7zM4.9 0.6h0.7v0.6h-0.7zM6.3 2.4h0.7v0.6h-0.7zM6.3 4.2h0.7v0.6h-0.7zM6.3 5.4h0.7v0.6h-0.7zM6.3 7.8h0.7v0.6h-0.7zM6.3 10.8h0.7v0.6h-0.7zM6.3 14.4h0.7v0.6h-0.7zM6.3 19.2h0.7v0.6h-0.7zM7 0h0.7v0.6h-0.7zM7 1.2h0.7v0.6h-0.7zM7 3.6h0.7v0.6h-0.7zM7 5.4h0.7v0.6h-0.7zM7 6h0.7v0.6h-0.7zM7 6.6h0.7v0.6h-0.7zM7 7.2h0.7v0.6h-0.7zM7 8.4h0.7v0.6h-0.7zM7 9h0.7v0.6h-0.7zM7 10.2h0.7v0.6h-0.7zM7 12.6h0.7v0.6h-0.7zM7 13.8h0.7v0.6h-0.7zM7 17.4h0.7v0.6h-0.7zM7 18.6h0.7v0.6h-0.7zM7 19.2h0.7v0.6h-0.7zM7 19.8h0.7v0.6h-0.7zM7 23.4h0.7v0.6h-0.7zM7.7 3h0.7v0.6h-0.7zM7.7 4.2h0.7v0.6h-0.7zM7.7 6.6h0.7v0.6h-0.7zM7.7 7.2h0.7v0.6h-0.7zM7.7 21.6h0.7v0.6h-0.7zM7.7 22.2h0.7v0.6h-0.7zM8.4 5.4h0.7v0.6h-0.7zM8.4 16.2h0.7v0.6h-0.7zM8.4 20.4h0.7v0.6h-0.7zM9.1 6.6h0.7v0.6h-0.7zM9.1 9.6h0.7v0.6h-0.7zM9.8 4.2h0.7v0.6h-0.7zM9.8 4.8h0.7v0.6h-0.7zM9.8 6h0.7v0.6h-0.7zM9.8 11.4h0.7v0.6h-0.7zM9.8 13.8h0.7v0.6h-0.7zM9.8 16.2h0.7v0.6h-0.7zM9.8 17.4h0.7v0.6h-0.7zM9.8 21.6h0.7v0.6h-0.7zM9.8 23.4h0.7v0.6h-0.7zM10.5 12h0.7v0.6h-0.7zM10.5 22.8h0.7v0.6h-0.7zM11.2 1.2h0.7v0.6h-0.7zM11.2 4.8h0.7v0.6h-0.7zM11.2 10.8h0.7v0.6h-0.7zM11.2 11.4h0.7v0.6h-0.7zM11.2 12h0.7v0.6h-0.7zM11.2 16.8h0.7v0.6h-0.7zM11.2 22.8h0.7v0.6h-0.7zM11.2 23.4h0.7v0.6h-0.7zM12.6 0.6h0.7v0.6h-0.7zM12.6 9.6h0.7v0.6h-0.7zM12.6 10.2h0.7v0.6h-0.7zM12.6 19.8h0.7v0.6h-0.7zM12.6 21.6h0.7v0.6h-0.7zM13.3 13.8h0.7v0.6h-0.7zM13.3 15.6h0.7v0.6h-0.7zM13.3 19.2h0.7v0.6h-0.7zM13.3 22.8h0.7v0.6h-0.7zM14 1.2h0.7v0.6h-0.7zM14 2.4h0.7v0.6h-0.7zM14 6h0.7v0.6h-0.7zM14 8.4h0.7v0.6h-0.7zM14 10.2h0.7v0.6h-0.7zM14 20.4h0.7v0.6h-0.7zM14 21h0.7v0.6h-0.7zM14 22.8h0.7v0.6h-0.7zM14.7 7.2h0.7v0.6h-0.7zM14.7 8.4h0.7v0.6h-0.7zM14.7 12h0.7v0.6h-0.7zM14.7 13.8h0.7v0.6h-0.7zM14.7 16.8h0.7v0.6h-0.7zM14.7 18.6h0.7v0.6h-0.7zM16.1 1.8h0.7v0.6h-0.7zM16.1 2.4h0.7v0.6h-0.7zM16.1 5.4h0.7v0.6h-0.7zM16.1 7.8h0.7v0.6h-0.7zM16.1 8.4h0.7v0.6h-0.7zM16.1 9.6h0.7v0.6h-0.7zM16.1 11.4h0.7v0.6h-0.7zM16.1 21.6h0.7v0.6h-0.7zM17.5 0h0.7v0.6h-0.7zM17.5 0.6h0.7v0.6h-0.7zM17.5 2.4h0.7v0.6h-0.7zM17.5 4.8h0.7v0.6h-0.7zM17.5 7.8h0.7v0.6h-0.7zM17.5 9h0.7v0.6h-0.7zM17.5 9.6h0.7v0.6h-0.7zM17.5 11.4h0.7v0.6h-0.7zM17.5 15.6h0.7v0.6h-0.7zM17.5 16.2h0.7v0.6h-0.7zM17.5 16.8h0.7v0.6h-0.7zM17.5 17.4h0.7v0.6h-0.7zM17.5 18h0.7v0.6h-0.7zM17.5 19.8h0.7v0.6h-0.7zM17.5 21h0.7v0.6h-0.7zM17.5 21.6h0.7v0.6h-0.7zM17.5 22.8h0.7v0.6h-0.7zM18.2 4.8h0.7v0.6h-0.7zM18.2 7.8h0.7v0.6h-0.7zM18.2 9h0.7v0.6h-0.7zM18.2 12.6h0.7v0.6h-0.7zM18.2 19.2h0.7v0.6h-0.7zM18.2 21.6h0.7v0.6h-0.7zM18.2 22.2h0.7v0.6h-0.7zM18.9 1.2h0.7v0.6h-0.7zM18.9 2.4h0.7v0.6h-0.7zM18.9 3h0.7v0.6h-0.7zM18.9 4.8h0.7v0.6h-0.7zM18.9 13.8h0.7v0.6h-0.7zM18.9 16.2h0.7v0.6h-0.7zM18.9 19.2h0.7v0.6h-0.7zM18.9 19.8h0.7v0.6h-0.7zM18.9 20.4h0.7v0.6h-0.7zM18.9 21.6h0.7v0.6h-0.7zM18.9 22.2h0.7v0.6h-0.7zM19.6 0.6h0.7v0.6h-0.7zM19.6 1.8h0.7v0.6h-0.7zM19.6 2.4h0.7v0.6h-0.7zM19.6 3h0.7v0.6h-0.7zM19.6 5.4h0.7v0.6h-0.7zM19.6 6.6h0.7v0.6h-0.7zM19.6 7.8h0.7v0.6h-0.7zM19.6 9.6h0.7v0.6h-0.7zM19.6 10.2h0.7v0.6h-0.7zM19.6 10.8h0.7v0.6h-0.7zM19.6 11.4h0.7v0.6h-0.7zM19.6 13.2h0.7v0.6h-0.7zM19.6 14.4h0.7v0.6h-0.7zM19.6 15h0.7v0.6h-0.7zM19.6 15.6h0.7v0.6h-0.7zM19.6 16.2h0.7v0.6h-0.7zM19.6 18.6h0.7v0.6h-0.7zM19.6 19.2h0.7v0.6h-0.7zM19.6 19.8h0.7v0.6h-0.7zM19.6 23.4h0.7v0.6h-0.7zM20.3 1.2h0.7v0.6h-0.7zM20.3 3.6h0.7v0.6h-0.7zM20.3 5.4h0.7v0.6h-0.7zM20.3 9h0.7v0.6h-0.7zM20.3 9.6h0.7v0.6h-0.7zM20.3 13.2h0.7v0.6h-0.7zM20.3 14.4h0.7v0.6h-0.7zM20.3 15h0.7v0.6h-0.7zM20.3 15.6h0.7v0.6h-0.7zM20.3 16.2h0.7v0.6h-0.7zM20.3 16.8h0.7v0.6h-0.7zM20.3 17.4h0.7v0.6h-0.7zM20.3 20.4h0.7v0.6h-0.7zM20.3 22.8h0.7v0.6h-0.7zM21 18h0.7v0.6h-0.7zM21.7 1.8h0.7v0.6h-0.7zM21.7 2.4h0.7v0.6h-0.7zM21.7 3.6h0.7v0.6h-0.7zM21.7 6h0.7v0.6h-0.7zM21.7 7.2h0.7v0.6h-0.7zM21.7 7.8h0.7v0.6h-0.7zM21.7 9h0.7v0.6h-0.7zM21.7 12h0.7v0.6h-0.7zM21.7 12.6h0.7v0.6h-0.7zM21.7 13.2h0.7v0.6h-0.7zM21.7 17.4h0.7v0.6h-0.7zM21.7 19.2h0.7v0.6h-0.7zM21.7 19.8h0.7v0.6h-0.7zM21.7 21h0.7v0.6h-0.7zM22.4 2.4h0.7v0.6h-0.7zM22.4 6.6h0.7v0.6h-0.7zM22.4 12.6h0.7v0.6h-0.7zM23.1 2.4h0.7v0.6h-0.7zM23.1 6h0.7v0.6h-0.7zM23.1 10.2h0.7v0.6h-0.7zM23.1 12h0.7v0.6h-0.7zM23.1 13.8h0.7v0.6h-0.7zM23.1 14.4h0.7v0.6h-0.7zM23.1 15h0.7v0.6h-0.7zM23.1 16.2h0.7v0.6h-0.7zM23.1 23.4h0.7v0.6h-0.7zM23.8 17.4h0.7v0.6h-0.7zM24.5 16.8h0.7v0.6h-0.7zM24.5 17.4h0.7v0.6h-0.7zM25.2 0h0.7v0.6h-0.7zM25.2 2.4h0.7v0.6h-0.7zM25.2 6.6h0.7v0.6h-0.7zM25.2 7.2h0.7v0.6h-0.7zM25.2 10.2h0.7v0.6h-0.7zM25.2 14.4h0.7v0.6h-0.7zM25.2 16.8h0.7v0.6h-0.7zM25.2 19.2h0.7v0.6h-0.7zM25.2 22.8h0.7v0.6h-0.7zM25.2 23.4h0.7v0.6h-0.7zM25.9 2.4h0.7v0.6h-0.7zM25.9 4.2h0.7v0.6h-0.7zM25.9 6.6h0.7v0.6h-0.7zM25.9 7.2h0.7v0.6h-0.7zM25.9 14.4h0.7v0.6h-0.7zM25.9 22.8h0.7v0.6h-0.7zM26.6 0h0.7v0.6h-0.7zM26.6 4.2h0.7v0.6h-0.7zM26.6 5.4h0.7v0.6h-0.7zM26.6 8.4h0.7v0.6h-0.7zM26.6 9.6h0.7v0.6h-0.7zM26.6 11.4h0.7v0.6h-0.7zM26.6 15.6h0.7v0.6h-0.7zM27.3 0.6h0.7v0.6h-0.7zM27.3 4.2h0.7v0.6h-0.7zM27.3 5.4h0.7v0.6h-0.7zM27.3 6.6h0.7v0.6h-0.7zM27.3 10.8h0.7v0.6h-0.7zM27.3 13.2h0.7v0.6h-0.7zM27.3 15h0.7v0.6h-0.7zM27.3 17.4h0.7v0.6h-0.7zM27.3 18.6h0.7v0.6h-0.7zM27.3 19.2h0.7v0.6h-0.7zM27.3 20.4h0.7v0.6h-0.7zM27.3 21.6h0.7v0.6h-0.7z" fill="#a6d8da"/></pattern>
<pattern id="pc" width="28" height="24" patternUnits="userSpaceOnUse"><rect width="28" height="24" fill="#f5fafa"/><path d="M0.7 16.8h0.7v0.6h-0.7zM1.4 10.2h0.7v0.6h-0.7zM1.4 21h0.7v0.6h-0.7zM2.8 1.2h0.7v0.6h-0.7zM2.8 3h0.7v0.6h-0.7zM2.8 4.2h0.7v0.6h-0.7zM2.8 6.6h0.7v0.6h-0.7zM2.8 7.2h0.7v0.6h-0.7zM2.8 9.6h0.7v0.6h-0.7zM2.8 19.8h0.7v0.6h-0.7zM2.8 21h0.7v0.6h-0.7zM2.8 22.2h0.7v0.6h-0.7zM3.5 3.6h0.7v0.6h-0.7zM3.5 4.8h0.7v0.6h-0.7zM3.5 6.6h0.7v0.6h-0.7zM3.5 8.4h0.7v0.6h-0.7zM3.5 12.6h0.7v0.6h-0.7zM3.5 18.6h0.7v0.6h-0.7zM3.5 21h0.7v0.6h-0.7zM3.5 22.8h0.7v0.6h-0.7zM4.2 3h0.7v0.6h-0.7zM4.2 7.2h0.7v0.6h-0.7zM4.9 5.4h0.7v0.6h-0.7zM4.9 6h0.7v0.6h-0.7zM4.9 7.8h0.7v0.6h-0.7zM4.9 13.2h0.7v0.6h-0.7zM4.9 17.4h0.7v0.6h-0.7zM4.9 18h0.7v0.6h-0.7zM4.9 18.6h0.7v0.6h-0.7zM4.9 19.8h0.7v0.6h-0.7zM4.9 20.4h0.7v0.6h-0.7zM4.9 21.6h0.7v0.6h-0.7zM4.9 22.2h0.7v0.6h-0.7zM5.6 1.8h0.7v0.6h-0.7zM5.6 6h0.7v0.6h-0.7zM5.6 7.2h0.7v0.6h-0.7zM5.6 9.6h0.7v0.6h-0.7zM5.6 13.8h0.7v0.6h-0.7zM5.6 15.6h0.7v0.6h-0.7zM5.6 16.2h0.7v0.6h-0.7zM5.6 16.8h0.7v0.6h-0.7zM5.6 17.4h0.7v0.6h-0.7zM5.6 18.6h0.7v0.6h-0.7zM5.6 20.4h0.7v0.6h-0.7zM6.3 1.2h0.7v0.6h-0.7zM7.7 0h0.7v0.6h-0.7zM7.7 0.6h0.7v0.6h-0.7zM7.7 1.2h0.7v0.6h-0.7zM7.7 2.4h0.7v0.6h-0.7zM7.7 4.2h0.7v0.6h-0.7zM7.7 5.4h0.7v0.6h-0.7zM7.7 6.6h0.7v0.6h-0.7zM7.7 10.8h0.7v0.6h-0.7zM7.7 11.4h0.7v0.6h-0.7zM7.7 13.2h0.7v0.6h-0.7zM7.7 15h0.7v0.6h-0.7zM7.7 16.2h0.7v0.6h-0.7zM8.4 0.6h0.7v0.6h-0.7zM8.4 1.2h0.7v0.6h-0.7zM8.4 6.6h0.7v0.6h-0.7zM8.4 7.8h0.7v0.6h-0.7zM8.4 9h0.7v0.6h-0.7zM8.4 9.6h0.7v0.6h-0.7zM8.4 10.2h0.7v0.6h-0.7zM8.4 13.2h0.7v0.6h-0.7zM8.4 13.8h0.7v0.6h-0.7zM8.4 15h0.7v0.6h-0.7zM8.4 15.6h0.7v0.6h-0.7zM8.4 16.2h0.7v0.6h-0.7zM8.4 16.8h0.7v0.6h-0.7zM8.4 18h0.7v0.6h-0.7zM8.4 19.8h0.7v0.6h-0.7zM8.4 21h0.7v0.6h-0.7zM9.1 16.2h0.7v0.6h-0.7zM9.1 16.8h0.7v0.6h-0.7zM9.8 7.8h0.7v0.6h-0.7zM9.8 15h0.7v0.6h-0.7zM9.8 15.6h0.7v0.6h-0.7zM9.8 16.2h0.7v0.6h-0.7zM9.8 18.6h0.7v0.6h-0.7zM9.8 19.2h0.7v0.6h-0.7zM9.8 19.8h0.7v0.6h-0.7zM9.8 21h0.7v0.6h-0.7zM10.5 0h0.7v0.6h-0.7zM10.5 2.4h0.7v0.6h-0.7zM10.5 13.2h0.7v0.6h-0.7zM10.5 19.8h0.7v0.6h-0.7zM11.9 1.8h0.7v0.6h-0.7zM11.9 3h0.7v0.6h-0.7zM11.9 4.2h0.7v0.6h-0.7zM11.9 4.8h0.7v0.6h-0.7zM11.9 6h0.7v0.6h-0.7zM11.9 9h0.7v0.6h-0.7zM11.9 10.2h0.7v0.6h-0.7zM11.9 13.2h0.7v0.6h-0.7zM11.9 13.8h0.7v0.6h-0.7zM11.9 16.8h0.7v0.6h-0.7zM11.9 18h0.7v0.6h-0.7zM11.9 19.8h0.7v0.6h-0.7zM11.9 21h0.7v0.6h-0.7zM11.9 22.8h0.7v0.6h-0.7zM12.6 10.8h0.7v0.6h-0.7zM14 0.6h0.7v0.6h-0.7zM14 4.2h0.7v0.6h-0.7zM14 8.4h0.7v0.6h-0.7zM14 10.8h0.7v0.6h-0.7zM14 16.8h0.7v0.6h-0.7zM14 21h0.7v0.6h-0.7zM14 23.4h0.7v0.6h-0.7zM15.4 2.4h0.7v0.6h-0.7zM16.1 7.8h0.7v0.6h-0.7zM16.1 15h0.7v0.6h-0.7zM16.1 16.2h0.7v0.6h-0.7zM16.8 0h0.7v0.6h-0.7zM16.8 1.8h0.7v0.6h-0.7zM16.8 6h0.7v0.6h-0.7zM16.8 6.6h0.7v0.6h-0.7zM16.8 10.2h0.7v0.6h-0.7zM16.8 10.8h0.7v0.6h-0.7zM16.8 13.8h0.7v0.6h-0.7zM16.8 14.4h0.7v0.6h-0.7zM16.8 19.2h0.7v0.6h-0.7zM18.9 6h0.7v0.6h-0.7zM18.9 10.2h0.7v0.6h-0.7zM18.9 12.6h0.7v0.6h-0.7zM18.9 13.2h0.7v0.6h-0.7zM18.9 14.4h0.7v0.6h-0.7zM18.9 18h0.7v0.6h-0.7zM18.9 20.4h0.7v0.6h-0.7zM19.6 1.2h0.7v0.6h-0.7zM19.6 2.4h0.7v0.6h-0.7zM19.6 3h0.7v0.6h-0.7zM19.6 5.4h0.7v0.6h-0.7zM19.6 7.2h0.7v0.6h-0.7zM19.6 8.4h0.7v0.6h-0.7zM19.6 10.2h0.7v0.6h-0.7zM19.6 16.2h0.7v0.6h-0.7zM19.6 17.4h0.7v0.6h-0.7zM19.6 21.6h0.7v0.6h-0.7zM21 1.2h0.7v0.6h-0.7zM21 5.4h0.7v0.6h-0.7zM21 6h0.7v0.6h-0.7zM21 10.8h0.7v0.6h-0.7zM21 22.8h0.7v0.6h-0.7zM21.7 0.6h0.7v0.6h-0.7zM21.7 3.6h0.7v0.6h-0.7zM21.7 10.2h0.7v0.6h-0.7zM21.7 11.4h0.7v0.6h-0.7zM21.7 13.8h0.7v0.6h-0.7zM21.7 21.6h0.7v0.6h-0.7zM22.4 1.8h0.7v0.6h-0.7zM22.4 7.8h0.7v0.6h-0.7zM22.4 11.4h0.7v0.6h-0.7zM22.4 15h0.7v0.6h-0.7zM22.4 23.4h0.7v0.6h-0.7zM23.1 0h0.7v0.6h-0.7zM23.1 7.8h0.7v0.6h-0.7zM23.1 13.8h0.7v0.6h-0.7zM23.8 7.2h0.7v0.6h-0.7zM23.8 13.2h0.7v0.6h-0.7zM24.5 4.2h0.7v0.6h-0.7zM24.5 6.6h0.7v0.6h-0.7zM24.5 8.4h0.7v0.6h-0.7zM25.2 0h0.7v0.6h-0.7zM25.2 6.6h0.7v0.6h-0.7zM25.2 9h0.7v0.6h-0.7zM25.2 19.8h0.7v0.6h-0.7zM25.9 1.8h0.7v0.6h-0.7zM25.9 4.2h0.7v0.6h-0.7zM25.9 8.4h0.7v0.6h-0.7zM25.9 14.4h0.7v0.6h-0.7zM25.9 19.2h0.7v0.6h-0.7zM25.9 21h0.7v0.6h-0.7zM26.6 15h0.7v0.6h-0.7zM26.6 16.8h0.7v0.6h-0.7zM26.6 18.6h0.7v0.6h-0.7zM26.6 21.6h0.7v0.6h-0.7zM26.6 22.2h0.7v0.6h-0.7zM26.6 22.8h0.7v0.6h-0.7z" fill="#e27e8c"/><path d="M0 1.2h0.7v0.6h-0.7zM0 2.4h0.7v0.6h-0.7zM0 3h0.7v0.6h-0.7zM0 3.6h0.7v0.6h-0.7zM0 4.8h0.7v0.6h-0.7zM0 5.4h0.7v0.6h-0.7zM0 8.4h0.7v0.6h-0.7zM0 10.8h0.7v0.6h-0.7zM0 13.8h0.7v0.6h-0.7zM0 15h0.7v0.6h-0.7zM0 15.6h0.7v0.6h-0.7zM0 16.2h0.7v0.6h-0.7zM0 16.8h0.7v0.6h-0.7zM0 17.4h0.7v0.6h-0.7zM0 19.2h0.7v0.6h-0.7zM0 19.8h0.7v0.6h-0.7zM0 20.4h0.7v0.6h-0.7zM0 22.8h0.7v0.6h-0.7zM0 23.4h0.7v0.6h-0.7zM0.7 0h0.7v0.6h-0.7zM0.7 1.8h0.7v0.6h-0.7zM0.7 5.4h0.7v0.6h-0.7zM0.7 6h0.7v0.6h-0.7zM0.7 7.2h0.7v0.6h-0.7zM0.7 7.8h0.7v0.6h-0.7zM0.7 14.4h0.7v0.6h-0.7zM0.7 17.4h0.7v0.6h-0.7zM0.7 19.8h0.7v0.6h-0.7zM0.7 20.4h0.7v0.6h-0.7zM0.7 21h0.7v0.6h-0.7zM1.4 0h0.7v0.6h-0.7zM1.4 0.6h0.7v0.6h-0.7zM1.4 1.8h0.7v0.6h-0.7zM1.4 2.4h0.7v0.6h-0.7zM1.4 3.6h0.7v0.6h-0.7zM1.4 6.6h0.7v0.6h-0.7zM1.4 7.8h0.7v0.6h-0.7zM1.4 9.6h0.7v0.6h-0.7zM1.4 13.2h0.7v0.6h-0.7zM1.4 14.4h0.7v0.6h-0.7zM1.4 16.8h0.7v0.6h-0.7zM1.4 17.4h0.7v0.6h-0.7zM1.4 18h0.7v0.6h-0.7zM1.4 21.6h0.7v0.6h-0.7zM1.4 22.2h0.7v0.6h-0.7zM1.4 23.4h0.7v0.6h-0.7zM2.1 1.2h0.7v0.6h-0.7zM2.1 1.8h0.7v0.6h-0.7zM2.1 3.6h0.7v0.6h-0.7zM2.1 5.4h0.7v0.6h-0.7zM2.1 8.4h0.7v0.6h-0.7zM2.1 9.6h0.7v0.6h-0.7zM2.1 12h0.7v0.6h-0.7zM2.1 12.6h0.7v0.6h-0.7zM2.1 13.8h0.7v0.6h-0.7zM2.1 16.2h0.7v0.6h-0.7zM2.1 17.4h0.7v0.6h-0.7zM2.1 18h0.7v0.6h-0.7zM2.1 19.8h0.7v0.6h-0.7zM2.1 21h0.7v0.6h-0.7zM2.1 21.6h0.7v0.6h-0.7zM2.1 23.4h0.7v0.6h-0.7zM2.8 0h0.7v0.6h-0.7zM2.8 2.4h0.7v0.6h-0.7zM2.8 6h0.7v0.6h-0.7zM2.8 11.4h0.7v0.6h-0.7zM2.8 12h0.7v0.6h-0.7zM2.8 13.8h0.7v0.6h-0.7zM2.8 15h0.7v0.6h-0.7zM2.8 15.6h0.7v0.6h-0.7zM2.8 18.6h0.7v0.6h-0.7zM2.8 19.2h0.7v0.6h-0.7zM2.8 20.4h0.7v0.6h-0.7zM3.5 1.2h0.7v0.6h-0.7zM3.5 9h0.7v0.6h-0.7zM3.5 11.4h0.7v0.6h-0.7zM3.5 15h0.7v0.6h-0.7zM3.5 23.4h0.7v0.6h-0.7zM4.2 1.8h0.7v0.6h-0.7zM4.2 2.4h0.7v0.6h-0.7zM4.2 5.4h0.7v0.6h-0.7zM4.2 6h0.7v0.6h-0.7zM4.2 7.8h0.7v0.6h-0.7zM4.2 9h0.7v0.6h-0.7zM4.2 9.6h0.7v0.6h-0.7zM4.2 10.2h0.7v0.6h-0.7zM4.2 12h0.7v0.6h-0.7zM4.2 14.4h0.7v0.6h-0.7zM4.2 15.6h0.7v0.6h-0.7zM4.2 16.2h0.7v0.6h-0.7zM4.2 17.4h0.7v0.6h-0.7zM4.2 18h0.7v0.6h-0.7zM4.2 20.4h0.7v0.6h-0.7zM4.2 21h0.7v0.6h-0.7zM4.2 23.4h0.7v0.6h-0.7zM4.9 1.8h0.7v0.6h-0.7zM4.9 3h0.7v0.6h-0.7zM4.9 7.2h0.7v0.6h-0.7zM4.9 9h0.7v0.6h-0.7zM4.9 10.2h0.7v0.6h-0.7zM4.9 10.8h0.7v0.6h-0.7zM4.9 12.6h0.7v0.6h-0.7zM4.9 15h0.7v0.6h-0.7zM4.9 16.2h0.7v0.6h-0.7zM4.9 16.8h0.7v0.6h-0.7zM5.6 4.8h0.7v0.6h-0.7zM5.6 6.6h0.7v0.6h-0.7zM5.6 8.4h0.7v0.6h-0.7zM5.6 19.8h0.7v0.6h-0.7zM5.6 21.6h0.7v0.6h-0.7zM6.3 0h0.7v0.6h-0.7zM6.3 1.8h0.7v0.6h-0.7zM6.3 3h0.7v0.6h-0.7zM6.3 3.6h0.7v0.6h-0.7zM6.3 7.2h0.7v0.6h-0.7zM6.3 7.8h0.7v0.6h-0.7zM6.3 10.8h0.7v0.6h-0.7zM6.3 12.6h0.7v0.6h-0.7zM6.3 13.2h0.7v0.6h-0.7zM6.3 13.8h0.7v0.6h-0.7zM6.3 15.6h0.7v0.6h-0.7zM6.3 16.8h0.7v0.6h-0.7zM6.3 18h0.7v0.6h-0.7zM6.3 21h0.7v0.6h-0.7zM6.3 22.2h0.7v0.6h-0.7zM6.3 22.8h0.7v0.6h-0.7zM6.3 23.4h0.7v0.6h-0.7zM7 0.6h0.7v0.6h-0.7zM7 2.4h0.7v0.6h-0.7zM7 4.8h0.7v0.6h-0.7zM7 10.8h0.7v0.6h-0.7zM7 12h0.7v0.6h-0.7zM7 13.2h0.7v0.6h-0.7zM7 13.8h0.7v0.6h-0.7zM7 14.4h0.7v0.6h-0.7zM7 16.8h0.7v0.6h-0.7zM7 18.6h0.7v0.6h-0.7zM7 19.8h0.7v0.6h-0.7zM7 20.4h0.7v0.6h-0.7zM7 23.4h0.7v0.6h-0.7zM7.7 4.8h0.7v0.6h-0.7zM7.7 7.8h0.7v0.6h-0.7zM7.7 16.8h0.7v0.6h-0.7zM7.7 21h0.7v0.6h-0.7zM7.7 22.2h0.7v0.6h-0.7zM7.7 22.8h0.7v0.6h-0.7zM7.7 23.4h0.7v0.6h-0.7zM8.4 1.8h0.7v0.6h-0.7zM8.4 4.2h0.7v0.6h-0.7zM8.4 22.2h0.7v0.6h-0.7zM8.4 23.4h0.7v0.6h-0.7zM9.1 0h0.7v0.6h-0.7zM9.1 0.6h0.7v0.6h-0.7zM9.1 3h0.7v0.6h-0.7zM9.1 3.6h0.7v0.6h-0.7zM9.1 7.2h0.7v0.6h-0.7zM9.1 9h0.7v0.6h-0.7zM9.1 10.2h0.7v0.6h-0.7zM9.1 12h0.7v0.6h-0.7zM9.1 13.2h0.7v0.6h-0.7zM9.1 14.4h0.7v0.6h-0.7zM9.1 18h0.7v0.6h-0.7zM9.1 19.8h0.7v0.6h-0.7zM9.1 20.4h0.7v0.6h-0.7zM9.1 21h0.7v0.6h-0.7zM9.1 22.2h0.7v0.6h-0.7zM9.8 0h0.7v0.6h-0.7zM9.8 2.4h0.7v0.6h-0.7zM9.8 3h0.7v0.6h-0.7zM9.8 4.2h0.7v0.6h-0.7zM9.8 6.6h0.7v0.6h-0.7zM9.8 8.4h0.7v0.6h-0.7zM9.8 12.6h0.7v0.6h-0.7zM9.8 13.2h0.7v0.6h-0.7zM9.8 13.8h0.7v0.6h-0.7zM9.8 14.4h0.7v0.6h-0.7zM9.8 22.2h0.7v0.6h-0.7zM9.8 22.8h0.7v0.6h-0.7zM10.5 0.6h0.7v0.6h-0.7zM10.5 1.2h0.7v0.6h-0.7zM10.5 1.8h0.7v0.6h-0.7zM10.5 4.2h0.7v0.6h-0.7zM10.5 4.8h0.7v0.6h-0.7zM10.5 6h0.7v0.6h-0.7zM10.5 6.6h0.7v0.6h-0.7zM10.5 10.8h0.7v0.6h-0.7zM10.5 13.8h0.7v0.6h-0.7zM10.5 14.4h0.7v0.6h-0.7zM10.5 18h0.7v0.6h-0.7zM10.5 20.4h0.7v0.6h-0.7zM10.5 23.4h0.7v0.6h-0.7zM11.2 4.2h0.7v0.6h-0.7zM11.2 6h0.7v0.6h-0.7zM11.2 6.6h0.7v0.6h-0.7zM11.2 8.4h0.7v0.6h-0.7zM11.2 9h0.7v0.6h-0.7zM11.2 9.6h0.7v0.6h-0.7zM11.2 10.2h0.7v0.6h-0.7zM11.2 10.8h0.7v0.6h-0.7zM11.2 11.4h0.7v0.6h-0.7zM11.2 12.6h0.7v0.6h-0.7zM11.2 13.2h0.7v0.6h-0.7zM11.2 14.4h0.7v0.6h-0.7zM11.2 15h0.7v0.6h-0.7zM11.2 15.6h0.7v0.6h-0.7zM11.2 16.2h0.7v0.6h-0.7zM11.2 17.4h0.7v0.6h-0.7zM11.2 19.2h0.7v0.6h-0.7zM11.2 19.8h0.7v0.6h-0.7zM11.2 21.6h0.7v0.6h-0.7zM11.9 0h0.7v0.6h-0.7zM11.9 19.2h0.7v0.6h-0.7zM12.6 0h0.7v0.6h-0.7zM12.6 1.8h0.7v0.6h-0.7zM12.6 4.8h0.7v0.6h-0.7zM12.6 7.2h0.7v0.6h-0.7zM12.6 7.8h0.7v0.6h-0.7zM12.6 8.4h0.7v0.6h-0.7zM12.6 9h0.7v0.6h-0.7zM12.6 9.6h0.7v0.6h-0.7zM12.6 10.2h0.7v0.6h-0.7zM12.6 11.4h0.7v0.6h-0.7zM12.6 12h0.7v0.6h-0.7zM12.6 12.6h0.7v0.6h-0.7zM12.6 16.8h0.7v0.6h-0.7zM12.6 17.4h0.7v0.6h-0.7zM12.6 19.8h0.7v0.6h-0.7zM12.6 21h0.7v0.6h-0.7zM12.6 21.6h0.7v0.6h-0.7zM12.6 22.2h0.7v0.6h-0.7zM13.3 1.2h0.7v0.6h-0.7zM13.3 1.8h0.7v0.6h-0.7zM13.3 5.4h0.7v0.6h-0.7zM13.3 7.2h0.7v0.6h-0.7zM13.3 7.8h0.7v0.6h-0.7zM13.3 9h0.7v0.6h-0.7zM13.3 9.6h0.7v0.6h-0.7zM13.3 12h0.7v0.6h-0.7zM13.3 12.6h0.7v0.6h-0.7zM13.3 14.4h0.7v0.6h-0.7zM13.3 15h0.7v0.6h-0.7zM13.3 16.8h0.7v0.6h-0.7zM13.3 18h0.7v0.6h-0.7zM13.3 19.2h0.7v0.6h-0.7zM13.3 19.8h0.7v0.6h-0.7zM13.3 20.4h0.7v0.6h-0.7zM13.3 21h0.7v0.6h-0.7zM13.3 21.6h0.7v0.6h-0.7zM13.3 22.8h0.7v0.6h-0.7zM14 0h0.7v0.6h-0.7zM14 1.8h0.7v0.6h-0.7zM14 2.4h0.7v0.6h-0.7zM14 3h0.7v0.6h-0.7zM14 4.8h0.7v0.6h-0.7zM14 5.4h0.7v0.6h-0.7zM14 9.6h0.7v0.6h-0.7zM14 13.2h0.7v0.6h-0.7zM14 13.8h0.7v0.6h-0.7zM14 15h0.7v0.6h-0.7zM14 22.2h0.7v0.6h-0.7zM14.7 1.8h0.7v0.6h-0.7zM14.7 3.6h0.7v0.6h-0.7zM14.7 4.2h0.7v0.6h-0.7zM14.7 4.8h0.7v0.6h-0.7zM14.7 5.4h0.7v0.6h-0.7zM14.7 7.2h0.7v0.6h-0.7zM14.7 8.4h0.7v0.6h-0.7zM14.7 9h0.7v0.6h-0.7zM14.7 9.6h0.7v0.6h-0.7zM14.7 10.2h0.7v0.6h-0.7zM14.7 12h0.7v0.6h-0.7zM14.7 12.6h0.7v0.6h-0.7zM14.7 15h0.7v0.6h-0.7zM14.7 16.2h0.7v0.6h-0.7zM14.7 16.8h0.7v0.6h-0.7zM14.7 17.4h0.7v0.6h-0.7zM14.7 18h0.7v0.6h-0.7zM14.7 19.8h0.7v0.6h-0.7zM14.7 20.4h0.7v0.6h-0.7zM14.7 22.8h0.7v0.6h-0.7zM15.4 1.8h0.7v0.6h-0.7zM15.4 3h0.7v0.6h-0.7zM15.4 4.8h0.7v0.6h-0.7zM15.4 5.4h0.7v0.6h-0.7zM15.4 7.2h0.7v0.6h-0.7zM15.4 7.8h0.7v0.6h-0.7zM15.4 8.4h0.7v0.6h-0.7zM15.4 13.8h0.7v0.6h-0.7zM15.4 14.4h0.7v0.6h-0.7zM15.4 18h0.7v0.6h-0.7zM15.4 19.8h0.7v0.6h-0.7zM15.4 21h0.7v0.6h-0.7zM15.4 21.6h0.7v0.6h-0.7zM15.4 23.4h0.7v0.6h-0.7zM16.1 0h0.7v0.6h-0.7zM16.1 1.2h0.7v0.6h-0.7zM16.1 1.8h0.7v0.6h-0.7zM16.1 3h0.7v0.6h-0.7zM16.1 3.6h0.7v0.6h-0.7zM16.1 4.8h0.7v0.6h-0.7zM16.1 9h0.7v0.6h-0.7zM16.1 9.6h0.7v0.6h-0.7zM16.1 10.8h0.7v0.6h-0.7zM16.1 11.4h0.7v0.6h-0.7zM16.1 12h0.7v0.6h-0.7zM16.1 13.2h0.7v0.6h-0.7zM16.1 14.4h0.7v0.6h-0.7zM16.1 17.4h0.7v0.6h-0.7zM16.1 21h0.7v0.6h-0.7zM16.8 1.2h0.7v0.6h-0.7zM16.8 4.2h0.7v0.6h-0.7zM16.8 4.8h0.7v0.6h-0.7zM16.8 5.4h0.7v0.6h-0.7zM16.8 9h0.7v0.6h-0.7zM16.8 11.4h0.7v0.6h-0.7zM16.8 15h0.7v0.6h-0.7zM16.8 16.2h0.7v0.6h-0.7zM16.8 20.4h0.7v0.6h-0.7zM16.8 21.6h0.7v0.6h-0.7zM16.8 23.4h0.7v0.6h-0.7zM17.5 0h0.7v0.6h-0.7zM17.5 5.4h0.7v0.6h-0.7zM17.5 6h0.7v0.6h-0.7zM17.5 8.4h0.7v0.6h-0.7zM17.5 9h0.7v0.6h-0.7zM17.5 9.6h0.7v0.6h-0.7zM17.5 10.2h0.7v0.6h-0.7zM17.5 12h0.7v0.6h-0.7zM17.5 12.6h0.7v0.6h-0.7zM17.5 13.2h0.7v0.6h-0.7zM17.5 13.8h0.7v0.6h-0.7zM17.5 14.4h0.7v0.6h-0.7zM17.5 15.6h0.7v0.6h-0.7zM17.5 16.8h0.7v0.6h-0.7zM17.5 19.2h0.7v0.6h-0.7zM17.5 20.4h0.7v0.6h-0.7zM17.5 21.6h0.7v0.6h-0.7zM17.5 22.2h0.7v0.6h-0.7zM17.5 22.8h0.7v0.6h-0.7zM18.2 0.6h0.7v0.6h-0.7zM18.2 2.4h0.7v0.6h-0.7zM18.2 4.2h0.7v0.6h-0.7zM18.2 4.8h0.7v0.6h-0.7zM18.2 7.2h0.7v0.6h-0.7zM18.2 7.8h0.7v0.6h-0.7zM18.2 9h0.7v0.6h-0.7zM18.2 11.4h0.7v0.6h-0.7zM18.2 12.6h0.7v0.6h-0.7zM18.2 14.4h0.7v0.6h-0.7zM18.2 15.6h0.7v0.6h-0.7zM18.2 18h0.7v0.6h-0.7zM18.2 18.6h0.7v0.6h-0.7zM18.2 22.2h0.7v0.6h-0.7zM18.2 22.8h0.7v0.6h-0.7zM18.2 23.4h0.7v0.6h-0.7zM18.9 0h0.7v0.6h-0.7zM18.9 1.8h0.7v0.6h-0.7zM18.9 4.2h0.7v0.6h-0.7zM18.9 10.8h0.7v0.6h-0.7zM18.9 21.6h0.7v0.6h-0.7zM18.9 22.8h0.7v0.6h-0.7zM19.6 0h0.7v0.6h-0.7zM19.6 6h0.7v0.6h-0.7zM19.6 7.8h0.7v0.6h-0.7zM19.6 18h0.7v0.6h-0.7zM19.6 20.4h0.7v0.6h-0.7zM19.6 21h0.7v0.6h-0.7zM19.6 22.2h0.7v0.6h-0.7zM19.6 22.8h0.7v0.6h-0.7zM19.6 23.4h0.7v0.6h-0.7zM20.3 0h0.7v0.6h-0.7zM20.3 1.2h0.7v0.6h-0.7zM20.3 2.4h0.7v0.6h-0.7zM20.3 4.2h0.7v0.6h-0.7zM20.3 4.8h0.7v0.6h-0.7zM20.3 5.4h0.7v0.6h-0.7zM20.3 7.2h0.7v0.6h-0.7zM20.3 9h0.7v0.6h-0.7zM20.3 10.8h0.7v0.6h-0.7zM20.3 12.6h0.7v0.6h-0.7zM20.3 13.8h0.7v0.6h-0.7zM20.3 14.4h0.7v0.6h-0.7zM20.3 15h0.7v0.6h-0.7zM20.3 15.6h0.7v0.6h-0.7zM20.3 16.2h0.7v0.6h-0.7zM20.3 17.4h0.7v0.6h-0.7zM20.3 18h0.7v0.6h-0.7zM20.3 18.6h0.7v0.6h-0.7zM20.3 19.8h0.7v0.6h-0.7zM20.3 23.4h0.7v0.6h-0.7zM21 3h0.7v0.6h-0.7zM21 11.4h0.7v0.6h-0.7zM21 13.8h0.7v0.6h-0.7zM21 15.6h0.7v0.6h-0.7zM21 16.8h0.7v0.6h-0.7zM21 19.2h0.7v0.6h-0.7zM21 21.6h0.7v0.6h-0.7zM21 22.2h0.7v0.6h-0.7zM21.7 1.8h0.7v0.6h-0.7zM21.7 2.4h0.7v0.6h-0.7zM21.7 4.8h0.7v0.6h-0.7zM21.7 6h0.7v0.6h-0.7zM21.7 8.4h0.7v0.6h-0.7zM21.7 9.6h0.7v0.6h-0.7zM21.7 12h0.7v0.6h-0.7zM21.7 13.2h0.7v0.6h-0.7zM21.7 14.4h0.7v0.6h-0.7zM21.7 15h0.7v0.6h-0.7zM21.7 15.6h0.7v0.6h-0.7zM21.7 16.8h0.7v0.6h-0.7zM21.7 18.6h0.7v0.6h-0.7zM21.7 19.2h0.7v0.6h-0.7zM21.7 19.8h0.7v0.6h-0.7zM21.7 20.4h0.7v0.6h-0.7zM21.7 21h0.7v0.6h-0.7zM21.7 22.2h0.7v0.6h-0.7zM21.7 22.8h0.7v0.6h-0.7zM21.7 23.4h0.7v0.6h-0.7zM22.4 0h0.7v0.6h-0.7zM22.4 0.6h0.7v0.6h-0.7zM22.4 3h0.7v0.6h-0.7zM22.4 3.6h0.7v0.6h-0.7zM22.4 4.2h0.7v0.6h-0.7zM22.4 10.8h0.7v0.6h-0.7zM22.4 16.2h0.7v0.6h-0.7zM22.4 16.8h0.7v0.6h-0.7zM22.4 17.4h0.7v0.6h-0.7zM22.4 20.4h0.7v0.6h-0.7zM22.4 21h0.7v0.6h-0.7zM22.4 21.6h0.7v0.6h-0.7zM22.4 22.2h0.7v0.6h-0.7zM22.4 22.8h0.7v0.6h-0.7zM23.1 0.6h0.7v0.6h-0.7zM23.1 3.6h0.7v0.6h-0.7zM23.1 4.2h0.7v0.6h-0.7zM23.1 5.4h0.7v0.6h-0.7zM23.1 6.6h0.7v0.6h-0.7zM23.1 12h0.7v0.6h-0.7zM23.1 14.4h0.7v0.6h-0.7zM23.1 15h0.7v0.6h-0.7zM23.1 15.6h0.7v0.6h-0.7zM23.1 16.8h0.7v0.6h-0.7zM23.1 18.6h0.7v0.6h-0.7zM23.1 19.8h0.7v0.6h-0.7zM23.1 20.4h0.7v0.6h-0.7zM23.1 21h0.7v0.6h-0.7zM23.1 21.6h0.7v0.6h-0.7zM23.1 23.4h0.7v0.6h-0.7zM23.8 1.8h0.7v0.6h-0.7zM23.8 2.4h0.7v0.6h-0.7zM23.8 3h0.7v0.6h-0.7zM23.8 6h0.7v0.6h-0.7zM23.8 9.6h0.7v0.6h-0.7zM23.8 12.6h0.7v0.6h-0.7zM23.8 13.8h0.7v0.6h-0.7zM23.8 14.4h0.7v0.6h-0.7zM23.8 16.2h0.7v0.6h-0.7zM23.8 17.4h0.7v0.6h-0.7zM23.8 18h0.7v0.6h-0.7zM23.8 19.2h0.7v0.6h-0.7zM23.8 19.8h0.7v0.6h-0.7zM23.8 22.2h0.7v0.6h-0.7zM23.8 23.4h0.7v0.6h-0.7zM24.5 1.2h0.7v0.6h-0.7zM24.5 1.8h0.7v0.6h-0.7zM24.5 7.2h0.7v0.6h-0.7zM24.5 12h0.7v0.6h-0.7zM24.5 12.6h0.7v0.6h-0.7zM24.5 13.8h0.7v0.6h-0.7zM24.5 15.6h0.7v0.6h-0.7zM24.5 16.2h0.7v0.6h-0.7zM24.5 16.8h0.7v0.6h-0.7zM24.5 18.6h0.7v0.6h-0.7zM24.5 21h0.7v0.6h-0.7zM24.5 22.2h0.7v0.6h-0.7zM25.2 2.4h0.7v0.6h-0.7zM25.2 3.6h0.7v0.6h-0.7zM25.2 4.2h0.7v0.6h-0.7zM25.2 7.2h0.7v0.6h-0.7zM25.2 9.6h0.7v0.6h-0.7zM25.2 10.2h0.7v0.6h-0.7zM25.2 12h0.7v0.6h-0.7zM25.2 12.6h0.7v0.6h-0.7zM25.2 13.2h0.7v0.6h-0.7zM25.2 13.8h0.7v0.6h-0.7zM25.2 14.4h0.7v0.6h-0.7zM25.2 15.6h0.7v0.6h-0.7zM25.2 18h0.7v0.6h-0.7zM25.2 20.4h0.7v0.6h-0.7zM25.2 21h0.7v0.6h-0.7zM25.9 0.6h0.7v0.6h-0.7zM25.9 1.2h0.7v0.6h-0.7zM25.9 2.4h0.7v0.6h-0.7zM25.9 5.4h0.7v0.6h-0.7zM25.9 10.2h0.7v0.6h-0.7zM25.9 10.8h0.7v0.6h-0.7zM25.9 13.8h0.7v0.6h-0.7zM25.9 15h0.7v0.6h-0.7zM25.9 15.6h0.7v0.6h-0.7zM25.9 16.8h0.7v0.6h-0.7zM25.9 17.4h0.7v0.6h-0.7zM25.9 18h0.7v0.6h-0.7zM25.9 20.4h0.7v0.6h-0.7zM25.9 22.2h0.7v0.6h-0.7zM26.6 0.6h0.7v0.6h-0.7zM26.6 1.2h0.7v0.6h-0.7zM26.6 1.8h0.7v0.6h-0.7zM26.6 3h0.7v0.6h-0.7zM26.6 5.4h0.7v0.6h-0.7zM26.6 7.8h0.7v0.6h-0.7zM26.6 10.8h0.7v0.6h-0.7zM26.6 12h0.7v0.6h-0.7zM26.6 16.2h0.7v0.6h-0.7zM26.6 17.4h0.7v0.6h-0.7zM26.6 19.8h0.7v0.6h-0.7zM26.6 23.4h0.7v0.6h-0.7zM27.3 0h0.7v0.6h-0.7zM27.3 0.6h0.7v0.6h-0.7zM27.3 1.8h0.7v0.6h-0.7zM27.3 4.8h0.7v0.6h-0.7zM27.3 6.6h0.7v0.6h-0.7zM27.3 7.2h0.7v0.6h-0.7zM27.3 8.4h0.7v0.6h-0.7zM27.3 9h0.7v0.6h-0.7zM27.3 11.4h0.7v0.6h-0.7zM27.3 13.8h0.7v0.6h-0.7zM27.3 14.4h0.7v0.6h-0.7zM27.3 15h0.7v0.6h-0.7zM27.3 18h0.7v0.6h-0.7zM27.3 19.8h0.7v0.6h-0.7zM27.3 20.4h0.7v0.6h-0.7zM27.3 22.2h0.7v0.6h-0.7zM27.3 22.8h0.7v0.6h-0.7zM27.3 23.4h0.7v0.6h-0.7z" fill="#a6d8da"/></pattern>
<pattern id="pm" width="28" height="24" patternUnits="userSpaceOnUse"><rect width="28" height="24" fill="#f9f8f8"/><path d="M0 0.6h0.7v0.6h-0.7zM0 1.2h0.7v0.6h-0.7zM0 3h0.7v0.6h-0.7zM0 3.6h0.7v0.6h-0.7zM0 6.6h0.7v0.6h-0.7zM0 11.4h0.7v0.6h-0.7zM0 14.4h0.7v0.6h-0.7zM0 15.6h0.7v0.6h-0.7zM0 20.4h0.7v0.6h-0.7zM0 21h0.7v0.6h-0.7zM0.7 3.6h0.7v0.6h-0.7zM0.7 7.8h0.7v0.6h-0.7zM0.7 13.8h0.7v0.6h-0.7zM0.7 14.4h0.7v0.6h-0.7zM0.7 16.2h0.7v0.6h-0.7zM0.7 20.4h0.7v0.6h-0.7zM1.4 4.2h0.7v0.6h-0.7zM1.4 4.8h0.7v0.6h-0.7zM1.4 6.6h0.7v0.6h-0.7zM1.4 7.8h0.7v0.6h-0.7zM1.4 11.4h0.7v0.6h-0.7zM1.4 12h0.7v0.6h-0.7zM2.1 0h0.7v0.6h-0.7zM2.1 3h0.7v0.6h-0.7zM2.1 4.2h0.7v0.6h-0.7zM2.1 4.8h0.7v0.6h-0.7zM2.1 5.4h0.7v0.6h-0.7zM2.1 6.6h0.7v0.6h-0.7zM2.1 7.2h0.7v0.6h-0.7zM2.1 8.4h0.7v0.6h-0.7zM2.1 10.2h0.7v0.6h-0.7zM2.1 13.8h0.7v0.6h-0.7zM2.1 14.4h0.7v0.6h-0.7zM2.1 15.6h0.7v0.6h-0.7zM2.1 18h0.7v0.6h-0.7zM2.1 18.6h0.7v0.6h-0.7zM2.1 19.8h0.7v0.6h-0.7zM2.1 20.4h0.7v0.6h-0.7zM2.1 21h0.7v0.6h-0.7zM2.1 21.6h0.7v0.6h-0.7zM2.1 22.8h0.7v0.6h-0.7zM3.5 0.6h0.7v0.6h-0.7zM3.5 3h0.7v0.6h-0.7zM3.5 4.2h0.7v0.6h-0.7zM3.5 5.4h0.7v0.6h-0.7zM3.5 6h0.7v0.6h-0.7zM3.5 6.6h0.7v0.6h-0.7zM3.5 8.4h0.7v0.6h-0.7zM3.5 11.4h0.7v0.6h-0.7zM3.5 14.4h0.7v0.6h-0.7zM3.5 15.6h0.7v0.6h-0.7zM3.5 18h0.7v0.6h-0.7zM3.5 18.6h0.7v0.6h-0.7zM3.5 19.2h0.7v0.6h-0.7zM3.5 19.8h0.7v0.6h-0.7zM3.5 21.6h0.7v0.6h-0.7zM4.2 6h0.7v0.6h-0.7zM4.2 13.2h0.7v0.6h-0.7zM4.2 16.8h0.7v0.6h-0.7zM4.2 17.4h0.7v0.6h-0.7zM4.2 18h0.7v0.6h-0.7zM4.2 22.8h0.7v0.6h-0.7zM4.9 0.6h0.7v0.6h-0.7zM4.9 4.2h0.7v0.6h-0.7zM4.9 4.8h0.7v0.6h-0.7zM4.9 6h0.7v0.6h-0.7zM4.9 12.6h0.7v0.6h-0.7zM4.9 18h0.7v0.6h-0.7zM4.9 18.6h0.7v0.6h-0.7zM4.9 22.8h0.7v0.6h-0.7zM4.9 23.4h0.7v0.6h-0.7zM5.6 0.6h0.7v0.6h-0.7zM5.6 9h0.7v0.6h-0.7zM5.6 13.8h0.7v0.6h-0.7zM5.6 14.4h0.7v0.6h-0.7zM6.3 3.6h0.7v0.6h-0.7zM6.3 4.2h0.7v0.6h-0.7zM6.3 7.2h0.7v0.6h-0.7zM6.3 9h0.7v0.6h-0.7zM6.3 16.8h0.7v0.6h-0.7zM6.3 21.6h0.7v0.6h-0.7zM6.3 22.2h0.7v0.6h-0.7zM7 0h0.7v0.6h-0.7zM7 0.6h0.7v0.6h-0.7zM7 1.8h0.7v0.6h-0.7zM7 2.4h0.7v0.6h-0.7zM7 8.4h0.7v0.6h-0.7zM7 9h0.7v0.6h-0.7zM7 10.2h0.7v0.6h-0.7zM7 10.8h0.7v0.6h-0.7zM7 15.6h0.7v0.6h-0.7zM7 21.6h0.7v0.6h-0.7zM7 22.8h0.7v0.6h-0.7zM7.7 1.8h0.7v0.6h-0.7zM7.7 2.4h0.7v0.6h-0.7zM7.7 7.8h0.7v0.6h-0.7zM7.7 12.6h0.7v0.6h-0.7zM7.7 13.8h0.7v0.6h-0.7zM7.7 15h0.7v0.6h-0.7zM7.7 15.6h0.7v0.6h-0.7zM7.7 21h0.7v0.6h-0.7zM8.4 16.2h0.7v0.6h-0.7zM8.4 17.4h0.7v0.6h-0.7zM8.4 18h0.7v0.6h-0.7zM8.4 21h0.7v0.6h-0.7zM9.1 1.2h0.7v0.6h-0.7zM9.1 1.8h0.7v0.6h-0.7zM9.1 4.2h0.7v0.6h-0.7zM9.1 5.4h0.7v0.6h-0.7zM9.1 7.2h0.7v0.6h-0.7zM9.1 10.2h0.7v0.6h-0.7zM9.1 12h0.7v0.6h-0.7zM9.1 16.8h0.7v0.6h-0.7zM9.1 18.6h0.7v0.6h-0.7zM9.8 4.8h0.7v0.6h-0.7zM9.8 6h0.7v0.6h-0.7zM9.8 9h0.7v0.6h-0.7zM9.8 16.2h0.7v0.6h-0.7zM9.8 19.2h0.7v0.6h-0.7zM9.8 20.4h0.7v0.6h-0.7zM10.5 6.6h0.7v0.6h-0.7zM10.5 18.6h0.7v0.6h-0.7zM11.2 1.8h0.7v0.6h-0.7zM11.2 4.2h0.7v0.6h-0.7zM11.2 5.4h0.7v0.6h-0.7zM11.2 6h0.7v0.6h-0.7zM11.2 6.6h0.7v0.6h-0.7zM11.2 7.2h0.7v0.6h-0.7zM11.2 10.8h0.7v0.6h-0.7zM11.2 12.6h0.7v0.6h-0.7zM11.2 13.8h0.7v0.6h-0.7zM11.2 18.6h0.7v0.6h-0.7zM11.2 20.4h0.7v0.6h-0.7zM11.2 21h0.7v0.6h-0.7zM11.2 22.8h0.7v0.6h-0.7zM11.9 2.4h0.7v0.6h-0.7zM11.9 3.6h0.7v0.6h-0.7zM11.9 4.2h0.7v0.6h-0.7zM11.9 4.8h0.7v0.6h-0.7zM11.9 6h0.7v0.6h-0.7zM11.9 9.6h0.7v0.6h-0.7zM11.9 11.4h0.7v0.6h-0.7zM11.9 15h0.7v0.6h-0.7zM11.9 15.6h0.7v0.6h-0.7zM11.9 18.6h0.7v0.6h-0.7zM12.6 0.6h0.7v0.6h-0.7zM12.6 4.8h0.7v0.6h-0.7zM12.6 5.4h0.7v0.6h-0.7zM12.6 6h0.7v0.6h-0.7zM12.6 13.2h0.7v0.6h-0.7zM12.6 17.4h0.7v0.6h-0.7zM12.6 22.2h0.7v0.6h-0.7zM13.3 0.6h0.7v0.6h-0.7zM13.3 1.8h0.7v0.6h-0.7zM13.3 3.6h0.7v0.6h-0.7zM13.3 4.8h0.7v0.6h-0.7zM13.3 9h0.7v0.6h-0.7zM13.3 10.8h0.7v0.6h-0.7zM13.3 13.2h0.7v0.6h-0.7zM13.3 15.6h0.7v0.6h-0.7zM13.3 16.2h0.7v0.6h-0.7zM13.3 16.8h0.7v0.6h-0.7zM14 0.6h0.7v0.6h-0.7zM14 1.8h0.7v0.6h-0.7zM14 2.4h0.7v0.6h-0.7zM14 3h0.7v0.6h-0.7zM14 4.2h0.7v0.6h-0.7zM14 6h0.7v0.6h-0.7zM14 9h0.7v0.6h-0.7zM14 10.2h0.7v0.6h-0.7zM14 10.8h0.7v0.6h-0.7zM14 12h0.7v0.6h-0.7zM14 12.6h0.7v0.6h-0.7zM14 13.2h0.7v0.6h-0.7zM14 15.6h0.7v0.6h-0.7zM14 16.2h0.7v0.6h-0.7zM14 21.6h0.7v0.6h-0.7zM14 23.4h0.7v0.6h-0.7zM14.7 1.8h0.7v0.6h-0.7zM14.7 3h0.7v0.6h-0.7zM14.7 7.8h0.7v0.6h-0.7zM14.7 8.4h0.7v0.6h-0.7zM14.7 9h0.7v0.6h-0.7zM14.7 10.2h0.7v0.6h-0.7zM14.7 10.8h0.7v0.6h-0.7zM14.7 13.2h0.7v0.6h-0.7zM14.7 15.6h0.7v0.6h-0.7zM14.7 18h0.7v0.6h-0.7zM14.7 18.6h0.7v0.6h-0.7zM14.7 19.8h0.7v0.6h-0.7zM14.7 22.2h0.7v0.6h-0.7zM14.7 23.4h0.7v0.6h-0.7zM16.1 0h0.7v0.6h-0.7zM16.1 0.6h0.7v0.6h-0.7zM16.1 1.2h0.7v0.6h-0.7zM16.1 1.8h0.7v0.6h-0.7zM16.1 2.4h0.7v0.6h-0.7zM16.1 6.6h0.7v0.6h-0.7zM16.1 13.8h0.7v0.6h-0.7zM16.1 17.4h0.7v0.6h-0.7zM16.1 18.6h0.7v0.6h-0.7zM16.8 22.8h0.7v0.6h-0.7zM17.5 1.2h0.7v0.6h-0.7zM17.5 19.2h0.7v0.6h-0.7zM18.2 0h0.7v0.6h-0.7zM18.2 0.6h0.7v0.6h-0.7zM18.2 2.4h0.7v0.6h-0.7zM18.2 3.6h0.7v0.6h-0.7zM18.2 4.2h0.7v0.6h-0.7zM18.2 5.4h0.7v0.6h-0.7zM18.2 12h0.7v0.6h-0.7zM18.2 13.8h0.7v0.6h-0.7zM18.2 15h0.7v0.6h-0.7zM18.2 19.8h0.7v0.6h-0.7zM18.2 22.8h0.7v0.6h-0.7zM18.2 23.4h0.7v0.6h-0.7zM18.9 1.2h0.7v0.6h-0.7zM18.9 3h0.7v0.6h-0.7zM18.9 6h0.7v0.6h-0.7zM18.9 6.6h0.7v0.6h-0.7zM18.9 9h0.7v0.6h-0.7zM18.9 9.6h0.7v0.6h-0.7zM18.9 10.2h0.7v0.6h-0.7zM18.9 11.4h0.7v0.6h-0.7zM18.9 12.6h0.7v0.6h-0.7zM18.9 15h0.7v0.6h-0.7zM18.9 15.6h0.7v0.6h-0.7zM18.9 16.2h0.7v0.6h-0.7zM18.9 16.8h0.7v0.6h-0.7zM18.9 22.2h0.7v0.6h-0.7zM19.6 1.2h0.7v0.6h-0.7zM19.6 2.4h0.7v0.6h-0.7zM19.6 4.2h0.7v0.6h-0.7zM19.6 7.2h0.7v0.6h-0.7zM19.6 10.8h0.7v0.6h-0.7zM19.6 20.4h0.7v0.6h-0.7zM19.6 22.2h0.7v0.6h-0.7zM20.3 0h0.7v0.6h-0.7zM20.3 3.6h0.7v0.6h-0.7zM20.3 5.4h0.7v0.6h-0.7zM20.3 6h0.7v0.6h-0.7zM20.3 6.6h0.7v0.6h-0.7zM20.3 7.2h0.7v0.6h-0.7zM20.3 12h0.7v0.6h-0.7zM20.3 15.6h0.7v0.6h-0.7zM21 4.8h0.7v0.6h-0.7zM21.7 4.8h0.7v0.6h-0.7zM21.7 16.2h0.7v0.6h-0.7zM21.7 19.8h0.7v0.6h-0.7zM21.7 21h0.7v0.6h-0.7zM21.7 22.8h0.7v0.6h-0.7zM22.4 2.4h0.7v0.6h-0.7zM22.4 12h0.7v0.6h-0.7zM22.4 18h0.7v0.6h-0.7zM22.4 19.8h0.7v0.6h-0.7zM22.4 23.4h0.7v0.6h-0.7zM23.1 1.2h0.7v0.6h-0.7zM23.1 1.8h0.7v0.6h-0.7zM23.1 6h0.7v0.6h-0.7zM23.1 12h0.7v0.6h-0.7zM23.1 14.4h0.7v0.6h-0.7zM23.1 20.4h0.7v0.6h-0.7zM23.1 22.8h0.7v0.6h-0.7zM23.8 0h0.7v0.6h-0.7zM23.8 1.2h0.7v0.6h-0.7zM23.8 2.4h0.7v0.6h-0.7zM23.8 4.2h0.7v0.6h-0.7zM23.8 6h0.7v0.6h-0.7zM23.8 7.8h0.7v0.6h-0.7zM23.8 9.6h0.7v0.6h-0.7zM23.8 10.2h0.7v0.6h-0.7zM23.8 10.8h0.7v0.6h-0.7zM23.8 15h0.7v0.6h-0.7zM23.8 15.6h0.7v0.6h-0.7zM23.8 16.8h0.7v0.6h-0.7zM23.8 19.2h0.7v0.6h-0.7zM23.8 22.8h0.7v0.6h-0.7zM24.5 1.8h0.7v0.6h-0.7zM25.2 1.8h0.7v0.6h-0.7zM25.2 2.4h0.7v0.6h-0.7zM25.2 3h0.7v0.6h-0.7zM25.2 7.2h0.7v0.6h-0.7zM25.2 8.4h0.7v0.6h-0.7zM25.2 9h0.7v0.6h-0.7zM25.2 9.6h0.7v0.6h-0.7zM25.2 10.2h0.7v0.6h-0.7zM25.2 12h0.7v0.6h-0.7zM25.2 13.8h0.7v0.6h-0.7zM25.2 15.6h0.7v0.6h-0.7zM25.2 21.6h0.7v0.6h-0.7zM25.2 22.2h0.7v0.6h-0.7zM25.9 4.2h0.7v0.6h-0.7zM25.9 4.8h0.7v0.6h-0.7zM25.9 9h0.7v0.6h-0.7zM25.9 9.6h0.7v0.6h-0.7zM25.9 15.6h0.7v0.6h-0.7zM25.9 19.2h0.7v0.6h-0.7zM25.9 19.8h0.7v0.6h-0.7zM25.9 20.4h0.7v0.6h-0.7zM25.9 21h0.7v0.6h-0.7zM25.9 22.2h0.7v0.6h-0.7zM26.6 5.4h0.7v0.6h-0.7zM26.6 9h0.7v0.6h-0.7zM26.6 9.6h0.7v0.6h-0.7zM26.6 16.8h0.7v0.6h-0.7zM26.6 17.4h0.7v0.6h-0.7zM26.6 19.8h0.7v0.6h-0.7zM27.3 1.8h0.7v0.6h-0.7zM27.3 4.8h0.7v0.6h-0.7zM27.3 6.6h0.7v0.6h-0.7zM27.3 8.4h0.7v0.6h-0.7zM27.3 9h0.7v0.6h-0.7zM27.3 11.4h0.7v0.6h-0.7zM27.3 15.6h0.7v0.6h-0.7zM27.3 21h0.7v0.6h-0.7z" fill="#e27e8c"/><path d="M0 2.4h0.7v0.6h-0.7zM0 13.2h0.7v0.6h-0.7zM0 13.8h0.7v0.6h-0.7zM0 17.4h0.7v0.6h-0.7zM0 18h0.7v0.6h-0.7zM0 19.2h0.7v0.6h-0.7zM0.7 0h0.7v0.6h-0.7zM0.7 1.2h0.7v0.6h-0.7zM0.7 2.4h0.7v0.6h-0.7zM0.7 6h0.7v0.6h-0.7zM0.7 7.2h0.7v0.6h-0.7zM0.7 10.8h0.7v0.6h-0.7zM0.7 12.6h0.7v0.6h-0.7zM0.7 16.8h0.7v0.6h-0.7zM0.7 18h0.7v0.6h-0.7zM0.7 23.4h0.7v0.6h-0.7zM1.4 2.4h0.7v0.6h-0.7zM1.4 5.4h0.7v0.6h-0.7zM1.4 6h0.7v0.6h-0.7zM1.4 8.4h0.7v0.6h-0.7zM1.4 9h0.7v0.6h-0.7zM1.4 9.6h0.7v0.6h-0.7zM1.4 13.8h0.7v0.6h-0.7zM1.4 16.2h0.7v0.6h-0.7zM1.4 18.6h0.7v0.6h-0.7zM1.4 22.2h0.7v0.6h-0.7zM1.4 23.4h0.7v0.6h-0.7zM2.8 0h0.7v0.6h-0.7zM2.8 1.2h0.7v0.6h-0.7zM2.8 1.8h0.7v0.6h-0.7zM2.8 4.8h0.7v0.6h-0.7zM2.8 5.4h0.7v0.6h-0.7zM2.8 6.6h0.7v0.6h-0.7zM2.8 7.2h0.7v0.6h-0.7zM2.8 8.4h0.7v0.6h-0.7zM2.8 9.6h0.7v0.6h-0.7zM2.8 11.4h0.7v0.6h-0.7zM2.8 12h0.7v0.6h-0.7zM2.8 12.6h0.7v0.6h-0.7zM2.8 13.2h0.7v0.6h-0.7zM2.8 14.4h0.7v0.6h-0.7zM2.8 15.6h0.7v0.6h-0.7zM2.8 16.8h0.7v0.6h-0.7zM2.8 18.6h0.7v0.6h-0.7zM2.8 20.4h0.7v0.6h-0.7zM2.8 22.2h0.7v0.6h-0.7zM2.8 22.8h0.7v0.6h-0.7zM2.8 23.4h0.7v0.6h-0.7zM3.5 10.2h0.7v0.6h-0.7zM3.5 20.4h0.7v0.6h-0.7zM4.2 0h0.7v0.6h-0.7zM4.2 0.6h0.7v0.6h-0.7zM4.2 1.2h0.7v0.6h-0.7zM4.2 9h0.7v0.6h-0.7zM4.2 9.6h0.7v0.6h-0.7zM4.2 10.8h0.7v0.6h-0.7zM4.2 11.4h0.7v0.6h-0.7zM4.2 12.6h0.7v0.6h-0.7zM4.2 14.4h0.7v0.6h-0.7zM4.2 15h0.7v0.6h-0.7zM4.2 15.6h0.7v0.6h-0.7zM4.2 20.4h0.7v0.6h-0.7zM4.9 3.6h0.7v0.6h-0.7zM4.9 11.4h0.7v0.6h-0.7zM4.9 13.2h0.7v0.6h-0.7zM4.9 16.8h0.7v0.6h-0.7zM4.9 19.8h0.7v0.6h-0.7zM4.9 21.6h0.7v0.6h-0.7zM5.6 1.8h0.7v0.6h-0.7zM5.6 2.4h0.7v0.6h-0.7zM5.6 3.6h0.7v0.6h-0.7zM5.6 4.8h0.7v0.6h-0.7zM5.6 6h0.7v0.6h-0.7zM5.6 6.6h0.7v0.6h-0.7zM5.6 7.2h0.7v0.6h-0.7zM5.6 15.6h0.7v0.6h-0.7zM5.6 17.4h0.7v0.6h-0.7zM5.6 18.6h0.7v0.6h-0.7zM5.6 19.8h0.7v0.6h-0.7zM5.6 22.2h0.7v0.6h-0.7zM5.6 23.4h0.7v0.6h-0.7zM6.3 1.2h0.7v0.6h-0.7zM6.3 3h0.7v0.6h-0.7zM6.3 4.8h0.7v0.6h-0.7zM6.3 10.8h0.7v0.6h-0.7zM6.3 12h0.7v0.6h-0.7zM6.3 15h0.7v0.6h-0.7zM6.3 22.8h0.7v0.6h-0.7zM7 3h0.7v0.6h-0.7zM7 4.8h0.7v0.6h-0.7zM7.7 0h0.7v0.6h-0.7zM7.7 1.2h0.7v0.6h-0.7zM7.7 6h0.7v0.6h-0.7zM7.7 6.6h0.7v0.6h-0.7zM7.7 7.2h0.7v0.6h-0.7zM7.7 9h0.7v0.6h-0.7zM7.7 9.6h0.7v0.6h-0.7zM7.7 10.2h0.7v0.6h-0.7zM7.7 10.8h0.7v0.6h-0.7zM7.7 18.6h0.7v0.6h-0.7zM7.7 19.8h0.7v0.6h-0.7zM7.7 22.2h0.7v0.6h-0.7zM8.4 1.2h0.7v0.6h-0.7zM8.4 2.4h0.7v0.6h-0.7zM8.4 3h0.7v0.6h-0.7zM8.4 3.6h0.7v0.6h-0.7zM8.4 8.4h0.7v0.6h-0.7zM8.4 10.8h0.7v0.6h-0.7zM8.4 14.4h0.7v0.6h-0.7zM8.4 19.8h0.7v0.6h-0.7zM8.4 21.6h0.7v0.6h-0.7zM8.4 22.2h0.7v0.6h-0.7zM9.1 3.6h0.7v0.6h-0.7zM9.1 4.8h0.7v0.6h-0.7zM9.1 6.6h0.7v0.6h-0.7zM9.1 7.8h0.7v0.6h-0.7zM9.1 10.8h0.7v0.6h-0.7zM9.1 11.4h0.7v0.6h-0.7zM9.1 13.8h0.7v0.6h-0.7zM9.1 15.6h0.7v0.6h-0.7zM9.1 19.2h0.7v0.6h-0.7zM9.8 0h0.7v0.6h-0.7zM9.8 0.6h0.7v0.6h-0.7zM9.8 5.4h0.7v0.6h-0.7zM9.8 8.4h0.7v0.6h-0.7zM9.8 12.6h0.7v0.6h-0.7zM9.8 15h0.7v0.6h-0.7zM9.8 18h0.7v0.6h-0.7zM9.8 19.8h0.7v0.6h-0.7zM10.5 0h0.7v0.6h-0.7zM10.5 0.6h0.7v0.6h-0.7zM10.5 3.6h0.7v0.6h-0.7zM10.5 4.8h0.7v0.6h-0.7zM10.5 12.6h0.7v0.6h-0.7zM10.5 14.4h0.7v0.6h-0.7zM10.5 16.2h0.7v0.6h-0.7zM10.5 19.8h0.7v0.6h-0.7zM10.5 20.4h0.7v0.6h-0.7zM10.5 23.4h0.7v0.6h-0.7zM11.2 0h0.7v0.6h-0.7zM11.2 0.6h0.7v0.6h-0.7zM11.2 1.2h0.7v0.6h-0.7zM11.2 9h0.7v0.6h-0.7zM11.2 13.2h0.7v0.6h-0.7zM11.2 15h0.7v0.6h-0.7zM11.2 18h0.7v0.6h-0.7zM11.2 19.8h0.7v0.6h-0.7zM11.2 22.2h0.7v0.6h-0.7zM11.9 1.2h0.7v0.6h-0.7zM11.9 13.8h0.7v0.6h-0.7zM11.9 16.2h0.7v0.6h-0.7zM11.9 16.8h0.7v0.6h-0.7zM11.9 18h0.7v0.6h-0.7zM11.9 19.2h0.7v0.6h-0.7zM11.9 19.8h0.7v0.6h-0.7zM12.6 1.2h0.7v0.6h-0.7zM12.6 7.2h0.7v0.6h-0.7zM12.6 9.6h0.7v0.6h-0.7zM12.6 16.2h0.7v0.6h-0.7zM12.6 18h0.7v0.6h-0.7zM12.6 18.6h0.7v0.6h-0.7zM12.6 19.2h0.7v0.6h-0.7zM12.6 21.6h0.7v0.6h-0.7zM13.3 6h0.7v0.6h-0.7zM13.3 7.2h0.7v0.6h-0.7zM13.3 11.4h0.7v0.6h-0.7zM13.3 23.4h0.7v0.6h-0.7zM14 7.2h0.7v0.6h-0.7zM14.7 2.4h0.7v0.6h-0.7zM14.7 3.6h0.7v0.6h-0.7zM14.7 16.2h0.7v0.6h-0.7zM14.7 17.4h0.7v0.6h-0.7zM15.4 1.2h0.7v0.6h-0.7zM15.4 3.6h0.7v0.6h-0.7zM15.4 4.2h0.7v0.6h-0.7zM15.4 5.4h0.7v0.6h-0.7zM15.4 6.6h0.7v0.6h-0.7zM15.4 7.2h0.7v0.6h-0.7zM15.4 9h0.7v0.6h-0.7zM15.4 9.6h0.7v0.6h-0.7zM15.4 10.2h0.7v0.6h-0.7zM15.4 10.8h0.7v0.6h-0.7zM15.4 12.6h0.7v0.6h-0.7zM15.4 13.2h0.7v0.6h-0.7zM15.4 13.8h0.7v0.6h-0.7zM15.4 14.4h0.7v0.6h-0.7zM15.4 15h0.7v0.6h-0.7zM15.4 15.6h0.7v0.6h-0.7zM15.4 16.2h0.7v0.6h-0.7zM15.4 16.8h0.7v0.6h-0.7zM15.4 18.6h0.7v0.6h-0.7zM15.4 19.2h0.7v0.6h-0.7zM15.4 22.2h0.7v0.6h-0.7zM16.1 4.8h0.7v0.6h-0.7zM16.1 7.2h0.7v0.6h-0.7zM16.1 9.6h0.7v0.6h-0.7zM16.1 12.6h0.7v0.6h-0.7zM16.1 13.2h0.7v0.6h-0.7zM16.1 14.4h0.7v0.6h-0.7zM16.1 19.8h0.7v0.6h-0.7zM16.8 0h0.7v0.6h-0.7zM16.8 5.4h0.7v0.6h-0.7zM16.8 6h0.7v0.6h-0.7zM16.8 12h0.7v0.6h-0.7zM16.8 12.6h0.7v0.6h-0.7zM16.8 14.4h0.7v0.6h-0.7zM16.8 15.6h0.7v0.6h-0.7zM16.8 17.4h0.7v0.6h-0.7zM16.8 18.6h0.7v0.6h-0.7zM16.8 19.8h0.7v0.6h-0.7zM16.8 20.4h0.7v0.6h-0.7zM16.8 23.4h0.7v0.6h-0.7zM17.5 0h0.7v0.6h-0.7zM17.5 2.4h0.7v0.6h-0.7zM17.5 3.6h0.7v0.6h-0.7zM17.5 4.8h0.7v0.6h-0.7zM17.5 8.4h0.7v0.6h-0.7zM17.5 9.6h0.7v0.6h-0.7zM17.5 12h0.7v0.6h-0.7zM17.5 14.4h0.7v0.6h-0.7zM17.5 18h0.7v0.6h-0.7zM17.5 18.6h0.7v0.6h-0.7zM17.5 22.8h0.7v0.6h-0.7zM18.2 7.2h0.7v0.6h-0.7zM18.2 7.8h0.7v0.6h-0.7zM18.2 17.4h0.7v0.6h-0.7zM18.2 18.6h0.7v0.6h-0.7zM18.9 4.2h0.7v0.6h-0.7zM19.6 3.6h0.7v0.6h-0.7zM19.6 5.4h0.7v0.6h-0.7zM19.6 7.8h0.7v0.6h-0.7zM19.6 10.2h0.7v0.6h-0.7zM19.6 12.6h0.7v0.6h-0.7zM19.6 15.6h0.7v0.6h-0.7zM19.6 18h0.7v0.6h-0.7zM19.6 18.6h0.7v0.6h-0.7zM19.6 21.6h0.7v0.6h-0.7zM20.3 1.2h0.7v0.6h-0.7zM20.3 11.4h0.7v0.6h-0.7zM20.3 15h0.7v0.6h-0.7zM20.3 18.6h0.7v0.6h-0.7zM20.3 19.8h0.7v0.6h-0.7zM20.3 21h0.7v0.6h-0.7zM21 0h0.7v0.6h-0.7zM21 0.6h0.7v0.6h-0.7zM21 2.4h0.7v0.6h-0.7zM21 3.6h0.7v0.6h-0.7zM21 6h0.7v0.6h-0.7zM21 7.8h0.7v0.6h-0.7zM21 10.2h0.7v0.6h-0.7zM21 11.4h0.7v0.6h-0.7zM21 12.6h0.7v0.6h-0.7zM21 13.2h0.7v0.6h-0.7zM21 15.6h0.7v0.6h-0.7zM21 16.8h0.7v0.6h-0.7zM21 18h0.7v0.6h-0.7zM21 21h0.7v0.6h-0.7zM21 22.2h0.7v0.6h-0.7zM21.7 0h0.7v0.6h-0.7zM21.7 1.8h0.7v0.6h-0.7zM21.7 3.6h0.7v0.6h-0.7zM21.7 5.4h0.7v0.6h-0.7zM21.7 6h0.7v0.6h-0.7zM21.7 7.8h0.7v0.6h-0.7zM21.7 8.4h0.7v0.6h-0.7zM21.7 9.6h0.7v0.6h-0.7zM21.7 11.4h0.7v0.6h-0.7zM21.7 13.2h0.7v0.6h-0.7zM21.7 13.8h0.7v0.6h-0.7zM21.7 14.4h0.7v0.6h-0.7zM21.7 16.8h0.7v0.6h-0.7zM21.7 18.6h0.7v0.6h-0.7zM22.4 4.2h0.7v0.6h-0.7zM22.4 7.2h0.7v0.6h-0.7zM22.4 8.4h0.7v0.6h-0.7zM22.4 9.6h0.7v0.6h-0.7zM22.4 10.2h0.7v0.6h-0.7zM22.4 15h0.7v0.6h-0.7zM22.4 18.6h0.7v0.6h-0.7zM22.4 20.4h0.7v0.6h-0.7zM23.1 0.6h0.7v0.6h-0.7zM23.1 8.4h0.7v0.6h-0.7zM23.1 9h0.7v0.6h-0.7zM23.1 10.8h0.7v0.6h-0.7zM23.1 12.6h0.7v0.6h-0.7zM23.1 15.6h0.7v0.6h-0.7zM23.1 16.2h0.7v0.6h-0.7zM23.1 18.6h0.7v0.6h-0.7zM23.8 13.2h0.7v0.6h-0.7zM23.8 20.4h0.7v0.6h-0.7zM23.8 22.2h0.7v0.6h-0.7zM24.5 3.6h0.7v0.6h-0.7zM24.5 4.2h0.7v0.6h-0.7zM24.5 4.8h0.7v0.6h-0.7zM24.5 12.6h0.7v0.6h-0.7zM24.5 15h0.7v0.6h-0.7zM24.5 15.6h0.7v0.6h-0.7zM24.5 16.8h0.7v0.6h-0.7zM24.5 18h0.7v0.6h-0.7zM25.2 13.2h0.7v0.6h-0.7zM25.2 22.8h0.7v0.6h-0.7zM25.9 1.2h0.7v0.6h-0.7zM25.9 1.8h0.7v0.6h-0.7zM25.9 3h0.7v0.6h-0.7zM25.9 7.8h0.7v0.6h-0.7zM25.9 10.8h0.7v0.6h-0.7zM25.9 11.4h0.7v0.6h-0.7zM25.9 13.2h0.7v0.6h-0.7zM25.9 16.8h0.7v0.6h-0.7zM25.9 17.4h0.7v0.6h-0.7zM25.9 21.6h0.7v0.6h-0.7zM26.6 2.4h0.7v0.6h-0.7zM26.6 3.6h0.7v0.6h-0.7zM26.6 4.2h0.7v0.6h-0.7zM26.6 7.2h0.7v0.6h-0.7zM26.6 8.4h0.7v0.6h-0.7zM26.6 10.8h0.7v0.6h-0.7zM26.6 12h0.7v0.6h-0.7zM26.6 12.6h0.7v0.6h-0.7zM26.6 13.8h0.7v0.6h-0.7zM26.6 14.4h0.7v0.6h-0.7zM26.6 15.6h0.7v0.6h-0.7zM26.6 18.6h0.7v0.6h-0.7zM26.6 22.2h0.7v0.6h-0.7zM27.3 1.2h0.7v0.6h-0.7zM27.3 5.4h0.7v0.6h-0.7zM27.3 9.6h0.7v0.6h-0.7zM27.3 13.8h0.7v0.6h-0.7zM27.3 21.6h0.7v0.6h-0.7z" fill="#a6d8da"/></pattern>
<pattern id="pq" width="28" height="24" patternUnits="userSpaceOnUse"><rect width="28" height="24" fill="#f7fafa"/><path d="M0 0h0.7v0.6h-0.7zM0 1.8h0.7v0.6h-0.7zM0 2.4h0.7v0.6h-0.7zM0 4.2h0.7v0.6h-0.7zM0 7.8h0.7v0.6h-0.7zM0 12h0.7v0.6h-0.7zM0 15.6h0.7v0.6h-0.7zM0 17.4h0.7v0.6h-0.7zM0 19.8h0.7v0.6h-0.7zM0 20.4h0.7v0.6h-0.7zM0 22.2h0.7v0.6h-0.7zM0 23.4h0.7v0.6h-0.7zM0.7 4.2h0.7v0.6h-0.7zM0.7 4.8h0.7v0.6h-0.7zM0.7 8.4h0.7v0.6h-0.7zM0.7 12h0.7v0.6h-0.7zM0.7 23.4h0.7v0.6h-0.7zM1.4 0h0.7v0.6h-0.7zM1.4 0.6h0.7v0.6h-0.7zM1.4 2.4h0.7v0.6h-0.7zM1.4 6.6h0.7v0.6h-0.7zM1.4 10.2h0.7v0.6h-0.7zM1.4 10.8h0.7v0.6h-0.7zM1.4 17.4h0.7v0.6h-0.7zM1.4 22.2h0.7v0.6h-0.7zM2.1 0.6h0.7v0.6h-0.7zM2.1 3h0.7v0.6h-0.7zM2.1 6h0.7v0.6h-0.7zM2.1 9h0.7v0.6h-0.7zM2.1 10.8h0.7v0.6h-0.7zM2.1 16.2h0.7v0.6h-0.7zM2.1 18h0.7v0.6h-0.7zM2.1 22.2h0.7v0.6h-0.7zM2.8 0.6h0.7v0.6h-0.7zM2.8 4.8h0.7v0.6h-0.7zM2.8 5.4h0.7v0.6h-0.7zM2.8 22.8h0.7v0.6h-0.7zM3.5 1.2h0.7v0.6h-0.7zM3.5 4.8h0.7v0.6h-0.7zM3.5 10.8h0.7v0.6h-0.7zM3.5 19.8h0.7v0.6h-0.7zM3.5 20.4h0.7v0.6h-0.7zM3.5 22.2h0.7v0.6h-0.7zM3.5 23.4h0.7v0.6h-0.7zM4.2 0.6h0.7v0.6h-0.7zM4.2 17.4h0.7v0.6h-0.7zM5.6 3h0.7v0.6h-0.7zM5.6 4.8h0.7v0.6h-0.7zM5.6 13.8h0.7v0.6h-0.7zM5.6 14.4h0.7v0.6h-0.7zM5.6 15.6h0.7v0.6h-0.7zM6.3 7.2h0.7v0.6h-0.7zM6.3 10.8h0.7v0.6h-0.7zM6.3 19.2h0.7v0.6h-0.7zM6.3 22.8h0.7v0.6h-0.7zM6.3 23.4h0.7v0.6h-0.7zM7 0.6h0.7v0.6h-0.7zM7 1.2h0.7v0.6h-0.7zM7 1.8h0.7v0.6h-0.7zM7 4.2h0.7v0.6h-0.7zM7 5.4h0.7v0.6h-0.7zM7 7.2h0.7v0.6h-0.7zM7 8.4h0.7v0.6h-0.7zM7 9h0.7v0.6h-0.7zM7 9.6h0.7v0.6h-0.7zM7 10.2h0.7v0.6h-0.7zM7 12.6h0.7v0.6h-0.7zM7 13.8h0.7v0.6h-0.7zM7 15.6h0.7v0.6h-0.7zM7 18.6h0.7v0.6h-0.7zM7 19.8h0.7v0.6h-0.7zM7.7 1.8h0.7v0.6h-0.7zM7.7 4.2h0.7v0.6h-0.7zM7.7 4.8h0.7v0.6h-0.7zM7.7 5.4h0.7v0.6h-0.7zM7.7 9h0.7v0.6h-0.7zM7.7 9.6h0.7v0.6h-0.7zM7.7 17.4h0.7v0.6h-0.7zM7.7 19.2h0.7v0.6h-0.7zM7.7 21h0.7v0.6h-0.7zM7.7 23.4h0.7v0.6h-0.7zM8.4 0h0.7v0.6h-0.7zM8.4 6.6h0.7v0.6h-0.7zM8.4 8.4h0.7v0.6h-0.7zM8.4 13.8h0.7v0.6h-0.7zM8.4 19.8h0.7v0.6h-0.7zM9.1 13.8h0.7v0.6h-0.7zM9.8 6h0.7v0.6h-0.7zM9.8 8.4h0.7v0.6h-0.7zM10.5 1.2h0.7v0.6h-0.7zM10.5 5.4h0.7v0.6h-0.7zM10.5 6.6h0.7v0.6h-0.7zM10.5 10.2h0.7v0.6h-0.7zM10.5 15h0.7v0.6h-0.7zM10.5 18h0.7v0.6h-0.7zM10.5 19.2h0.7v0.6h-0.7zM10.5 21h0.7v0.6h-0.7zM10.5 22.2h0.7v0.6h-0.7zM10.5 22.8h0.7v0.6h-0.7zM11.2 4.8h0.7v0.6h-0.7zM11.2 15h0.7v0.6h-0.7zM11.2 15.6h0.7v0.6h-0.7zM11.2 18.6h0.7v0.6h-0.7zM11.2 23.4h0.7v0.6h-0.7zM11.9 1.2h0.7v0.6h-0.7zM11.9 1.8h0.7v0.6h-0.7zM11.9 5.4h0.7v0.6h-0.7zM11.9 7.8h0.7v0.6h-0.7zM11.9 8.4h0.7v0.6h-0.7zM11.9 11.4h0.7v0.6h-0.7zM11.9 12h0.7v0.6h-0.7zM11.9 13.8h0.7v0.6h-0.7zM11.9 18h0.7v0.6h-0.7zM11.9 19.8h0.7v0.6h-0.7zM11.9 20.4h0.7v0.6h-0.7zM11.9 23.4h0.7v0.6h-0.7zM12.6 1.2h0.7v0.6h-0.7zM12.6 22.8h0.7v0.6h-0.7zM13.3 6.6h0.7v0.6h-0.7zM13.3 12h0.7v0.6h-0.7zM13.3 15.6h0.7v0.6h-0.7zM13.3 21h0.7v0.6h-0.7zM14 0.6h0.7v0.6h-0.7zM14 1.2h0.7v0.6h-0.7zM14 3h0.7v0.6h-0.7zM14 3.6h0.7v0.6h-0.7zM14 4.8h0.7v0.6h-0.7zM14 7.2h0.7v0.6h-0.7zM14 7.8h0.7v0.6h-0.7zM14 8.4h0.7v0.6h-0.7zM14 10.8h0.7v0.6h-0.7zM14 12.6h0.7v0.6h-0.7zM14 15h0.7v0.6h-0.7zM14 18.6h0.7v0.6h-0.7zM14 19.8h0.7v0.6h-0.7zM14 22.2h0.7v0.6h-0.7zM14 22.8h0.7v0.6h-0.7zM14.7 0.6h0.7v0.6h-0.7zM14.7 9h0.7v0.6h-0.7zM14.7 9.6h0.7v0.6h-0.7zM14.7 11.4h0.7v0.6h-0.7zM14.7 16.8h0.7v0.6h-0.7zM14.7 22.8h0.7v0.6h-0.7zM14.7 23.4h0.7v0.6h-0.7zM15.4 0.6h0.7v0.6h-0.7zM15.4 1.2h0.7v0.6h-0.7zM15.4 1.8h0.7v0.6h-0.7zM15.4 3.6h0.7v0.6h-0.7zM15.4 5.4h0.7v0.6h-0.7zM15.4 7.2h0.7v0.6h-0.7zM15.4 9.6h0.7v0.6h-0.7zM15.4 10.2h0.7v0.6h-0.7zM15.4 10.8h0.7v0.6h-0.7zM15.4 12.6h0.7v0.6h-0.7zM15.4 13.8h0.7v0.6h-0.7zM15.4 14.4h0.7v0.6h-0.7zM15.4 15.6h0.7v0.6h-0.7zM15.4 19.8h0.7v0.6h-0.7zM15.4 23.4h0.7v0.6h-0.7zM16.1 0h0.7v0.6h-0.7zM16.1 0.6h0.7v0.6h-0.7zM16.1 1.2h0.7v0.6h-0.7zM16.1 1.8h0.7v0.6h-0.7zM16.1 5.4h0.7v0.6h-0.7zM16.1 7.8h0.7v0.6h-0.7zM16.1 9h0.7v0.6h-0.7zM16.1 12.6h0.7v0.6h-0.7zM16.1 16.8h0.7v0.6h-0.7zM16.1 17.4h0.7v0.6h-0.7zM16.1 19.2h0.7v0.6h-0.7zM16.8 5.4h0.7v0.6h-0.7zM16.8 7.8h0.7v0.6h-0.7zM16.8 8.4h0.7v0.6h-0.7zM16.8 9h0.7v0.6h-0.7zM16.8 9.6h0.7v0.6h-0.7zM16.8 12.6h0.7v0.6h-0.7zM16.8 15.6h0.7v0.6h-0.7zM16.8 17.4h0.7v0.6h-0.7zM16.8 20.4h0.7v0.6h-0.7zM16.8 22.2h0.7v0.6h-0.7zM17.5 7.8h0.7v0.6h-0.7zM17.5 8.4h0.7v0.6h-0.7zM17.5 9h0.7v0.6h-0.7zM17.5 13.2h0.7v0.6h-0.7zM17.5 19.8h0.7v0.6h-0.7zM18.2 3.6h0.7v0.6h-0.7zM18.2 12h0.7v0.6h-0.7zM18.2 12.6h0.7v0.6h-0.7zM18.2 14.4h0.7v0.6h-0.7zM18.2 17.4h0.7v0.6h-0.7zM18.2 18h0.7v0.6h-0.7zM18.2 23.4h0.7v0.6h-0.7zM18.9 13.8h0.7v0.6h-0.7zM19.6 10.8h0.7v0.6h-0.7zM19.6 14.4h0.7v0.6h-0.7zM19.6 19.8h0.7v0.6h-0.7zM20.3 4.2h0.7v0.6h-0.7zM20.3 10.8h0.7v0.6h-0.7zM20.3 18.6h0.7v0.6h-0.7zM20.3 19.8h0.7v0.6h-0.7zM20.3 22.2h0.7v0.6h-0.7zM21 1.8h0.7v0.6h-0.7zM21 6.6h0.7v0.6h-0.7zM21 10.2h0.7v0.6h-0.7zM21 10.8h0.7v0.6h-0.7zM21 12h0.7v0.6h-0.7zM21 13.8h0.7v0.6h-0.7zM21 20.4h0.7v0.6h-0.7zM22.4 0.6h0.7v0.6h-0.7zM22.4 1.2h0.7v0.6h-0.7zM22.4 1.8h0.7v0.6h-0.7zM22.4 2.4h0.7v0.6h-0.7zM22.4 5.4h0.7v0.6h-0.7zM22.4 6h0.7v0.6h-0.7zM22.4 7.8h0.7v0.6h-0.7zM22.4 9h0.7v0.6h-0.7zM22.4 13.8h0.7v0.6h-0.7zM22.4 15.6h0.7v0.6h-0.7zM22.4 16.8h0.7v0.6h-0.7zM22.4 21.6h0.7v0.6h-0.7zM23.1 0h0.7v0.6h-0.7zM23.1 2.4h0.7v0.6h-0.7zM23.1 3.6h0.7v0.6h-0.7zM23.1 6h0.7v0.6h-0.7zM23.1 8.4h0.7v0.6h-0.7zM23.1 9h0.7v0.6h-0.7zM23.1 9.6h0.7v0.6h-0.7zM23.1 12h0.7v0.6h-0.7zM23.1 13.2h0.7v0.6h-0.7zM23.1 14.4h0.7v0.6h-0.7zM23.1 15.6h0.7v0.6h-0.7zM23.1 16.2h0.7v0.6h-0.7zM23.1 19.8h0.7v0.6h-0.7zM23.1 21h0.7v0.6h-0.7zM23.1 21.6h0.7v0.6h-0.7zM23.1 22.8h0.7v0.6h-0.7zM23.8 0.6h0.7v0.6h-0.7zM23.8 3h0.7v0.6h-0.7zM23.8 3.6h0.7v0.6h-0.7zM23.8 4.8h0.7v0.6h-0.7zM23.8 6h0.7v0.6h-0.7zM23.8 9h0.7v0.6h-0.7zM23.8 13.2h0.7v0.6h-0.7zM23.8 13.8h0.7v0.6h-0.7zM23.8 15.6h0.7v0.6h-0.7zM23.8 16.8h0.7v0.6h-0.7zM23.8 19.8h0.7v0.6h-0.7zM23.8 20.4h0.7v0.6h-0.7zM23.8 21h0.7v0.6h-0.7zM23.8 22.2h0.7v0.6h-0.7zM24.5 3h0.7v0.6h-0.7zM24.5 4.2h0.7v0.6h-0.7zM24.5 6.6h0.7v0.6h-0.7zM24.5 7.8h0.7v0.6h-0.7zM24.5 8.4h0.7v0.6h-0.7zM24.5 10.8h0.7v0.6h-0.7zM24.5 12h0.7v0.6h-0.7zM24.5 15h0.7v0.6h-0.7zM24.5 21.6h0.7v0.6h-0.7zM25.2 0h0.7v0.6h-0.7zM25.2 5.4h0.7v0.6h-0.7zM25.2 22.8h0.7v0.6h-0.7zM25.2 23.4h0.7v0.6h-0.7zM25.9 0h0.7v0.6h-0.7zM25.9 1.2h0.7v0.6h-0.7zM25.9 3.6h0.7v0.6h-0.7zM25.9 4.2h0.7v0.6h-0.7zM25.9 4.8h0.7v0.6h-0.7zM25.9 8.4h0.7v0.6h-0.7zM25.9 11.4h0.7v0.6h-0.7zM25.9 12h0.7v0.6h-0.7zM25.9 14.4h0.7v0.6h-0.7zM25.9 15h0.7v0.6h-0.7zM25.9 16.8h0.7v0.6h-0.7zM25.9 18.6h0.7v0.6h-0.7zM25.9 19.8h0.7v0.6h-0.7zM25.9 22.2h0.7v0.6h-0.7zM25.9 22.8h0.7v0.6h-0.7zM26.6 18h0.7v0.6h-0.7zM26.6 19.2h0.7v0.6h-0.7zM26.6 20.4h0.7v0.6h-0.7zM26.6 23.4h0.7v0.6h-0.7zM27.3 1.8h0.7v0.6h-0.7zM27.3 20.4h0.7v0.6h-0.7zM27.3 22.2h0.7v0.6h-0.7z" fill="#e27e8c"/><path d="M0 3h0.7v0.6h-0.7zM0 3.6h0.7v0.6h-0.7zM0 6h0.7v0.6h-0.7zM0 7.2h0.7v0.6h-0.7zM0 9.6h0.7v0.6h-0.7zM0 22.8h0.7v0.6h-0.7zM0.7 0h0.7v0.6h-0.7zM0.7 1.8h0.7v0.6h-0.7zM0.7 5.4h0.7v0.6h-0.7zM0.7 7.8h0.7v0.6h-0.7zM0.7 10.2h0.7v0.6h-0.7zM0.7 15h0.7v0.6h-0.7zM0.7 15.6h0.7v0.6h-0.7zM0.7 16.2h0.7v0.6h-0.7zM0.7 18h0.7v0.6h-0.7zM0.7 19.2h0.7v0.6h-0.7zM0.7 20.4h0.7v0.6h-0.7zM0.7 22.2h0.7v0.6h-0.7zM1.4 7.2h0.7v0.6h-0.7zM1.4 9.6h0.7v0.6h-0.7zM1.4 13.2h0.7v0.6h-0.7zM1.4 16.8h0.7v0.6h-0.7zM1.4 18.6h0.7v0.6h-0.7zM1.4 19.2h0.7v0.6h-0.7zM1.4 20.4h0.7v0.6h-0.7zM1.4 21h0.7v0.6h-0.7zM2.1 1.2h0.7v0.6h-0.7zM2.1 1.8h0.7v0.6h-0.7zM2.1 3.6h0.7v0.6h-0.7zM2.1 4.8h0.7v0.6h-0.7zM2.1 8.4h0.7v0.6h-0.7zM2.1 10.2h0.7v0.6h-0.7zM2.1 11.4h0.7v0.6h-0.7zM2.1 15.6h0.7v0.6h-0.7zM2.1 21.6h0.7v0.6h-0.7zM2.8 3h0.7v0.6h-0.7zM2.8 8.4h0.7v0.6h-0.7zM2.8 9h0.7v0.6h-0.7zM2.8 11.4h0.7v0.6h-0.7zM2.8 17.4h0.7v0.6h-0.7zM2.8 18h0.7v0.6h-0.7zM2.8 20.4h0.7v0.6h-0.7zM2.8 21h0.7v0.6h-0.7zM3.5 0.6h0.7v0.6h-0.7zM3.5 1.8h0.7v0.6h-0.7zM3.5 3h0.7v0.6h-0.7zM3.5 6h0.7v0.6h-0.7zM3.5 9h0.7v0.6h-0.7zM3.5 10.2h0.7v0.6h-0.7zM3.5 13.8h0.7v0.6h-0.7zM3.5 16.8h0.7v0.6h-0.7zM3.5 19.2h0.7v0.6h-0.7zM3.5 21h0.7v0.6h-0.7zM4.2 0h0.7v0.6h-0.7zM4.2 1.8h0.7v0.6h-0.7zM4.2 4.2h0.7v0.6h-0.7zM4.2 4.8h0.7v0.6h-0.7zM4.2 5.4h0.7v0.6h-0.7zM4.2 6h0.7v0.6h-0.7zM4.2 6.6h0.7v0.6h-0.7zM4.2 10.2h0.7v0.6h-0.7zM4.2 11.4h0.7v0.6h-0.7zM4.2 12.6h0.7v0.6h-0.7zM4.2 13.2h0.7v0.6h-0.7zM4.2 13.8h0.7v0.6h-0.7zM4.2 15h0.7v0.6h-0.7zM4.2 18h0.7v0.6h-0.7zM4.2 19.8h0.7v0.6h-0.7zM4.2 20.4h0.7v0.6h-0.7zM4.2 22.2h0.7v0.6h-0.7zM4.2 22.8h0.7v0.6h-0.7zM4.9 1.2h0.7v0.6h-0.7zM4.9 2.4h0.7v0.6h-0.7zM4.9 3.6h0.7v0.6h-0.7zM4.9 4.2h0.7v0.6h-0.7zM4.9 5.4h0.7v0.6h-0.7zM4.9 6.6h0.7v0.6h-0.7zM4.9 7.8h0.7v0.6h-0.7zM4.9 9.6h0.7v0.6h-0.7zM4.9 11.4h0.7v0.6h-0.7zM4.9 12h0.7v0.6h-0.7zM4.9 13.2h0.7v0.6h-0.7zM4.9 13.8h0.7v0.6h-0.7zM4.9 14.4h0.7v0.6h-0.7zM4.9 15h0.7v0.6h-0.7zM4.9 15.6h0.7v0.6h-0.7zM4.9 17.4h0.7v0.6h-0.7zM4.9 19.2h0.7v0.6h-0.7zM4.9 19.8h0.7v0.6h-0.7zM4.9 21.6h0.7v0.6h-0.7zM4.9 23.4h0.7v0.6h-0.7zM5.6 0h0.7v0.6h-0.7zM5.6 1.8h0.7v0.6h-0.7zM5.6 3.6h0.7v0.6h-0.7zM5.6 4.2h0.7v0.6h-0.7zM5.6 6.6h0.7v0.6h-0.7zM5.6 7.8h0.7v0.6h-0.7zM5.6 9h0.7v0.6h-0.7zM5.6 12.6h0.7v0.6h-0.7zM5.6 16.2h0.7v0.6h-0.7zM5.6 18.6h0.7v0.6h-0.7zM5.6 20.4h0.7v0.6h-0.7zM5.6 22.8h0.7v0.6h-0.7zM6.3 0.6h0.7v0.6h-0.7zM6.3 1.2h0.7v0.6h-0.7zM6.3 2.4h0.7v0.6h-0.7zM6.3 3.6h0.7v0.6h-0.7zM6.3 4.2h0.7v0.6h-0.7zM6.3 5.4h0.7v0.6h-0.7zM6.3 7.8h0.7v0.6h-0.7zM6.3 10.2h0.7v0.6h-0.7zM6.3 11.4h0.7v0.6h-0.7zM6.3 12.6h0.7v0.6h-0.7zM6.3 14.4h0.7v0.6h-0.7zM6.3 16.8h0.7v0.6h-0.7zM6.3 21h0.7v0.6h-0.7zM7 16.2h0.7v0.6h-0.7zM7 16.8h0.7v0.6h-0.7zM7.7 1.2h0.7v0.6h-0.7zM7.7 2.4h0.7v0.6h-0.7zM7.7 3h0.7v0.6h-0.7zM7.7 6h0.7v0.6h-0.7zM7.7 7.2h0.7v0.6h-0.7zM7.7 7.8h0.7v0.6h-0.7zM7.7 10.2h0.7v0.6h-0.7zM7.7 10.8h0.7v0.6h-0.7zM7.7 12h0.7v0.6h-0.7zM7.7 22.2h0.7v0.6h-0.7zM8.4 0.6h0.7v0.6h-0.7zM8.4 4.8h0.7v0.6h-0.7zM8.4 5.4h0.7v0.6h-0.7zM8.4 7.2h0.7v0.6h-0.7zM8.4 13.2h0.7v0.6h-0.7zM8.4 16.2h0.7v0.6h-0.7zM8.4 16.8h0.7v0.6h-0.7zM8.4 18h0.7v0.6h-0.7zM8.4 18.6h0.7v0.6h-0.7zM8.4 19.2h0.7v0.6h-0.7zM9.1 2.4h0.7v0.6h-0.7zM9.1 4.2h0.7v0.6h-0.7zM9.1 5.4h0.7v0.6h-0.7zM9.1 6h0.7v0.6h-0.7zM9.1 7.2h0.7v0.6h-0.7zM9.1 7.8h0.7v0.6h-0.7zM9.1 9h0.7v0.6h-0.7zM9.1 9.6h0.7v0.6h-0.7zM9.1 15h0.7v0.6h-0.7zM9.1 15.6h0.7v0.6h-0.7zM9.1 16.2h0.7v0.6h-0.7zM9.1 16.8h0.7v0.6h-0.7zM9.1 20.4h0.7v0.6h-0.7zM9.8 1.8h0.7v0.6h-0.7zM9.8 2.4h0.7v0.6h-0.7zM9.8 3h0.7v0.6h-0.7zM9.8 4.2h0.7v0.6h-0.7zM9.8 5.4h0.7v0.6h-0.7zM9.8 6.6h0.7v0.6h-0.7zM9.8 7.2h0.7v0.6h-0.7zM9.8 7.8h0.7v0.6h-0.7zM9.8 10.8h0.7v0.6h-0.7zM9.8 11.4h0.7v0.6h-0.7zM9.8 12h0.7v0.6h-0.7zM9.8 12.6h0.7v0.6h-0.7zM9.8 13.2h0.7v0.6h-0.7zM9.8 13.8h0.7v0.6h-0.7zM9.8 15.6h0.7v0.6h-0.7zM9.8 16.8h0.7v0.6h-0.7zM9.8 19.2h0.7v0.6h-0.7zM9.8 19.8h0.7v0.6h-0.7zM9.8 21.6h0.7v0.6h-0.7zM10.5 8.4h0.7v0.6h-0.7zM10.5 10.8h0.7v0.6h-0.7zM11.2 1.8h0.7v0.6h-0.7zM11.2 6h0.7v0.6h-0.7zM11.2 10.8h0.7v0.6h-0.7zM11.2 12h0.7v0.6h-0.7zM11.2 13.2h0.7v0.6h-0.7zM11.2 13.8h0.7v0.6h-0.7zM11.2 16.2h0.7v0.6h-0.7zM11.2 17.4h0.7v0.6h-0.7zM11.2 20.4h0.7v0.6h-0.7zM11.2 21h0.7v0.6h-0.7zM11.2 22.2h0.7v0.6h-0.7zM11.9 0h0.7v0.6h-0.7zM11.9 3h0.7v0.6h-0.7zM11.9 6.6h0.7v0.6h-0.7zM11.9 10.8h0.7v0.6h-0.7zM11.9 13.2h0.7v0.6h-0.7zM11.9 15h0.7v0.6h-0.7zM11.9 16.2h0.7v0.6h-0.7zM11.9 16.8h0.7v0.6h-0.7zM11.9 18.6h0.7v0.6h-0.7zM11.9 21.6h0.7v0.6h-0.7zM11.9 22.2h0.7v0.6h-0.7zM12.6 0.6h0.7v0.6h-0.7zM12.6 3h0.7v0.6h-0.7zM12.6 3.6h0.7v0.6h-0.7zM12.6 4.8h0.7v0.6h-0.7zM12.6 7.2h0.7v0.6h-0.7zM12.6 7.8h0.7v0.6h-0.7zM12.6 11.4h0.7v0.6h-0.7zM12.6 12h0.7v0.6h-0.7zM12.6 13.8h0.7v0.6h-0.7zM12.6 15h0.7v0.6h-0.7zM12.6 17.4h0.7v0.6h-0.7zM12.6 18h0.7v0.6h-0.7zM12.6 19.2h0.7v0.6h-0.7zM12.6 21.6h0.7v0.6h-0.7zM12.6 22.2h0.7v0.6h-0.7zM12.6 23.4h0.7v0.6h-0.7zM13.3 1.2h0.7v0.6h-0.7zM13.3 3.6h0.7v0.6h-0.7zM13.3 4.8h0.7v0.6h-0.7zM13.3 6h0.7v0.6h-0.7zM13.3 8.4h0.7v0.6h-0.7zM13.3 9h0.7v0.6h-0.7zM13.3 9.6h0.7v0.6h-0.7zM13.3 10.2h0.7v0.6h-0.7zM13.3 11.4h0.7v0.6h-0.7zM13.3 13.2h0.7v0.6h-0.7zM13.3 16.2h0.7v0.6h-0.7zM13.3 16.8h0.7v0.6h-0.7zM13.3 18.6h0.7v0.6h-0.7zM13.3 19.2h0.7v0.6h-0.7zM13.3 22.2h0.7v0.6h-0.7zM14 10.2h0.7v0.6h-0.7zM14.7 1.2h0.7v0.6h-0.7zM14.7 4.8h0.7v0.6h-0.7zM14.7 6.6h0.7v0.6h-0.7zM14.7 7.8h0.7v0.6h-0.7zM14.7 10.2h0.7v0.6h-0.7zM14.7 13.8h0.7v0.6h-0.7zM14.7 14.4h0.7v0.6h-0.7zM14.7 15h0.7v0.6h-0.7zM14.7 19.2h0.7v0.6h-0.7zM14.7 20.4h0.7v0.6h-0.7zM14.7 21h0.7v0.6h-0.7zM14.7 21.6h0.7v0.6h-0.7zM15.4 6.6h0.7v0.6h-0.7zM15.4 8.4h0.7v0.6h-0.7zM15.4 13.2h0.7v0.6h-0.7zM15.4 15h0.7v0.6h-0.7zM15.4 18h0.7v0.6h-0.7zM16.1 4.2h0.7v0.6h-0.7zM16.1 9.6h0.7v0.6h-0.7zM16.1 10.2h0.7v0.6h-0.7zM16.1 12h0.7v0.6h-0.7zM16.1 15.6h0.7v0.6h-0.7zM16.1 22.2h0.7v0.6h-0.7zM16.8 6.6h0.7v0.6h-0.7zM16.8 10.8h0.7v0.6h-0.7zM16.8 16.2h0.7v0.6h-0.7zM16.8 19.8h0.7v0.6h-0.7zM17.5 2.4h0.7v0.6h-0.7zM17.5 3.6h0.7v0.6h-0.7zM17.5 7.2h0.7v0.6h-0.7zM17.5 9.6h0.7v0.6h-0.7zM17.5 14.4h0.7v0.6h-0.7zM17.5 16.8h0.7v0.6h-0.7zM17.5 18h0.7v0.6h-0.7zM17.5 19.2h0.7v0.6h-0.7zM17.5 21h0.7v0.6h-0.7zM17.5 22.2h0.7v0.6h-0.7zM17.5 22.8h0.7v0.6h-0.7zM17.5 23.4h0.7v0.6h-0.7zM18.2 0h0.7v0.6h-0.7zM18.2 10.2h0.7v0.6h-0.7zM18.2 10.8h0.7v0.6h-0.7zM18.2 21h0.7v0.6h-0.7zM18.2 22.8h0.7v0.6h-0.7zM18.9 0.6h0.7v0.6h-0.7zM18.9 1.8h0.7v0.6h-0.7zM18.9 6h0.7v0.6h-0.7zM18.9 7.8h0.7v0.6h-0.7zM18.9 15.6h0.7v0.6h-0.7zM18.9 16.8h0.7v0.6h-0.7zM18.9 17.4h0.7v0.6h-0.7zM18.9 18h0.7v0.6h-0.7zM18.9 19.2h0.7v0.6h-0.7zM18.9 19.8h0.7v0.6h-0.7zM18.9 20.4h0.7v0.6h-0.7zM18.9 22.8h0.7v0.6h-0.7zM18.9 23.4h0.7v0.6h-0.7zM19.6 0.6h0.7v0.6h-0.7zM19.6 1.2h0.7v0.6h-0.7zM19.6 4.2h0.7v0.6h-0.7zM19.6 5.4h0.7v0.6h-0.7zM19.6 7.8h0.7v0.6h-0.7zM19.6 9.6h0.7v0.6h-0.7zM19.6 12h0.7v0.6h-0.7zM19.6 13.2h0.7v0.6h-0.7zM19.6 13.8h0.7v0.6h-0.7zM19.6 17.4h0.7v0.6h-0.7zM19.6 18h0.7v0.6h-0.7zM19.6 19.2h0.7v0.6h-0.7zM19.6 21h0.7v0.6h-0.7zM19.6 22.8h0.7v0.6h-0.7zM19.6 23.4h0.7v0.6h-0.7zM20.3 0.6h0.7v0.6h-0.7zM20.3 1.8h0.7v0.6h-0.7zM20.3 5.4h0.7v0.6h-0.7zM20.3 6h0.7v0.6h-0.7zM20.3 7.2h0.7v0.6h-0.7zM20.3 8.4h0.7v0.6h-0.7zM20.3 11.4h0.7v0.6h-0.7zM20.3 13.2h0.7v0.6h-0.7zM20.3 13.8h0.7v0.6h-0.7zM20.3 14.4h0.7v0.6h-0.7zM20.3 15.6h0.7v0.6h-0.7zM20.3 16.8h0.7v0.6h-0.7zM21 0h0.7v0.6h-0.7zM21 0.6h0.7v0.6h-0.7zM21 3h0.7v0.6h-0.7zM21 4.2h0.7v0.6h-0.7zM21 4.8h0.7v0.6h-0.7zM21 5.4h0.7v0.6h-0.7zM21 7.8h0.7v0.6h-0.7zM21 9.6h0.7v0.6h-0.7zM21 13.2h0.7v0.6h-0.7zM21 15.6h0.7v0.6h-0.7zM21 19.2h0.7v0.6h-0.7zM21 21.6h0.7v0.6h-0.7zM21.7 0h0.7v0.6h-0.7zM21.7 0.6h0.7v0.6h-0.7zM21.7 1.2h0.7v0.6h-0.7zM21.7 2.4h0.7v0.6h-0.7zM21.7 3h0.7v0.6h-0.7zM21.7 3.6h0.7v0.6h-0.7zM21.7 5.4h0.7v0.6h-0.7zM21.7 9.6h0.7v0.6h-0.7zM21.7 10.2h0.7v0.6h-0.7zM21.7 13.2h0.7v0.6h-0.7zM21.7 13.8h0.7v0.6h-0.7zM21.7 14.4h0.7v0.6h-0.7zM21.7 15h0.7v0.6h-0.7zM21.7 16.8h0.7v0.6h-0.7zM22.4 6.6h0.7v0.6h-0.7zM22.4 9.6h0.7v0.6h-0.7zM22.4 17.4h0.7v0.6h-0.7zM22.4 18h0.7v0.6h-0.7zM22.4 22.2h0.7v0.6h-0.7zM23.1 1.2h0.7v0.6h-0.7zM23.1 3h0.7v0.6h-0.7zM23.1 7.8h0.7v0.6h-0.7zM23.1 13.8h0.7v0.6h-0.7zM23.1 15h0.7v0.6h-0.7zM23.1 19.2h0.7v0.6h-0.7zM23.8 6.6h0.7v0.6h-0.7zM23.8 7.8h0.7v0.6h-0.7zM23.8 9.6h0.7v0.6h-0.7zM23.8 10.2h0.7v0.6h-0.7zM23.8 12.6h0.7v0.6h-0.7zM23.8 18h0.7v0.6h-0.7zM23.8 19.2h0.7v0.6h-0.7zM23.8 21.6h0.7v0.6h-0.7zM24.5 4.8h0.7v0.6h-0.7zM24.5 7.2h0.7v0.6h-0.7zM24.5 11.4h0.7v0.6h-0.7zM24.5 12.6h0.7v0.6h-0.7zM24.5 13.2h0.7v0.6h-0.7zM24.5 14.4h0.7v0.6h-0.7zM24.5 16.8h0.7v0.6h-0.7zM24.5 18h0.7v0.6h-0.7zM24.5 19.2h0.7v0.6h-0.7zM24.5 23.4h0.7v0.6h-0.7zM25.2 3h0.7v0.6h-0.7zM25.2 3.6h0.7v0.6h-0.7zM25.2 4.2h0.7v0.6h-0.7zM25.2 4.8h0.7v0.6h-0.7zM25.2 6h0.7v0.6h-0.7zM25.2 7.8h0.7v0.6h-0.7zM25.2 9.6h0.7v0.6h-0.7zM25.2 10.2h0.7v0.6h-0.7zM25.2 11.4h0.7v0.6h-0.7zM25.2 12.6h0.7v0.6h-0.7zM25.2 13.2h0.7v0.6h-0.7zM25.2 13.8h0.7v0.6h-0.7zM25.2 15h0.7v0.6h-0.7zM25.2 16.2h0.7v0.6h-0.7zM25.2 16.8h0.7v0.6h-0.7zM25.2 17.4h0.7v0.6h-0.7zM25.2 18.6h0.7v0.6h-0.7zM25.2 19.2h0.7v0.6h-0.7zM25.2 20.4h0.7v0.6h-0.7zM25.2 22.2h0.7v0.6h-0.7zM25.9 5.4h0.7v0.6h-0.7zM25.9 7.2h0.7v0.6h-0.7zM25.9 16.2h0.7v0.6h-0.7zM25.9 20.4h0.7v0.6h-0.7zM26.6 0h0.7v0.6h-0.7zM26.6 2.4h0.7v0.6h-0.7zM26.6 7.8h0.7v0.6h-0.7zM26.6 9h0.7v0.6h-0.7zM26.6 12h0.7v0.6h-0.7zM26.6 13.2h0.7v0.6h-0.7zM26.6 16.2h0.7v0.6h-0.7zM26.6 21h0.7v0.6h-0.7zM26.6 21.6h0.7v0.6h-0.7zM26.6 22.8h0.7v0.6h-0.7zM27.3 0h0.7v0.6h-0.7zM27.3 2.4h0.7v0.6h-0.7zM27.3 3h0.7v0.6h-0.7zM27.3 4.8h0.7v0.6h-0.7zM27.3 5.4h0.7v0.6h-0.7zM27.3 7.2h0.7v0.6h-0.7zM27.3 7.8h0.7v0.6h-0.7zM27.3 9.6h0.7v0.6h-0.7zM27.3 10.2h0.7v0.6h-0.7zM27.3 12h0.7v0.6h-0.7zM27.3 12.6h0.7v0.6h-0.7zM27.3 13.2h0.7v0.6h-0.7zM27.3 13.8h0.7v0.6h-0.7zM27.3 16.2h0.7v0.6h-0.7zM27.3 19.2h0.7v0.6h-0.7zM27.3 19.8h0.7v0.6h-0.7zM27.3 23.4h0.7v0.6h-0.7z" fill="#a6d8da"/></pattern>
</defs>
<rect x="403.60" y="384.30" width="27.40" height="20.70" fill="url(#pr)"/>
<rect x="403.60" y="405.00" width="27.40" height="11.00" fill="url(#pm)"/>
<rect x="403.60" y="416.00" width="27.40" height="43.00" fill="url(#pR)"/>
<rect x="403.60" y="459.00" width="27.40" height="8.50" fill="url(#pm)"/>
<rect x="403.60" y="467.50" width="27.40" height="48.50" fill="url(#pr)"/>
<rect x="403.60" y="516.00" width="27.40" height="30.00" fill="url(#pc)"/>
<rect x="403.60" y="546.00" width="27.40" height="30.00" fill="url(#pm)"/>
<rect x="403.60" y="576.00" width="27.40" height="30.30" fill="url(#pq)"/>
<rect x="432.10" y="384.30" width="50.30" height="37.20" fill="url(#pq)"/>
<rect x="432.10" y="421.50" width="50.30" height="37.50" fill="url(#pc)"/>
<rect x="432.10" y="459.00" width="50.30" height="46.00" fill="url(#pm)"/>
<rect x="432.10" y="505.00" width="50.30" height="38.00" fill="url(#pr)"/>
<rect x="432.10" y="543.00" width="50.30" height="22.00" fill="url(#pR)"/>
<rect x="432.10" y="565.00" width="50.30" height="11.00" fill="url(#pr)"/>
<rect x="432.10" y="576.00" width="50.30" height="30.30" fill="url(#pm)"/>
<rect x="483.40" y="384.30" width="32.60" height="74.70" fill="url(#pq)"/>
<rect x="483.40" y="459.00" width="32.60" height="25.00" fill="url(#pr)"/>
<rect x="483.40" y="484.00" width="32.60" height="32.00" fill="url(#pq)"/>
<rect x="483.40" y="516.00" width="32.60" height="22.00" fill="url(#pR)"/>
<rect x="483.40" y="538.00" width="32.60" height="22.00" fill="url(#pm)"/>
<rect x="483.40" y="560.00" width="32.60" height="26.60" fill="url(#pr)"/>
<rect x="483.40" y="586.60" width="32.60" height="19.70" fill="url(#pm)"/>
<rect x="516.90" y="384.30" width="9.80" height="20.70" fill="url(#pR)"/>
<rect x="516.90" y="405.00" width="9.80" height="38.00" fill="url(#pc)"/>
<rect x="516.90" y="443.00" width="9.80" height="16.00" fill="url(#pR)"/>
<rect x="516.90" y="459.00" width="9.80" height="57.00" fill="url(#pc)"/>
<rect x="516.90" y="516.00" width="9.80" height="16.50" fill="url(#pR)"/>
<rect x="516.90" y="532.50" width="9.80" height="10.50" fill="url(#pm)"/>
<rect x="516.90" y="543.00" width="9.80" height="30.00" fill="url(#pc)"/>
<rect x="516.90" y="573.00" width="9.80" height="33.30" fill="url(#pR)"/>
<rect x="403.60" y="380.30" width="27.40" height="2.90" fill="#e3a283"/>
<rect x="432.10" y="380.30" width="50.30" height="2.90" fill="#e3a283"/>
<rect x="483.40" y="380.30" width="32.60" height="2.90" fill="#e3a283"/>
<rect x="516.90" y="380.30" width="9.80" height="2.90" fill="#8cc870"/>
<text x="446.3" y="377.7" font-size="6.8" font-weight="bold" fill="#222">Tumor</text>
<text x="517.9" y="377.7" font-size="6.8" font-weight="bold" fill="#222">Normal</text>
<rect x="392.60" y="384.30" width="11.00" height="222.00" fill="#111"/>
<path d="M392.8 384.8Q391.9 386.6 392.8 388.4M392.8 388.4Q391.2 389.8 392.8 391.3M392.8 391.3Q391.3 392.3 392.8 393.2M392.8 393.2Q390.9 394.6 392.8 395.9M392.8 395.9Q392.2 396.9 392.8 397.8M392.8 397.8Q391.1 399.4 392.8 401.1M392.8 401.1Q392.2 402.4 392.8 403.8M392.8 403.8Q392.0 405.7 392.8 407.6M392.8 407.6Q391.5 408.9 392.8 410.3M392.8 410.3Q390.9 411.9 392.8 413.5M392.8 413.5Q391.2 415.1 392.8 416.6M392.8 416.6Q390.9 418.4 392.8 420.3M392.8 420.3Q392.0 422.0 392.8 423.6M392.8 423.6Q392.1 424.8 392.8 425.9M392.8 425.9Q390.8 427.8 392.8 429.6M392.8 429.6Q390.8 431.3 392.8 433.0M392.8 433.0Q391.4 434.4 392.8 435.9M392.8 435.9Q391.3 437.0 392.8 438.1M392.8 438.1Q391.2 439.9 392.8 441.7M392.8 441.7Q391.8 442.8 392.8 443.8M392.8 443.8Q391.9 445.2 392.8 446.6M392.8 446.6Q391.2 447.8 392.8 448.9M392.8 448.9Q391.5 450.7 392.8 452.5M392.8 452.5Q391.1 454.0 392.8 455.4M392.8 455.4Q392.1 456.3 392.8 457.2M392.8 457.2Q392.0 458.2 392.8 459.2M392.8 459.2Q392.1 460.5 392.8 461.8M392.8 461.8Q392.1 463.2 392.8 464.5M392.8 464.5Q391.1 466.0 392.8 467.5M392.8 467.5Q391.7 469.3 392.8 471.0M392.8 471.0Q391.4 472.6 392.8 474.3M392.8 474.3Q391.7 475.4 392.8 476.6M392.8 476.6Q391.8 477.6 392.8 478.6M392.8 478.6Q391.3 480.2 392.8 481.8M392.8 481.8Q391.1 483.6 392.8 485.4M392.8 485.4Q391.9 486.7 392.8 488.0M392.8 488.0Q391.8 489.3 392.8 490.7M392.8 490.7Q392.1 492.2 392.8 493.8M392.8 493.8Q391.8 495.8 392.8 497.8M392.8 497.8Q391.0 499.6 392.8 501.4M392.8 501.4Q392.0 503.0 392.8 504.7M392.8 504.7Q391.6 506.1 392.8 507.4M392.8 507.4Q392.1 508.8 392.8 510.3M392.8 510.3Q391.4 511.5 392.8 512.8M392.8 512.8Q391.4 513.7 392.8 514.6M392.8 514.6Q392.1 516.2 392.8 517.8M392.8 517.8Q391.3 519.7 392.8 521.6M392.8 521.6Q391.1 523.6 392.8 525.6M392.8 525.6Q391.0 527.4 392.8 529.2M392.8 529.2Q390.9 530.5 392.8 531.9M392.8 531.9Q392.0 533.7 392.8 535.6M392.8 535.6Q391.5 536.6 392.8 537.7M392.8 537.7Q391.5 538.8 392.8 540.0M392.8 540.0Q390.9 541.5 392.8 543.0M392.8 543.0Q391.2 544.9 392.8 546.7M392.8 546.7Q390.9 548.1 392.8 549.5M392.8 549.5Q391.1 550.4 392.8 551.3M392.8 551.3Q392.1 552.6 392.8 553.9M392.8 553.9Q391.5 555.8 392.8 557.6M392.8 557.6Q391.7 559.0 392.8 560.4M392.8 560.4Q391.3 562.3 392.8 564.1M392.8 564.1Q391.4 565.9 392.8 567.7M392.8 567.7Q391.8 569.2 392.8 570.8M392.8 570.8Q391.8 572.2 392.8 573.7M392.8 573.7Q390.8 575.4 392.8 577.0M392.8 577.0Q391.0 578.0 392.8 578.9M392.8 578.9Q391.1 580.0 392.8 581.2M392.8 581.2Q391.1 582.1 392.8 583.1M392.8 583.1Q392.0 584.7 392.8 586.2M392.8 586.2Q391.3 587.5 392.8 588.8M392.8 588.8Q391.8 590.1 392.8 591.5M392.8 591.5Q392.1 593.3 392.8 595.0M392.8 595.0Q391.8 596.3 392.8 597.7M392.8 597.7Q392.0 598.9 392.8 600.2M392.8 600.2Q392.0 601.4 392.8 602.5M392.8 602.5Q391.8 604.0 392.8 605.4" fill="#111" stroke="#111" stroke-width="0.5"/>
<path d="M394.8 386.0Q393.0 387.8 394.8 389.6M393.7 389.6Q391.9 390.7 393.7 391.7M396.8 391.8Q395.0 393.5 396.8 395.2M395.5 394.2Q393.7 396.1 395.5 397.9M395.6 398.1Q393.8 400.2 395.6 402.3M396.0 402.5Q394.2 404.2 396.0 405.9M396.2 405.4Q394.4 407.2 396.2 409.1M396.5 408.4Q394.7 410.9 396.5 413.4M395.3 414.7Q393.5 416.2 395.3 417.6M393.6 417.2Q391.8 418.3 393.6 419.3M394.2 419.0Q392.4 421.3 394.2 423.6M393.8 424.1Q392.0 425.5 393.8 426.9M395.5 426.3Q393.7 428.4 395.5 430.4M394.6 430.5Q392.8 432.2 394.6 433.9M394.3 433.8Q392.5 436.2 394.3 438.6M394.3 439.3Q392.5 440.6 394.3 442.0M397.2 441.7Q395.4 442.9 397.2 444.0M393.5 443.8Q391.7 445.1 393.5 446.4M395.2 445.7Q393.4 447.0 395.2 448.3M397.1 448.5Q395.3 451.0 397.1 453.4M397.2 452.7Q395.4 454.6 397.2 456.5M395.1 455.6Q393.3 457.9 395.1 460.2M396.0 460.9Q394.2 462.4 396.0 463.9M396.5 463.9Q394.7 465.1 396.5 466.2M395.1 466.7Q393.3 468.4 395.1 470.1M397.0 471.0Q395.2 472.6 397.0 474.2M394.9 474.0Q393.1 475.6 394.9 477.1M394.4 476.3Q392.6 477.7 394.4 479.1M395.3 478.4Q393.5 480.2 395.3 482.0M397.2 481.0Q395.4 482.2 397.2 483.5M397.3 482.9Q395.5 484.5 397.3 486.0M396.7 485.3Q394.9 486.9 396.7 488.5M397.2 487.6Q395.4 488.7 397.2 489.8M395.4 490.1Q393.6 491.4 395.4 492.8M397.3 492.4Q395.5 494.8 397.3 497.1M394.2 495.9Q392.4 497.7 394.2 499.5M396.4 499.3Q394.6 501.4 396.4 503.5M395.2 502.7Q393.4 504.2 395.2 505.7M396.7 505.5Q394.9 507.5 396.7 509.5M393.8 509.1Q392.0 510.8 393.8 512.5M395.5 512.2Q393.7 514.6 395.5 517.0M395.8 517.2Q394.0 519.1 395.8 521.0M394.8 521.7Q393.0 523.1 394.8 524.5M397.3 525.1Q395.5 526.9 397.3 528.6M395.4 527.9Q393.6 530.1 395.4 532.2M394.0 532.2Q392.2 534.5 394.0 536.8M394.9 536.8Q393.1 538.2 394.9 539.6M396.6 540.1Q394.8 541.7 396.6 543.3M397.3 542.4Q395.5 544.9 397.3 547.4M396.1 547.9Q394.3 549.2 396.1 550.5M393.6 550.0Q391.8 551.6 393.6 553.1M394.2 552.3Q392.4 553.6 394.2 554.8M396.8 555.3Q395.0 556.7 396.8 558.0M393.7 557.2Q391.9 558.3 393.7 559.4M393.6 560.0Q391.8 562.2 393.6 564.4M394.6 565.6Q392.8 566.9 394.6 568.3M397.4 568.4Q395.6 569.7 397.4 571.0M395.8 570.8Q394.0 572.7 395.8 574.5M397.5 574.0Q395.7 576.1 397.5 578.2M396.7 578.5Q394.9 579.6 396.7 580.7M396.1 580.9Q394.3 582.7 396.1 584.4M395.6 583.9Q393.8 585.4 395.6 586.8M394.2 586.1Q392.4 588.0 394.2 589.8M395.9 589.3Q394.1 591.6 395.9 594.0M397.5 593.3Q395.7 595.3 397.5 597.4M394.8 598.3Q393.0 600.5 394.8 602.7M393.9 603.0Q392.1 604.8 393.9 606.7" fill="none" stroke="#d8d8d8" stroke-width="0.4" opacity="0.85"/>
<path d="M392.4 411H390.2V440H392.4M392.4 466H390.4V489H392.4M392.4 528H390.3V549H392.4M392.4 557H390.6V580H392.4" fill="none" stroke="#222" stroke-width="0.7"/>
<text x="545.6" y="357.4" font-size="12.5">J</text>
<circle cx="583.8" cy="360.4" r="2.3" fill="#2a2a68"/>
<text x="588.2" y="362.9" font-size="6.3" fill="#222">Cancer-O</text>
<circle cx="622.3" cy="360.4" r="2.3" fill="#80c050"/>
<text x="626.6" y="362.9" font-size="6.3" fill="#222">Normal-O</text>
<rect x="548.6" y="366.5" width="133.00" height="121.50" fill="none" stroke="#555" stroke-width="1.0"/>
<line x1="556.65" y1="488.00" x2="556.65" y2="490.00" stroke="#333" stroke-width="0.8"/>
<text x="556.6" y="495.8" font-size="6.6" text-anchor="middle" fill="#333">−10</text>
<line x1="603.50" y1="488.00" x2="603.50" y2="490.00" stroke="#333" stroke-width="0.8"/>
<text x="603.5" y="495.8" font-size="6.6" text-anchor="middle" fill="#333">0</text>
<line x1="650.35" y1="488.00" x2="650.35" y2="490.00" stroke="#333" stroke-width="0.8"/>
<text x="650.4" y="495.8" font-size="6.6" text-anchor="middle" fill="#333">10</text>
<line x1="546.60" y1="392.50" x2="548.60" y2="392.50" stroke="#333" stroke-width="0.8"/>
<text x="545.6" y="394.8" font-size="6.6" text-anchor="end" fill="#333">10</text>
<line x1="546.60" y1="424.20" x2="548.60" y2="424.20" stroke="#333" stroke-width="0.8"/>
<text x="545.6" y="426.5" font-size="6.6" text-anchor="end" fill="#333">0</text>
<line x1="546.60" y1="455.90" x2="548.60" y2="455.90" stroke="#333" stroke-width="0.8"/>
<text x="545.6" y="458.2" font-size="6.6" text-anchor="end" fill="#333">−10</text>
<line x1="546.60" y1="487.60" x2="548.60" y2="487.60" stroke="#333" stroke-width="0.8"/>
<text x="545.6" y="489.9" font-size="6.6" text-anchor="end" fill="#333">−20</text>
<text x="612.0" y="504.6" font-size="5.9" text-anchor="middle" font-weight="bold" fill="#222">TSNE−1</text>
<text x="541.0" y="424.5" font-size="5.8" text-anchor="middle" font-weight="bold" fill="#222" transform="rotate(-90 541 424.5)">TSNE−2</text>
<path d="M612.3 372.0h0M614.0 374.4h0M611.6 376.4h0M614.7 376.4h0M604.4 375.9h0M599.6 380.4h0M609.8 383.1h0M596.9 387.6h0M591.7 389.0h0M606.1 388.8h0M612.1 388.0h0M614.5 390.8h0M595.2 391.6h0M599.8 391.0h0M605.4 392.6h0M607.6 392.0h0M608.6 393.3h0M608.8 394.3h0M611.6 392.3h0M586.2 394.6h0M591.2 396.0h0M600.6 394.6h0M604.4 394.6h0M610.6 395.8h0M583.9 398.3h0M598.6 398.0h0M603.6 397.8h0M614.0 397.6h0M614.7 400.8h0M609.6 399.6h0M572.8 401.3h0M579.6 404.2h0M588.5 403.7h0M592.2 402.2h0M595.2 401.0h0M594.7 404.2h0M597.7 403.5h0M599.1 403.7h0M601.6 402.7h0M607.6 402.9h0M605.6 405.5h0M609.6 405.9h0M615.3 405.7h0M566.9 406.2h0M582.3 407.9h0M592.2 405.9h0M597.7 405.7h0M596.2 408.5h0M598.6 408.2h0M604.1 408.5h0M575.0 410.2h0M592.2 412.5h0M596.7 412.2h0M597.7 414.5h0M595.7 414.7h0M602.1 415.2h0M604.1 411.7h0M606.4 414.2h0M608.8 415.2h0M610.6 410.5h0M612.5 411.2h0M614.0 413.5h0M615.3 410.2h0M569.8 414.9h0M582.3 414.5h0M583.3 413.5h0M585.2 413.5h0M589.9 416.6h0M594.7 417.1h0M598.6 418.6h0M602.1 419.4h0M606.6 416.6h0M608.1 418.6h0M611.6 418.1h0M614.0 420.6h0M555.9 419.1h0M560.1 417.6h0M563.4 418.8h0M565.9 420.1h0M567.9 419.8h0M566.7 420.4h0M559.7 421.1h0M561.9 421.6h0M558.4 423.4h0M562.9 423.4h0M572.6 420.6h0M574.3 421.1h0M581.8 417.6h0M585.2 420.1h0M587.2 420.1h0M588.9 419.6h0M591.5 420.4h0M593.2 421.1h0M582.3 422.1h0M600.1 421.8h0M602.1 423.4h0M605.1 423.4h0M608.6 423.1h0M609.4 420.8h0M593.2 424.4h0M585.7 425.6h0M588.2 426.1h0M579.6 426.8h0M597.7 426.6h0M599.6 427.1h0M610.1 427.1h0M556.4 427.4h0M566.4 427.6h0M619.8 374.9h0M625.9 374.9h0M627.9 374.9h0M618.0 388.8h0M627.4 387.4h0M628.9 389.0h0M630.1 388.6h0M628.4 390.3h0M623.1 392.8h0M619.2 395.0h0M641.3 385.9h0M645.6 387.1h0M647.8 388.8h0M648.8 389.3h0M639.6 391.3h0M640.0 392.6h0M638.8 393.8h0M639.6 397.0h0M647.3 393.3h0M646.3 397.6h0M625.9 397.8h0M628.4 398.8h0M624.7 400.3h0M635.4 398.6h0M634.4 400.3h0M618.0 403.9h0M620.5 404.2h0M625.7 403.9h0M632.7 404.2h0M622.4 407.7h0M623.4 408.9h0M625.7 408.2h0M629.9 408.5h0M633.4 409.2h0M636.3 407.5h0M616.5 409.2h0M616.2 411.7h0M618.8 411.9h0M622.4 412.5h0M623.4 413.9h0M627.4 411.5h0M630.4 410.2h0M635.6 410.5h0M619.5 414.7h0M617.5 416.8h0M627.4 416.4h0M632.9 414.2h0M634.9 417.6h0M641.6 412.5h0M643.3 412.7h0M651.2 415.2h0M620.2 420.1h0M621.1 420.1h0M626.4 420.4h0M641.6 420.1h0M629.7 423.4h0M616.5 425.6h0M618.0 426.8h0M621.1 425.8h0M636.0 426.8h0M559.7 428.2h0M560.9 430.0h0M563.4 428.8h0M566.1 428.0h0M568.9 428.2h0M554.5 432.2h0M559.1 433.1h0M562.9 433.0h0M563.9 431.8h0M558.1 435.9h0M565.1 435.7h0M583.3 431.8h0M588.2 432.8h0M587.7 434.4h0M599.6 427.5h0M598.8 431.0h0M601.6 432.8h0M604.4 430.0h0M604.4 433.4h0M609.6 433.4h0M610.8 430.0h0M613.5 428.5h0M614.0 433.0h0M609.1 435.9h0M610.4 435.9h0M606.1 436.9h0M614.7 437.1h0M590.9 436.9h0M568.9 439.7h0M560.1 440.7h0M559.7 442.7h0M560.1 444.4h0M556.1 443.7h0M560.7 446.1h0M560.1 448.8h0M582.3 442.1h0M584.7 444.1h0M587.7 442.1h0M594.5 440.1h0M598.4 441.1h0M600.1 440.9h0M611.1 440.1h0M572.0 444.1h0M571.8 446.9h0M572.6 448.0h0M577.6 449.8h0M578.3 452.0h0M584.5 450.0h0M590.5 448.0h0M593.5 449.8h0M597.2 452.0h0M598.1 448.3h0M601.6 445.9h0M602.4 449.0h0M607.6 446.9h0M609.4 446.7h0M607.1 451.8h0M581.3 453.3h0M586.2 453.3h0M587.2 455.0h0M588.2 456.0h0M590.7 457.3h0M591.7 453.3h0M595.2 457.3h0M601.6 455.3h0M604.8 455.0h0M605.1 457.8h0M575.6 457.3h0M582.3 457.6h0M584.7 457.8h0M583.6 459.8h0M587.7 460.8h0M576.8 460.6h0M595.2 461.9h0M555.7 461.6h0M562.1 462.2h0M569.6 462.5h0M581.3 463.5h0M584.2 463.7h0M558.4 466.2h0M560.7 465.5h0M561.9 468.2h0M563.9 467.7h0M566.1 467.5h0M566.9 468.5h0M576.0 466.2h0M577.3 469.2h0M581.3 468.2h0M587.2 467.7h0M555.1 472.2h0M557.7 470.7h0M560.4 470.7h0M558.7 473.5h0M573.0 469.7h0M574.8 473.2h0M578.8 473.7h0M579.6 475.2h0M583.7 474.5h0M592.7 471.2h0M559.7 477.1h0M566.7 475.7h0M566.7 477.4h0M570.0 477.6h0M573.3 476.4h0M574.8 476.4h0M573.0 478.6h0M577.6 478.8h0M582.3 476.1h0M582.3 478.8h0M565.7 483.1h0M567.4 482.4h0M568.9 482.1h0M570.8 481.1h0M620.0 428.5h0M623.1 429.2h0M618.8 431.5h0M628.4 430.8h0M622.4 433.9h0M630.9 436.1h0M619.7 451.1h0M615.0 431.5h0" stroke="#2a2a68" stroke-width="1.90" stroke-linecap="round" fill="none"/>
<path d="M658.9 401.9h0M670.4 397.6h0M670.1 398.8h0M666.4 400.3h0M668.1 401.0h0M668.4 402.5h0M670.6 401.9h0M663.2 402.2h0M662.7 403.7h0M663.7 404.9h0M664.8 404.5h0M661.5 406.2h0M665.6 406.7h0M664.6 407.5h0M668.1 407.2h0M669.1 407.9h0M670.4 405.2h0M671.4 404.2h0M673.1 405.5h0M676.6 402.9h0M656.2 409.7h0M655.5 410.9h0M662.5 411.5h0M669.4 412.2h0M674.6 408.9h0M675.8 411.7h0" stroke="#80c050" stroke-width="1.90" stroke-linecap="round" fill="none"/>
<circle cx="580.2" cy="514.7" r="2.3" fill="#4a88c8"/>
<text x="585.2" y="517.2" font-size="6.4" fill="#222">Cancer-Y</text>
<circle cx="621.6" cy="514.7" r="2.3" fill="#c0509a"/>
<text x="626.6" y="517.2" font-size="6.4" fill="#222">Normal-Y</text>
<rect x="547.4" y="519.7" width="133.70" height="119.90" fill="none" stroke="#555" stroke-width="1.0"/>
<line x1="558.80" y1="639.60" x2="558.80" y2="641.60" stroke="#333" stroke-width="0.8"/>
<text x="558.8" y="646.5" font-size="6.6" text-anchor="middle" fill="#333">−4</text>
<line x1="589.40" y1="639.60" x2="589.40" y2="641.60" stroke="#333" stroke-width="0.8"/>
<text x="589.4" y="646.5" font-size="6.6" text-anchor="middle" fill="#333">−2</text>
<line x1="620.00" y1="639.60" x2="620.00" y2="641.60" stroke="#333" stroke-width="0.8"/>
<text x="620.0" y="646.5" font-size="6.6" text-anchor="middle" fill="#333">0</text>
<line x1="650.60" y1="639.60" x2="650.60" y2="641.60" stroke="#333" stroke-width="0.8"/>
<text x="650.6" y="646.5" font-size="6.6" text-anchor="middle" fill="#333">2</text>
<line x1="545.40" y1="546.85" x2="547.40" y2="546.85" stroke="#333" stroke-width="0.8"/>
<text x="544.4" y="549.1" font-size="6.6" text-anchor="end" fill="#333">3</text>
<line x1="545.40" y1="578.50" x2="547.40" y2="578.50" stroke="#333" stroke-width="0.8"/>
<text x="544.4" y="580.8" font-size="6.6" text-anchor="end" fill="#333">0</text>
<line x1="545.40" y1="610.15" x2="547.40" y2="610.15" stroke="#333" stroke-width="0.8"/>
<text x="544.4" y="612.4" font-size="6.6" text-anchor="end" fill="#333">−3</text>
<text x="609.0" y="655.5" font-size="5.8" text-anchor="middle" font-weight="bold" fill="#222">TSNE−1</text>
<text x="540.5" y="578.5" font-size="5.8" text-anchor="middle" font-weight="bold" fill="#222" transform="rotate(-90 540.5 578.5)">TSNE−2</text>
<path d="M594.2 525.2h0M609.8 528.1h0M608.6 532.7h0M589.2 534.1h0M585.2 537.1h0M592.5 538.7h0M596.5 537.7h0M604.1 539.4h0M602.1 541.6h0M579.3 542.8h0M579.8 544.6h0M582.3 541.8h0M588.7 543.8h0M591.9 544.6h0M600.6 543.6h0M602.4 545.3h0M610.6 546.8h0M614.0 547.6h0M557.4 550.8h0M572.8 553.8h0M585.7 551.3h0M586.2 553.3h0M599.4 549.8h0M599.4 554.0h0M609.4 551.6h0M614.3 554.6h0M582.3 559.2h0M593.7 560.9h0M595.9 562.2h0M611.5 559.5h0M612.5 559.2h0M614.3 558.2h0M611.3 562.5h0M588.9 563.2h0M586.7 564.5h0M584.5 566.7h0M571.0 564.7h0M567.9 568.2h0M603.6 565.2h0M605.1 566.9h0M606.4 570.8h0M573.0 573.4h0M587.7 572.1h0M593.5 575.4h0M593.2 577.1h0M607.1 576.1h0M604.6 578.4h0M585.2 579.1h0M613.0 578.6h0M614.3 576.1h0M614.5 573.1h0M627.1 526.3h0M632.9 525.8h0M637.0 527.1h0M628.3 532.1h0M642.0 531.3h0M643.7 529.9h0M652.5 532.1h0M622.6 537.6h0M621.1 539.3h0M624.3 540.2h0M658.1 539.3h0M646.0 544.7h0M634.0 547.2h0M627.9 549.7h0M663.9 553.0h0M667.2 554.1h0M624.9 556.5h0M620.6 557.8h0M644.0 560.3h0M653.1 561.3h0M656.1 561.3h0M615.5 564.8h0M616.5 566.3h0M634.2 566.8h0M642.7 565.5h0M655.3 565.8h0M657.3 564.8h0M667.4 566.1h0M670.2 567.1h0M674.6 566.8h0M672.4 570.2h0M648.1 569.9h0M649.3 572.9h0M657.8 573.9h0M644.2 573.9h0M637.7 574.2h0M635.2 574.9h0M630.3 575.6h0M619.0 574.2h0M673.2 574.6h0M674.2 576.2h0M655.3 577.9h0M653.8 579.4h0M622.3 579.4h0M567.7 580.8h0M553.2 585.4h0M571.0 585.1h0M571.6 587.4h0M561.7 588.9h0M584.9 587.1h0M587.2 590.9h0M600.1 586.4h0M604.6 585.0h0M612.0 584.0h0M557.7 595.1h0M563.1 594.9h0M571.8 593.1h0M573.0 592.9h0M575.8 593.1h0M578.0 593.4h0M588.9 595.4h0M594.5 592.9h0M592.9 597.1h0M596.5 596.9h0M609.8 596.9h0M570.0 600.0h0M559.4 603.6h0M570.3 606.0h0M576.8 603.3h0M584.9 603.3h0M590.2 603.6h0M596.9 604.8h0M607.4 601.6h0M607.1 607.0h0M590.2 609.0h0M574.3 611.0h0M577.8 612.0h0M577.6 613.9h0M576.0 619.9h0M602.1 618.9h0M610.4 620.9h0M605.1 627.7h0M608.1 627.5h0M602.6 634.4h0M639.4 582.5h0M656.5 581.8h0M670.2 581.5h0M623.6 584.0h0M614.2 588.3h0M613.8 591.9h0M617.8 593.3h0M626.1 590.3h0M629.9 590.9h0M634.0 590.9h0M635.0 587.1h0M638.0 586.6h0M641.7 585.9h0M629.1 593.3h0M630.3 596.6h0M645.0 590.9h0M666.6 586.9h0M621.9 598.3h0M621.9 602.0h0M626.3 600.7h0M625.1 603.4h0M632.3 605.4h0M633.6 604.4h0M634.7 603.7h0M643.7 599.0h0M645.0 604.0h0M651.3 605.7h0M669.2 604.7h0M668.9 607.0h0M617.0 608.7h0M622.1 608.4h0M638.2 612.0h0M660.5 609.4h0M656.8 612.8h0M614.2 621.3h0M616.5 619.8h0M623.3 620.8h0M626.3 620.8h0M629.3 618.1h0M631.3 619.8h0M646.7 618.3h0M648.5 621.5h0M650.1 621.1h0M655.5 626.1h0M626.6 630.6h0" stroke="#4a88c8" stroke-width="1.90" stroke-linecap="round" fill="none"/>
<path d="M663.9 540.4h0M672.6 542.4h0M651.3 543.4h0M642.4 548.0h0M630.9 553.4h0M631.6 556.8h0M649.8 578.4h0M617.0 587.3h0M630.6 588.3h0M641.4 589.3h0M640.2 591.6h0M639.7 593.6h0M651.1 585.3h0M655.5 584.5h0M648.8 591.1h0M650.5 593.3h0M653.8 593.9h0M657.5 589.9h0M656.8 592.3h0M669.4 588.9h0M669.6 593.1h0M673.2 592.9h0M666.2 594.3h0M667.9 600.7h0M649.5 602.2h0M625.6 605.7h0M640.7 607.0h0" stroke="#c0509a" stroke-width="1.90" stroke-linecap="round" fill="none"/>
<text x="6.0" y="217.0" font-size="13.5">E</text>
<rect x="39.4" y="210.5" width="138.20" height="149.80" fill="none" stroke="#555" stroke-width="1.0"/>
<line x1="37.40" y1="217.20" x2="39.40" y2="217.20" stroke="#333" stroke-width="0.8"/>
<text x="36.6" y="219.7" font-size="7.0" text-anchor="end" fill="#222">1000</text>
<line x1="37.40" y1="249.35" x2="39.40" y2="249.35" stroke="#333" stroke-width="0.8"/>
<text x="36.6" y="251.8" font-size="7.0" text-anchor="end" fill="#222">500</text>
<line x1="37.40" y1="281.50" x2="39.40" y2="281.50" stroke="#333" stroke-width="0.8"/>
<text x="36.6" y="284.0" font-size="7.0" text-anchor="end" fill="#222">0</text>
<line x1="37.40" y1="313.65" x2="39.40" y2="313.65" stroke="#333" stroke-width="0.8"/>
<text x="36.6" y="316.1" font-size="7.0" text-anchor="end" fill="#222">−500</text>
<line x1="37.40" y1="345.80" x2="39.40" y2="345.80" stroke="#333" stroke-width="0.8"/>
<text x="36.6" y="348.3" font-size="7.0" text-anchor="end" fill="#222">−1000</text>
<rect x="49.20" y="240.10" width="54.40" height="41.40" fill="#873238"/>
<rect x="49.20" y="281.50" width="54.40" height="72.20" fill="#5d8a77"/>
<rect x="115.10" y="242.40" width="54.50" height="39.10" fill="#873238"/>
<rect x="115.10" y="281.50" width="54.50" height="45.20" fill="#5d8a77"/>
<text x="108.0" y="235.5" font-size="10.1" fill="#111">Up in cancer</text>
<text x="105.8" y="348.6" font-size="10.0" fill="#111">Down in cancer</text>
<text x="16.0" y="281.0" font-size="8.3" text-anchor="middle" fill="#111" transform="rotate(-90 16 281)">Number of differential AS</text>
<text x="72.5" y="371.2" font-size="9.2" text-anchor="middle" font-weight="bold">Old</text>
<text x="142.7" y="371.2" font-size="9.0" text-anchor="middle" font-weight="bold">Young</text>
<text x="201.1" y="225.2" font-size="9.6" font-weight="bold" fill="#111">Old</text>
<path d="M262.00 231.55L262.00 226.50A13.75 13.75 0 0 1 272.75 231.68L268.80 234.83A8.70 8.70 0 0 0 262.00 231.55Z" fill="#d4875a" stroke="#fff" stroke-width="0.9"/>
<path d="M268.80 234.83L274.97 229.91A16.59 16.59 0 0 1 278.17 243.94L270.48 242.19A8.70 8.70 0 0 0 268.80 234.83Z" fill="#c9bbaf" stroke="#fff" stroke-width="0.9"/>
<path d="M270.48 242.19L330.86 255.97A70.63 70.63 0 0 1 292.65 303.89L265.77 248.09A8.70 8.70 0 0 0 270.48 242.19Z" fill="#b13a45" stroke="#fff" stroke-width="0.9"/>
<path d="M265.77 248.09L278.77 275.07A38.65 38.65 0 0 1 245.23 275.07L258.23 248.09A8.70 8.70 0 0 0 265.77 248.09Z" fill="#7b6a9a" stroke="#fff" stroke-width="0.9"/>
<path d="M258.23 248.09L239.04 287.92A52.91 52.91 0 0 1 210.42 252.02L253.52 242.19A8.70 8.70 0 0 0 258.23 248.09Z" fill="#b3d4cc" stroke="#fff" stroke-width="0.9"/>
<path d="M253.52 242.19L252.65 242.38A9.59 9.59 0 0 1 254.51 234.27L255.20 234.83A8.70 8.70 0 0 0 253.52 242.19Z" fill="#b89aa0" stroke="#fff" stroke-width="0.9"/>
<path d="M255.20 234.83L245.99 227.48A20.48 20.48 0 0 1 262.00 219.77L262.00 231.55A8.70 8.70 0 0 0 255.20 234.83Z" fill="#4f7ba3" stroke="#fff" stroke-width="0.9"/>
<circle cx="262" cy="240.25" r="8.6" fill="#fff" stroke="#c8c8c8" stroke-width="0.8"/>
<text x="242.5" y="216.4" font-size="7.8" fill="#111">133</text>
<text x="266.8" y="222.3" font-size="7.8" fill="#111">57</text>
<text x="281.5" y="237.9" font-size="7.8" fill="#111">89</text>
<text x="241.4" y="238.3" font-size="7.8" fill="#111">10</text>
<text x="206.0" y="277.7" font-size="7.8" fill="#111">499</text>
<text x="255.9" y="285.4" font-size="7.8" fill="#111">338</text>
<text x="316.5" y="290.9" font-size="7.8" fill="#111">699</text>
<text x="199.8" y="323.0" font-size="9.4" font-weight="bold" fill="#111">Young</text>
<path d="M259.40 319.10L259.40 316.44A11.36 11.36 0 0 1 268.28 320.72L266.20 322.38A8.70 8.70 0 0 0 259.40 319.10Z" fill="#d4875a" stroke="#fff" stroke-width="0.9"/>
<path d="M266.20 322.38L269.73 319.56A13.22 13.22 0 0 1 272.29 330.74L267.88 329.74A8.70 8.70 0 0 0 266.20 322.38Z" fill="#c9bbaf" stroke="#fff" stroke-width="0.9"/>
<path d="M267.88 329.74L308.91 339.10A50.78 50.78 0 0 1 281.43 373.56L263.17 335.64A8.70 8.70 0 0 0 267.88 329.74Z" fill="#b8464f" stroke="#fff" stroke-width="0.9"/>
<path d="M263.17 335.64L272.09 354.16A29.26 29.26 0 0 1 246.71 354.16L255.63 335.64A8.70 8.70 0 0 0 263.17 335.64Z" fill="#7b6a9a" stroke="#fff" stroke-width="0.9"/>
<path d="M255.63 335.64L240.56 366.93A43.43 43.43 0 0 1 217.06 337.46L250.92 329.74A8.70 8.70 0 0 0 255.63 335.64Z" fill="#b3d4cc" stroke="#fff" stroke-width="0.9"/>
<path d="M250.92 329.74L250.14 329.91A9.50 9.50 0 0 1 251.97 321.88L252.60 322.38A8.70 8.70 0 0 0 250.92 329.74Z" fill="#b89aa0" stroke="#fff" stroke-width="0.9"/>
<path d="M252.60 322.38L248.37 319.01A14.10 14.10 0 0 1 259.40 313.70L259.40 319.10A8.70 8.70 0 0 0 252.60 322.38Z" fill="#4f7ba3" stroke="#fff" stroke-width="0.9"/>
<circle cx="259.4" cy="327.8" r="8.6" fill="#fff" stroke="#c8c8c8" stroke-width="0.8"/>
<text x="245.0" y="308.6" font-size="7.8" fill="#111">61</text>
<text x="262.9" y="312.0" font-size="7.8" fill="#111">30</text>
<text x="275.6" y="325.0" font-size="7.8" fill="#111">51</text>
<text x="239.9" y="326.7" font-size="7.8" fill="#111">9</text>
<text x="209.2" y="360.7" font-size="7.8" fill="#111">392</text>
<text x="252.4" y="364.6" font-size="7.8" fill="#111">232</text>
<text x="299.7" y="363.3" font-size="7.8" fill="#111">475</text>
<rect x="324.40" y="303.00" width="9.50" height="9.10" fill="#d4875a"/>
<text x="336.9" y="309.6" font-size="5.8" fill="#222">AA</text>
<rect x="324.40" y="312.10" width="9.50" height="9.10" fill="#c9bbaf"/>
<text x="336.9" y="318.7" font-size="5.8" fill="#222">AD</text>
<rect x="324.40" y="321.20" width="9.50" height="9.10" fill="#b13a45"/>
<text x="336.9" y="327.8" font-size="5.8" fill="#222">AP</text>
<rect x="324.40" y="330.30" width="9.50" height="9.10" fill="#7b6a9a"/>
<text x="336.9" y="336.9" font-size="5.8" fill="#222">AT</text>
<rect x="324.40" y="339.40" width="9.50" height="9.10" fill="#b3d4cc"/>
<text x="336.9" y="346.0" font-size="5.8" fill="#222">ES</text>
<rect x="324.40" y="348.50" width="9.50" height="9.10" fill="#b89aa0"/>
<text x="336.9" y="355.1" font-size="5.8" fill="#222">ME</text>
<rect x="324.40" y="357.60" width="9.50" height="9.10" fill="#4f7ba3"/>
<text x="336.9" y="364.2" font-size="5.8" fill="#222">RI</text>
<text x="344.0" y="214.7" font-size="12.5">F</text>
<circle cx="389.2" cy="290.8" r="40.0" fill="#ebc5a8"/>
<circle cx="443.4" cy="290.8" r="40.0" fill="#b0c4de"/>
<clipPath id="cpo"><circle cx="389.2" cy="290.8" r="40.0"/></clipPath>
<circle cx="443.4" cy="290.8" r="40.0" fill="#b4a8ae" clip-path="url(#cpo)"/>
<circle cx="389.2" cy="290.8" r="40.0" fill="none" stroke="#fff" stroke-width="1.8"/>
<circle cx="443.4" cy="290.8" r="40.0" fill="none" stroke="#fff" stroke-width="1.8"/>
<text x="383.4" y="244.3" font-size="13.5" text-anchor="middle" font-weight="bold">Old</text>
<text x="448.0" y="244.3" font-size="13.5" text-anchor="middle" font-weight="bold">Young</text>
<text x="383.8" y="294.5" font-size="8.5" text-anchor="middle" fill="#222">1182</text>
<text x="415.8" y="295.5" font-size="11" text-anchor="middle" fill="#222">643</text>
<text x="448.7" y="294.5" font-size="8.5" text-anchor="middle" fill="#222">607</text>
<text x="493.4" y="216.8" font-size="12.5">G</text>
<line x1="536.50" y1="278.40" x2="682.50" y2="278.40" stroke="#e4e4e4" stroke-width="0.9"/>
<line x1="536.50" y1="270.55" x2="682.50" y2="270.55" stroke="#e4e4e4" stroke-width="0.9"/>
<line x1="536.50" y1="262.70" x2="682.50" y2="262.70" stroke="#e4e4e4" stroke-width="0.9"/>
<line x1="536.50" y1="254.85" x2="682.50" y2="254.85" stroke="#e4e4e4" stroke-width="0.9"/>
<line x1="536.50" y1="247.00" x2="682.50" y2="247.00" stroke="#e4e4e4" stroke-width="0.9"/>
<line x1="536.50" y1="239.15" x2="682.50" y2="239.15" stroke="#e4e4e4" stroke-width="0.9"/>
<line x1="536.50" y1="231.30" x2="682.50" y2="231.30" stroke="#e4e4e4" stroke-width="0.9"/>
<line x1="536.50" y1="223.45" x2="682.50" y2="223.45" stroke="#e4e4e4" stroke-width="0.9"/>
<line x1="536.50" y1="215.60" x2="682.50" y2="215.60" stroke="#e4e4e4" stroke-width="0.9"/>
<line x1="536.50" y1="207.75" x2="682.50" y2="207.75" stroke="#e4e4e4" stroke-width="0.9"/>
<line x1="541.70" y1="205.50" x2="541.70" y2="278.40" stroke="#e4e4e4" stroke-width="0.9"/>
<line x1="541.70" y1="279.90" x2="541.70" y2="281.40" stroke="#bbb" stroke-width="0.6"/>
<line x1="552.11" y1="205.50" x2="552.11" y2="278.40" stroke="#e4e4e4" stroke-width="0.9"/>
<line x1="552.11" y1="279.90" x2="552.11" y2="281.40" stroke="#bbb" stroke-width="0.6"/>
<line x1="562.52" y1="205.50" x2="562.52" y2="278.40" stroke="#e4e4e4" stroke-width="0.9"/>
<line x1="562.52" y1="279.90" x2="562.52" y2="281.40" stroke="#bbb" stroke-width="0.6"/>
<line x1="572.93" y1="205.50" x2="572.93" y2="278.40" stroke="#e4e4e4" stroke-width="0.9"/>
<line x1="572.93" y1="279.90" x2="572.93" y2="281.40" stroke="#bbb" stroke-width="0.6"/>
<line x1="583.34" y1="205.50" x2="583.34" y2="278.40" stroke="#e4e4e4" stroke-width="0.9"/>
<line x1="583.34" y1="279.90" x2="583.34" y2="281.40" stroke="#bbb" stroke-width="0.6"/>
<line x1="593.75" y1="205.50" x2="593.75" y2="278.40" stroke="#e4e4e4" stroke-width="0.9"/>
<line x1="593.75" y1="279.90" x2="593.75" y2="281.40" stroke="#bbb" stroke-width="0.6"/>
<line x1="604.16" y1="205.50" x2="604.16" y2="278.40" stroke="#e4e4e4" stroke-width="0.9"/>
<line x1="604.16" y1="279.90" x2="604.16" y2="281.40" stroke="#bbb" stroke-width="0.6"/>
<line x1="614.57" y1="205.50" x2="614.57" y2="278.40" stroke="#e4e4e4" stroke-width="0.9"/>
<line x1="614.57" y1="279.90" x2="614.57" y2="281.40" stroke="#bbb" stroke-width="0.6"/>
<line x1="624.98" y1="205.50" x2="624.98" y2="278.40" stroke="#e4e4e4" stroke-width="0.9"/>
<line x1="624.98" y1="279.90" x2="624.98" y2="281.40" stroke="#bbb" stroke-width="0.6"/>
<line x1="635.39" y1="205.50" x2="635.39" y2="278.40" stroke="#e4e4e4" stroke-width="0.9"/>
<line x1="635.39" y1="279.90" x2="635.39" y2="281.40" stroke="#bbb" stroke-width="0.6"/>
<line x1="645.80" y1="205.50" x2="645.80" y2="278.40" stroke="#e4e4e4" stroke-width="0.9"/>
<line x1="645.80" y1="279.90" x2="645.80" y2="281.40" stroke="#bbb" stroke-width="0.6"/>
<line x1="656.21" y1="205.50" x2="656.21" y2="278.40" stroke="#e4e4e4" stroke-width="0.9"/>
<line x1="656.21" y1="279.90" x2="656.21" y2="281.40" stroke="#bbb" stroke-width="0.6"/>
<line x1="666.62" y1="205.50" x2="666.62" y2="278.40" stroke="#e4e4e4" stroke-width="0.9"/>
<line x1="666.62" y1="279.90" x2="666.62" y2="281.40" stroke="#bbb" stroke-width="0.6"/>
<line x1="677.03" y1="205.50" x2="677.03" y2="278.40" stroke="#e4e4e4" stroke-width="0.9"/>
<line x1="677.03" y1="279.90" x2="677.03" y2="281.40" stroke="#bbb" stroke-width="0.6"/>
<rect x="537.10" y="209.63" width="9.20" height="68.77" fill="#555"/>
<text x="541.7" y="218.6" font-size="6.0" text-anchor="middle" fill="#eee">219</text>
<rect x="547.51" y="234.13" width="9.20" height="44.27" fill="#555"/>
<text x="552.1" y="232.9" font-size="5.8" text-anchor="middle" fill="#333">141</text>
<rect x="557.92" y="241.98" width="9.20" height="36.42" fill="#555"/>
<text x="562.5" y="240.8" font-size="5.8" text-anchor="middle" fill="#333">116</text>
<rect x="568.33" y="269.29" width="9.20" height="9.11" fill="#555"/>
<text x="572.9" y="268.1" font-size="5.8" text-anchor="middle" fill="#333">29</text>
<rect x="578.74" y="270.24" width="9.20" height="8.16" fill="#555"/>
<text x="583.3" y="269.0" font-size="5.8" text-anchor="middle" fill="#333">26</text>
<rect x="589.15" y="274.63" width="9.20" height="3.77" fill="#555"/>
<text x="593.8" y="273.4" font-size="5.8" text-anchor="middle" fill="#333">12</text>
<rect x="599.56" y="276.83" width="9.20" height="1.57" fill="#555"/>
<text x="604.2" y="275.6" font-size="5.8" text-anchor="middle" fill="#333">5</text>
<rect x="609.97" y="277.14" width="9.20" height="1.26" fill="#555"/>
<text x="614.6" y="275.9" font-size="5.8" text-anchor="middle" fill="#333">4</text>
<rect x="620.38" y="277.46" width="9.20" height="0.94" fill="#555"/>
<text x="625.0" y="276.3" font-size="5.8" text-anchor="middle" fill="#333">3</text>
<rect x="630.79" y="277.77" width="9.20" height="0.63" fill="#555"/>
<text x="635.4" y="276.6" font-size="5.8" text-anchor="middle" fill="#333">2</text>
<rect x="641.20" y="277.80" width="9.20" height="0.60" fill="#555"/>
<text x="645.8" y="276.6" font-size="5.8" text-anchor="middle" fill="#333">1</text>
<rect x="651.61" y="277.80" width="9.20" height="0.60" fill="#555"/>
<text x="656.2" y="276.6" font-size="5.8" text-anchor="middle" fill="#333">1</text>
<rect x="662.02" y="277.80" width="9.20" height="0.60" fill="#555"/>
<text x="666.6" y="276.6" font-size="5.8" text-anchor="middle" fill="#333">1</text>
<rect x="672.43" y="277.80" width="9.20" height="0.60" fill="#555"/>
<text x="677.0" y="276.6" font-size="5.8" text-anchor="middle" fill="#333">1</text>
<text x="533.7" y="280.4" font-size="5.2" text-anchor="end" fill="#333">0</text>
<text x="533.7" y="264.7" font-size="5.2" text-anchor="end" fill="#333">50</text>
<text x="533.7" y="249.0" font-size="5.2" text-anchor="end" fill="#333">100</text>
<text x="533.7" y="233.3" font-size="5.2" text-anchor="end" fill="#333">150</text>
<text x="533.7" y="217.6" font-size="5.2" text-anchor="end" fill="#333">200</text>
<text x="521.9" y="243.8" font-size="6.1" text-anchor="middle" fill="#222" transform="rotate(-90 521.9 243.8)" textLength="40.5" lengthAdjust="spacingAndGlyphs">Intersection size</text>
<rect x="487.50" y="299.72" width="195.30" height="5.30" fill="#ececec"/>
<rect x="487.50" y="310.34" width="195.30" height="5.30" fill="#ececec"/>
<rect x="487.50" y="320.96" width="195.30" height="5.30" fill="#ececec"/>
<rect x="490.00" y="290.05" width="33.30" height="3.40" fill="#555"/>
<text x="526.6" y="293.8" font-size="5.4" fill="#333">AP</text>
<rect x="501.30" y="295.36" width="22.00" height="3.40" fill="#555"/>
<text x="526.6" y="299.1" font-size="5.4" fill="#333">ES</text>
<rect x="505.50" y="300.67" width="17.80" height="3.40" fill="#555"/>
<text x="526.6" y="304.4" font-size="5.4" fill="#333">AT</text>
<rect x="518.60" y="305.98" width="4.70" height="3.40" fill="#555"/>
<text x="526.6" y="309.7" font-size="5.4" fill="#333">RI</text>
<rect x="519.00" y="311.29" width="4.30" height="3.40" fill="#555"/>
<text x="526.6" y="315.0" font-size="5.4" fill="#333">AD</text>
<rect x="522.30" y="316.60" width="1.00" height="3.40" fill="#555"/>
<text x="526.6" y="320.3" font-size="5.4" fill="#333">AA</text>
<rect x="522.80" y="321.91" width="0.50" height="3.40" fill="#555"/>
<text x="526.6" y="325.6" font-size="5.4" fill="#333">ME</text>
<circle cx="541.7" cy="291.8" r="2.35" fill="#cfcfcf"/>
<circle cx="541.7" cy="297.1" r="2.35" fill="#cfcfcf"/>
<circle cx="541.7" cy="302.4" r="2.35" fill="#cfcfcf"/>
<circle cx="541.7" cy="307.7" r="2.35" fill="#cfcfcf"/>
<circle cx="541.7" cy="313.0" r="2.35" fill="#cfcfcf"/>
<circle cx="541.7" cy="318.3" r="2.35" fill="#cfcfcf"/>
<circle cx="541.7" cy="323.6" r="2.35" fill="#cfcfcf"/>
<circle cx="541.7" cy="291.8" r="2.35" fill="#000"/>
<circle cx="552.1" cy="291.8" r="2.35" fill="#cfcfcf"/>
<circle cx="552.1" cy="297.1" r="2.35" fill="#cfcfcf"/>
<circle cx="552.1" cy="302.4" r="2.35" fill="#cfcfcf"/>
<circle cx="552.1" cy="307.7" r="2.35" fill="#cfcfcf"/>
<circle cx="552.1" cy="313.0" r="2.35" fill="#cfcfcf"/>
<circle cx="552.1" cy="318.3" r="2.35" fill="#cfcfcf"/>
<circle cx="552.1" cy="323.6" r="2.35" fill="#cfcfcf"/>
<circle cx="552.1" cy="297.1" r="2.35" fill="#000"/>
<circle cx="562.5" cy="291.8" r="2.35" fill="#cfcfcf"/>
<circle cx="562.5" cy="297.1" r="2.35" fill="#cfcfcf"/>
<circle cx="562.5" cy="302.4" r="2.35" fill="#cfcfcf"/>
<circle cx="562.5" cy="307.7" r="2.35" fill="#cfcfcf"/>
<circle cx="562.5" cy="313.0" r="2.35" fill="#cfcfcf"/>
<circle cx="562.5" cy="318.3" r="2.35" fill="#cfcfcf"/>
<circle cx="562.5" cy="323.6" r="2.35" fill="#cfcfcf"/>
<circle cx="562.5" cy="302.4" r="2.35" fill="#000"/>
<circle cx="572.9" cy="291.8" r="2.35" fill="#cfcfcf"/>
<circle cx="572.9" cy="297.1" r="2.35" fill="#cfcfcf"/>
<circle cx="572.9" cy="302.4" r="2.35" fill="#cfcfcf"/>
<circle cx="572.9" cy="307.7" r="2.35" fill="#cfcfcf"/>
<circle cx="572.9" cy="313.0" r="2.35" fill="#cfcfcf"/>
<circle cx="572.9" cy="318.3" r="2.35" fill="#cfcfcf"/>
<circle cx="572.9" cy="323.6" r="2.35" fill="#cfcfcf"/>
<circle cx="572.9" cy="307.7" r="2.35" fill="#000"/>
<circle cx="583.3" cy="291.8" r="2.35" fill="#cfcfcf"/>
<circle cx="583.3" cy="297.1" r="2.35" fill="#cfcfcf"/>
<circle cx="583.3" cy="302.4" r="2.35" fill="#cfcfcf"/>
<circle cx="583.3" cy="307.7" r="2.35" fill="#cfcfcf"/>
<circle cx="583.3" cy="313.0" r="2.35" fill="#cfcfcf"/>
<circle cx="583.3" cy="318.3" r="2.35" fill="#cfcfcf"/>
<circle cx="583.3" cy="323.6" r="2.35" fill="#cfcfcf"/>
<circle cx="583.3" cy="313.0" r="2.35" fill="#000"/>
<circle cx="593.8" cy="291.8" r="2.35" fill="#cfcfcf"/>
<circle cx="593.8" cy="297.1" r="2.35" fill="#cfcfcf"/>
<circle cx="593.8" cy="302.4" r="2.35" fill="#cfcfcf"/>
<circle cx="593.8" cy="307.7" r="2.35" fill="#cfcfcf"/>
<circle cx="593.8" cy="313.0" r="2.35" fill="#cfcfcf"/>
<circle cx="593.8" cy="318.3" r="2.35" fill="#cfcfcf"/>
<circle cx="593.8" cy="323.6" r="2.35" fill="#cfcfcf"/>
<circle cx="593.8" cy="318.3" r="2.35" fill="#000"/>
<circle cx="604.2" cy="291.8" r="2.35" fill="#cfcfcf"/>
<circle cx="604.2" cy="297.1" r="2.35" fill="#cfcfcf"/>
<circle cx="604.2" cy="302.4" r="2.35" fill="#cfcfcf"/>
<circle cx="604.2" cy="307.7" r="2.35" fill="#cfcfcf"/>
<circle cx="604.2" cy="313.0" r="2.35" fill="#cfcfcf"/>
<circle cx="604.2" cy="318.3" r="2.35" fill="#cfcfcf"/>
<circle cx="604.2" cy="323.6" r="2.35" fill="#cfcfcf"/>
<line x1="604.16" y1="291.75" x2="604.16" y2="297.06" stroke="#000" stroke-width="1.2"/>
<circle cx="604.2" cy="291.8" r="2.35" fill="#000"/>
<circle cx="604.2" cy="297.1" r="2.35" fill="#000"/>
<circle cx="614.6" cy="291.8" r="2.35" fill="#cfcfcf"/>
<circle cx="614.6" cy="297.1" r="2.35" fill="#cfcfcf"/>
<circle cx="614.6" cy="302.4" r="2.35" fill="#cfcfcf"/>
<circle cx="614.6" cy="307.7" r="2.35" fill="#cfcfcf"/>
<circle cx="614.6" cy="313.0" r="2.35" fill="#cfcfcf"/>
<circle cx="614.6" cy="318.3" r="2.35" fill="#cfcfcf"/>
<circle cx="614.6" cy="323.6" r="2.35" fill="#cfcfcf"/>
<line x1="614.57" y1="291.75" x2="614.57" y2="302.37" stroke="#000" stroke-width="1.2"/>
<circle cx="614.6" cy="291.8" r="2.35" fill="#000"/>
<circle cx="614.6" cy="302.4" r="2.35" fill="#000"/>
<circle cx="625.0" cy="291.8" r="2.35" fill="#cfcfcf"/>
<circle cx="625.0" cy="297.1" r="2.35" fill="#cfcfcf"/>
<circle cx="625.0" cy="302.4" r="2.35" fill="#cfcfcf"/>
<circle cx="625.0" cy="307.7" r="2.35" fill="#cfcfcf"/>
<circle cx="625.0" cy="313.0" r="2.35" fill="#cfcfcf"/>
<circle cx="625.0" cy="318.3" r="2.35" fill="#cfcfcf"/>
<circle cx="625.0" cy="323.6" r="2.35" fill="#cfcfcf"/>
<line x1="624.98" y1="297.06" x2="624.98" y2="312.99" stroke="#000" stroke-width="1.2"/>
<circle cx="625.0" cy="297.1" r="2.35" fill="#000"/>
<circle cx="625.0" cy="313.0" r="2.35" fill="#000"/>
<circle cx="635.4" cy="291.8" r="2.35" fill="#cfcfcf"/>
<circle cx="635.4" cy="297.1" r="2.35" fill="#cfcfcf"/>
<circle cx="635.4" cy="302.4" r="2.35" fill="#cfcfcf"/>
<circle cx="635.4" cy="307.7" r="2.35" fill="#cfcfcf"/>
<circle cx="635.4" cy="313.0" r="2.35" fill="#cfcfcf"/>
<circle cx="635.4" cy="318.3" r="2.35" fill="#cfcfcf"/>
<circle cx="635.4" cy="323.6" r="2.35" fill="#cfcfcf"/>
<circle cx="635.4" cy="323.6" r="2.35" fill="#000"/>
<circle cx="645.8" cy="291.8" r="2.35" fill="#cfcfcf"/>
<circle cx="645.8" cy="297.1" r="2.35" fill="#cfcfcf"/>
<circle cx="645.8" cy="302.4" r="2.35" fill="#cfcfcf"/>
<circle cx="645.8" cy="307.7" r="2.35" fill="#cfcfcf"/>
<circle cx="645.8" cy="313.0" r="2.35" fill="#cfcfcf"/>
<circle cx="645.8" cy="318.3" r="2.35" fill="#cfcfcf"/>
<circle cx="645.8" cy="323.6" r="2.35" fill="#cfcfcf"/>
<line x1="645.80" y1="307.68" x2="645.80" y2="318.30" stroke="#000" stroke-width="1.2"/>
<circle cx="645.8" cy="307.7" r="2.35" fill="#000"/>
<circle cx="645.8" cy="318.3" r="2.35" fill="#000"/>
<circle cx="656.2" cy="291.8" r="2.35" fill="#cfcfcf"/>
<circle cx="656.2" cy="297.1" r="2.35" fill="#cfcfcf"/>
<circle cx="656.2" cy="302.4" r="2.35" fill="#cfcfcf"/>
<circle cx="656.2" cy="307.7" r="2.35" fill="#cfcfcf"/>
<circle cx="656.2" cy="313.0" r="2.35" fill="#cfcfcf"/>
<circle cx="656.2" cy="318.3" r="2.35" fill="#cfcfcf"/>
<circle cx="656.2" cy="323.6" r="2.35" fill="#cfcfcf"/>
<line x1="656.21" y1="297.06" x2="656.21" y2="323.61" stroke="#000" stroke-width="1.2"/>
<circle cx="656.2" cy="297.1" r="2.35" fill="#000"/>
<circle cx="656.2" cy="323.6" r="2.35" fill="#000"/>
<circle cx="666.6" cy="291.8" r="2.35" fill="#cfcfcf"/>
<circle cx="666.6" cy="297.1" r="2.35" fill="#cfcfcf"/>
<circle cx="666.6" cy="302.4" r="2.35" fill="#cfcfcf"/>
<circle cx="666.6" cy="307.7" r="2.35" fill="#cfcfcf"/>
<circle cx="666.6" cy="313.0" r="2.35" fill="#cfcfcf"/>
<circle cx="666.6" cy="318.3" r="2.35" fill="#cfcfcf"/>
<circle cx="666.6" cy="323.6" r="2.35" fill="#cfcfcf"/>
<line x1="666.62" y1="297.06" x2="666.62" y2="302.37" stroke="#000" stroke-width="1.2"/>
<circle cx="666.6" cy="297.1" r="2.35" fill="#000"/>
<circle cx="666.6" cy="302.4" r="2.35" fill="#000"/>
<circle cx="677.0" cy="291.8" r="2.35" fill="#cfcfcf"/>
<circle cx="677.0" cy="297.1" r="2.35" fill="#cfcfcf"/>
<circle cx="677.0" cy="302.4" r="2.35" fill="#cfcfcf"/>
<circle cx="677.0" cy="307.7" r="2.35" fill="#cfcfcf"/>
<circle cx="677.0" cy="313.0" r="2.35" fill="#cfcfcf"/>
<circle cx="677.0" cy="318.3" r="2.35" fill="#cfcfcf"/>
<circle cx="677.0" cy="323.6" r="2.35" fill="#cfcfcf"/>
<line x1="677.03" y1="291.75" x2="677.03" y2="307.68" stroke="#000" stroke-width="1.2"/>
<circle cx="677.0" cy="291.8" r="2.35" fill="#000"/>
<circle cx="677.0" cy="307.7" r="2.35" fill="#000"/>
<text x="489.8" y="332.7" font-size="4.5" text-anchor="middle" fill="#333">200</text>
<text x="498.2" y="332.7" font-size="4.5" text-anchor="middle" fill="#333">150</text>
<text x="506.5" y="332.7" font-size="4.5" text-anchor="middle" fill="#333">100</text>
<text x="514.9" y="332.7" font-size="4.5" text-anchor="middle" fill="#333">50</text>
<text x="523.3" y="332.7" font-size="4.5" text-anchor="middle" fill="#333">0</text>
<text x="496.4" y="339.6" font-size="5.9" fill="#333" textLength="19.6" lengthAdjust="spacingAndGlyphs">Set size</text>
<text x="597.2" y="339.6" font-size="9.8" fill="#222">AS Types</text>
</svg></body></html>
